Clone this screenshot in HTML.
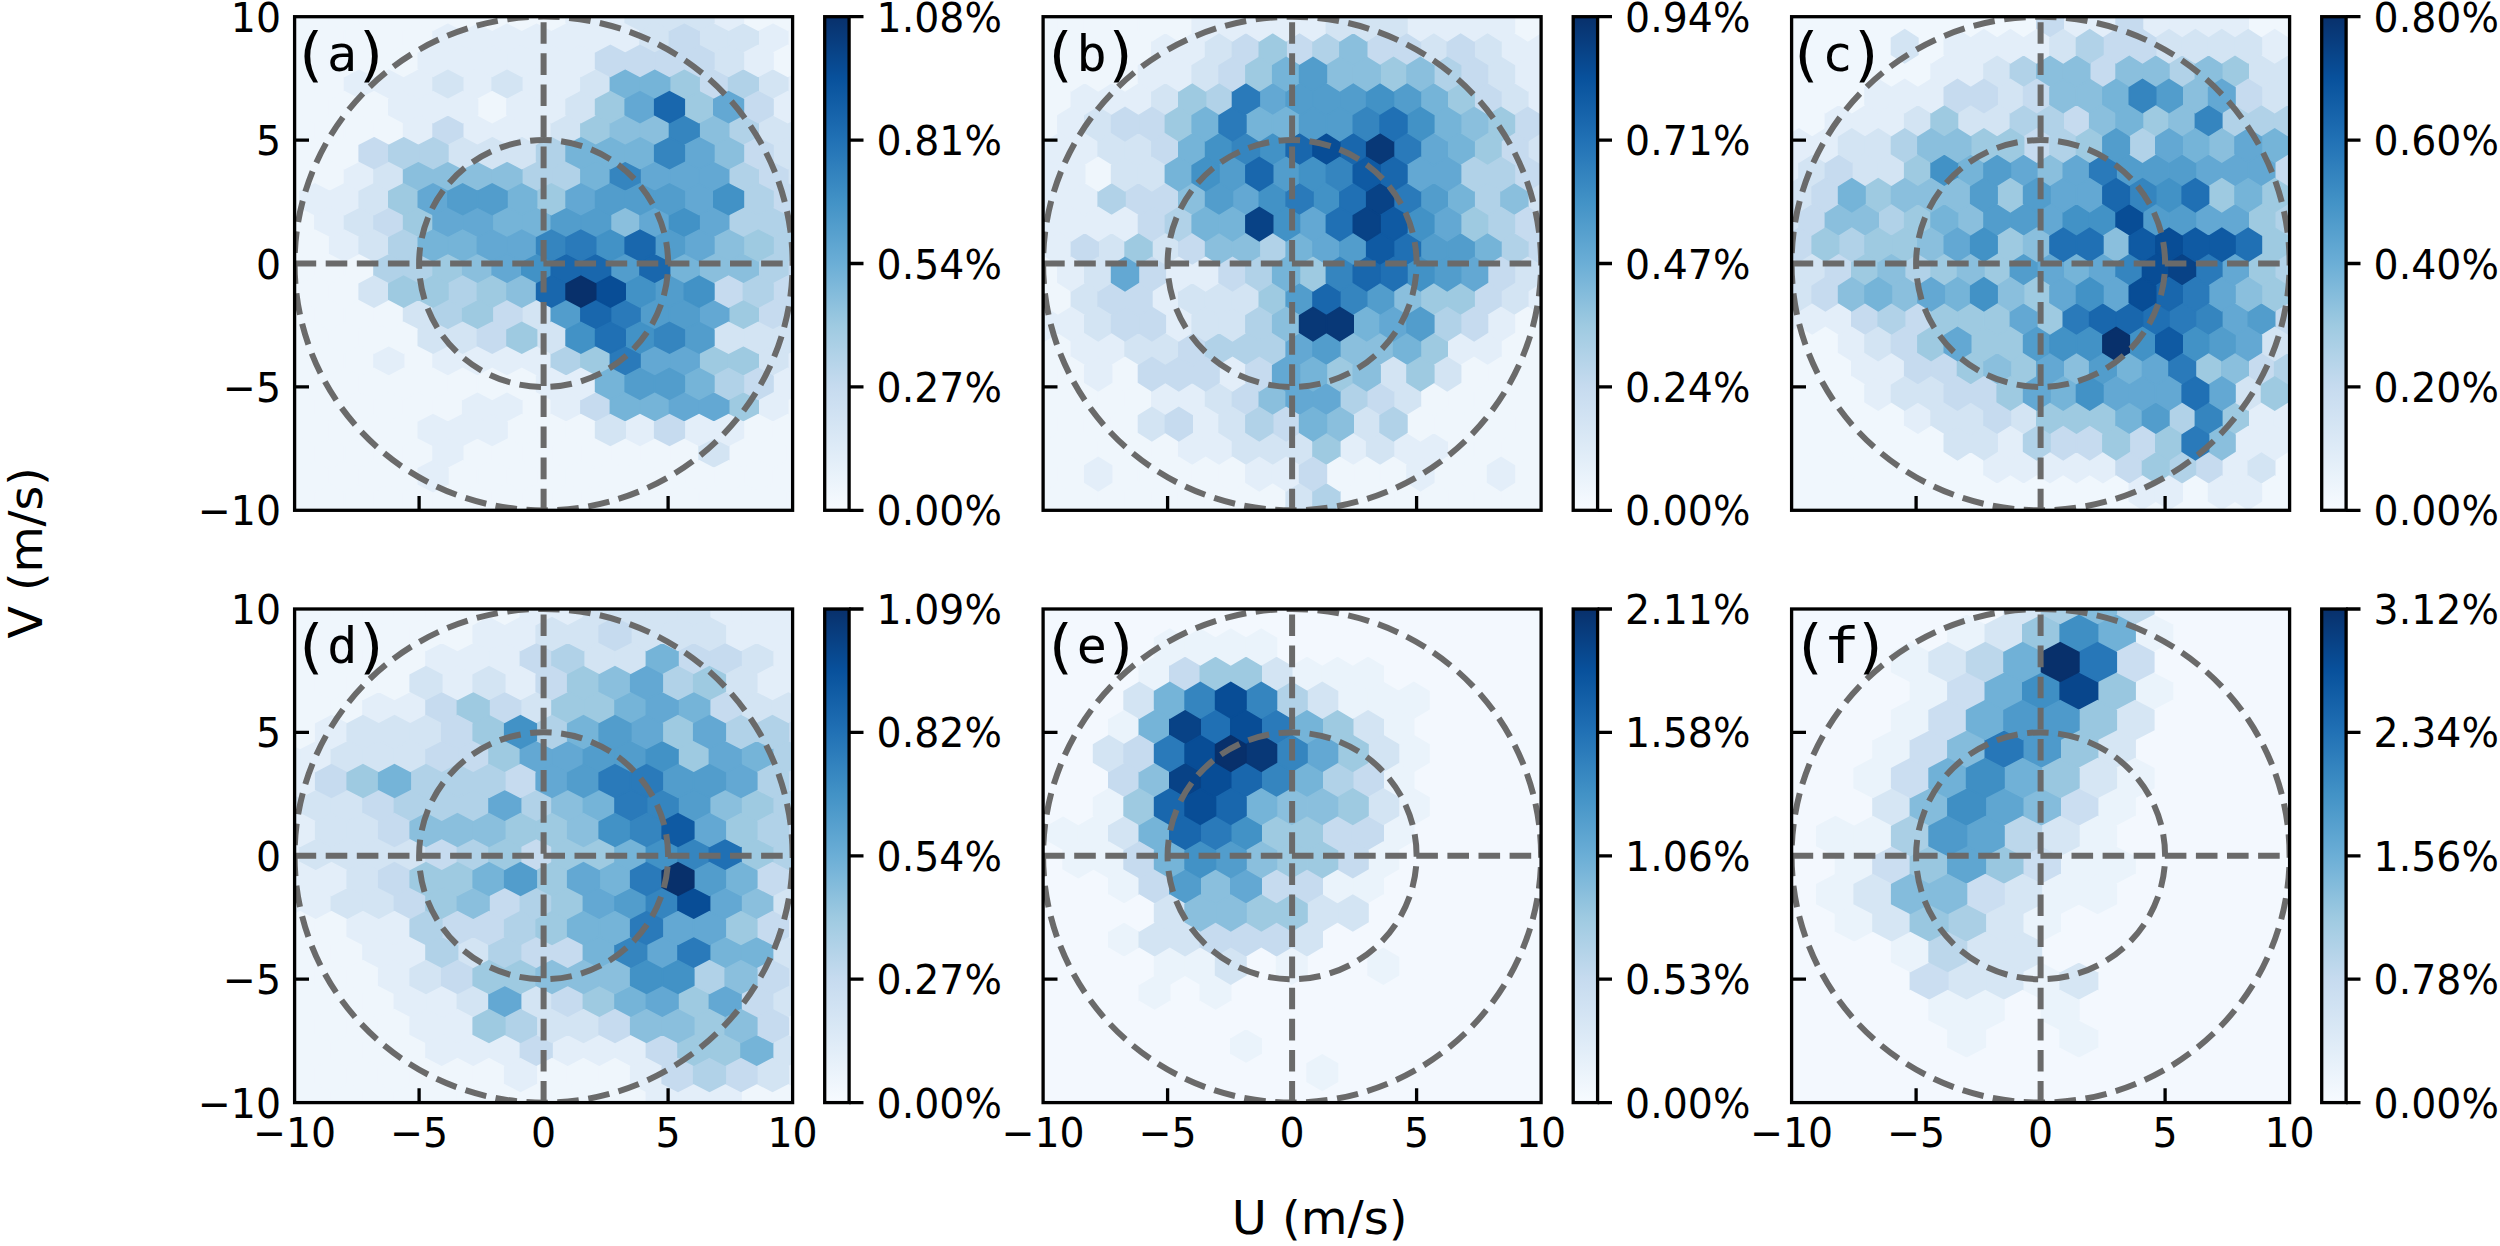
<!DOCTYPE html>
<html lang="en"><head><meta charset="utf-8"><title>Wind hodograph density (U, V)</title>
<style>html,body{margin:0;padding:0;background:#fff}body{width:2500px;height:1246px;overflow:hidden}svg{display:block}text{font-family:"DejaVu Sans","Liberation Sans",sans-serif;fill:#000}.m{font-family:"DejaVu Sans Mono","Liberation Mono",monospace;font-size:50px}.t{font-size:41px}.l{font-size:45.6px}.s{fill:none;stroke:#000;stroke-width:3.3}.d{fill:none;stroke:#6a6a6a;stroke-width:6;stroke-dasharray:21.6 9.5}</style></head><body>
<svg width="2500" height="1246" viewBox="0 0 2500 1246">
<defs><linearGradient id="cb" x1="0" y1="1" x2="0" y2="0">
<stop offset="0" stop-color="#f7fbff"/>
<stop offset="0.125" stop-color="#deebf7"/>
<stop offset="0.25" stop-color="#c6dbef"/>
<stop offset="0.375" stop-color="#9ecae1"/>
<stop offset="0.5" stop-color="#6baed6"/>
<stop offset="0.625" stop-color="#4292c6"/>
<stop offset="0.75" stop-color="#2171b5"/>
<stop offset="0.875" stop-color="#08519c"/>
<stop offset="1" stop-color="#08306b"/>
</linearGradient>
<clipPath id="c0"><rect x="294.6" y="16.7" width="498" height="493.6"/></clipPath>
<clipPath id="c1"><rect x="1043.1" y="16.7" width="498" height="493.6"/></clipPath>
<clipPath id="c2"><rect x="1791.6" y="16.7" width="498" height="493.6"/></clipPath>
<clipPath id="c3"><rect x="294.6" y="609" width="498" height="493.6"/></clipPath>
<clipPath id="c4"><rect x="1043.1" y="609" width="498" height="493.6"/></clipPath>
<clipPath id="c5"><rect x="1791.6" y="609" width="498" height="493.6"/></clipPath>
</defs>
<rect width="2500" height="1246" fill="#fff"/>
<g id="panel-a">
<rect x="294.6" y="16.7" width="498" height="493.6" fill="#f7fbff"/>
<g clip-path="url(#c0)" stroke-width="1.6" stroke-linejoin="miter">
<path fill="#eff6fc" stroke="#eff6fc" d="M300.2 22.5l14.8 7.7v15.4l-14.8 7.7l-14.8 -7.7v-15.4zM329.7 22.5l14.8 7.7v15.4l-14.8 7.7l-14.8 -7.7v-15.4zM359.3 22.5l14.8 7.7v15.4l-14.8 7.7l-14.8 -7.7v-15.4zM388.8 22.5l14.8 7.7v15.4l-14.8 7.7l-14.8 -7.7v-15.4zM418.4 22.5l14.8 7.7v15.4l-14.8 7.7l-14.8 -7.7v-15.4zM802.5 22.5l14.8 7.7v15.4l-14.8 7.7l-14.8 -7.7v-15.4zM300.2 68.6l14.8 7.7v15.4l-14.8 7.7l-14.8 -7.7v-15.4zM329.7 68.6l14.8 7.7v15.4l-14.8 7.7l-14.8 -7.7v-15.4zM300.2 114.7l14.8 7.7v15.4l-14.8 7.7l-14.8 -7.7v-15.4zM329.7 114.7l14.8 7.7v15.4l-14.8 7.7l-14.8 -7.7v-15.4zM359.3 114.7l14.8 7.7v15.4l-14.8 7.7l-14.8 -7.7v-15.4zM388.8 114.7l14.8 7.7v15.4l-14.8 7.7l-14.8 -7.7v-15.4zM300.2 160.9l14.8 7.7v15.4l-14.8 7.7l-14.8 -7.7v-15.4zM329.7 160.9l14.8 7.7v15.4l-14.8 7.7l-14.8 -7.7v-15.4zM300.2 207l14.8 7.7v15.4l-14.8 7.7l-14.8 -7.7v-15.4zM300.2 253.2l14.8 7.7v15.4l-14.8 7.7l-14.8 -7.7v-15.4zM329.7 253.2l14.8 7.7v15.4l-14.8 7.7l-14.8 -7.7v-15.4zM359.3 253.2l14.8 7.7v15.4l-14.8 7.7l-14.8 -7.7v-15.4zM300.2 299.3l14.8 7.7v15.4l-14.8 7.7l-14.8 -7.7v-15.4zM329.7 299.3l14.8 7.7v15.4l-14.8 7.7l-14.8 -7.7v-15.4zM359.3 299.3l14.8 7.7v15.4l-14.8 7.7l-14.8 -7.7v-15.4zM388.8 299.3l14.8 7.7v15.4l-14.8 7.7l-14.8 -7.7v-15.4zM300.2 345.4l14.8 7.7v15.4l-14.8 7.7l-14.8 -7.7v-15.4zM329.7 345.4l14.8 7.7v15.4l-14.8 7.7l-14.8 -7.7v-15.4zM359.3 345.4l14.8 7.7v15.4l-14.8 7.7l-14.8 -7.7v-15.4zM418.4 345.4l14.8 7.7v15.4l-14.8 7.7l-14.8 -7.7v-15.4zM300.2 391.6l14.8 7.7v15.4l-14.8 7.7l-14.8 -7.7v-15.4zM329.7 391.6l14.8 7.7v15.4l-14.8 7.7l-14.8 -7.7v-15.4zM359.3 391.6l14.8 7.7v15.4l-14.8 7.7l-14.8 -7.7v-15.4zM388.8 391.6l14.8 7.7v15.4l-14.8 7.7l-14.8 -7.7v-15.4zM418.4 391.6l14.8 7.7v15.4l-14.8 7.7l-14.8 -7.7v-15.4zM447.9 391.6l14.8 7.7v15.4l-14.8 7.7l-14.8 -7.7v-15.4zM536.6 391.6l14.8 7.7v15.4l-14.8 7.7l-14.8 -7.7v-15.4zM802.5 391.6l14.8 7.7v15.4l-14.8 7.7l-14.8 -7.7v-15.4zM300.2 437.7l14.8 7.7v15.4l-14.8 7.7l-14.8 -7.7v-15.4zM329.7 437.7l14.8 7.7v15.4l-14.8 7.7l-14.8 -7.7v-15.4zM359.3 437.7l14.8 7.7v15.4l-14.8 7.7l-14.8 -7.7v-15.4zM388.8 437.7l14.8 7.7v15.4l-14.8 7.7l-14.8 -7.7v-15.4zM418.4 437.7l14.8 7.7v15.4l-14.8 7.7l-14.8 -7.7v-15.4zM477.5 437.7l14.8 7.7v15.4l-14.8 7.7l-14.8 -7.7v-15.4zM507 437.7l14.8 7.7v15.4l-14.8 7.7l-14.8 -7.7v-15.4zM536.6 437.7l14.8 7.7v15.4l-14.8 7.7l-14.8 -7.7v-15.4zM566.1 437.7l14.8 7.7v15.4l-14.8 7.7l-14.8 -7.7v-15.4zM595.7 437.7l14.8 7.7v15.4l-14.8 7.7l-14.8 -7.7v-15.4zM625.2 437.7l14.8 7.7v15.4l-14.8 7.7l-14.8 -7.7v-15.4zM654.8 437.7l14.8 7.7v15.4l-14.8 7.7l-14.8 -7.7v-15.4zM684.3 437.7l14.8 7.7v15.4l-14.8 7.7l-14.8 -7.7v-15.4zM743.4 437.7l14.8 7.7v15.4l-14.8 7.7l-14.8 -7.7v-15.4zM773 437.7l14.8 7.7v15.4l-14.8 7.7l-14.8 -7.7v-15.4zM802.5 437.7l14.8 7.7v15.4l-14.8 7.7l-14.8 -7.7v-15.4zM300.2 483.9l14.8 7.7v15.4l-14.8 7.7l-14.8 -7.7v-15.4zM329.7 483.9l14.8 7.7v15.4l-14.8 7.7l-14.8 -7.7v-15.4zM359.3 483.9l14.8 7.7v15.4l-14.8 7.7l-14.8 -7.7v-15.4zM388.8 483.9l14.8 7.7v15.4l-14.8 7.7l-14.8 -7.7v-15.4zM418.4 483.9l14.8 7.7v15.4l-14.8 7.7l-14.8 -7.7v-15.4zM447.9 483.9l14.8 7.7v15.4l-14.8 7.7l-14.8 -7.7v-15.4zM477.5 483.9l14.8 7.7v15.4l-14.8 7.7l-14.8 -7.7v-15.4zM507 483.9l14.8 7.7v15.4l-14.8 7.7l-14.8 -7.7v-15.4zM536.6 483.9l14.8 7.7v15.4l-14.8 7.7l-14.8 -7.7v-15.4zM566.1 483.9l14.8 7.7v15.4l-14.8 7.7l-14.8 -7.7v-15.4zM595.7 483.9l14.8 7.7v15.4l-14.8 7.7l-14.8 -7.7v-15.4zM625.2 483.9l14.8 7.7v15.4l-14.8 7.7l-14.8 -7.7v-15.4zM654.8 483.9l14.8 7.7v15.4l-14.8 7.7l-14.8 -7.7v-15.4zM684.3 483.9l14.8 7.7v15.4l-14.8 7.7l-14.8 -7.7v-15.4zM713.9 483.9l14.8 7.7v15.4l-14.8 7.7l-14.8 -7.7v-15.4zM743.4 483.9l14.8 7.7v15.4l-14.8 7.7l-14.8 -7.7v-15.4zM773 483.9l14.8 7.7v15.4l-14.8 7.7l-14.8 -7.7v-15.4zM802.5 483.9l14.8 7.7v15.4l-14.8 7.7l-14.8 -7.7v-15.4z"/>
<path fill="#e3eef9" stroke="#e3eef9" d="M447.9 22.5l14.8 7.7v15.4l-14.8 7.7l-14.8 -7.7v-15.4zM477.5 22.5l14.8 7.7v15.4l-14.8 7.7l-14.8 -7.7v-15.4zM507 22.5l14.8 7.7v15.4l-14.8 7.7l-14.8 -7.7v-15.4zM536.6 22.5l14.8 7.7v15.4l-14.8 7.7l-14.8 -7.7v-15.4zM566.1 22.5l14.8 7.7v15.4l-14.8 7.7l-14.8 -7.7v-15.4zM595.7 22.5l14.8 7.7v15.4l-14.8 7.7l-14.8 -7.7v-15.4zM625.2 22.5l14.8 7.7v15.4l-14.8 7.7l-14.8 -7.7v-15.4zM773 22.5l14.8 7.7v15.4l-14.8 7.7l-14.8 -7.7v-15.4zM359.3 68.6l14.8 7.7v15.4l-14.8 7.7l-14.8 -7.7v-15.4zM388.8 68.6l14.8 7.7v15.4l-14.8 7.7l-14.8 -7.7v-15.4zM418.4 68.6l14.8 7.7v15.4l-14.8 7.7l-14.8 -7.7v-15.4zM477.5 68.6l14.8 7.7v15.4l-14.8 7.7l-14.8 -7.7v-15.4zM536.6 68.6l14.8 7.7v15.4l-14.8 7.7l-14.8 -7.7v-15.4zM566.1 68.6l14.8 7.7v15.4l-14.8 7.7l-14.8 -7.7v-15.4zM802.5 68.6l14.8 7.7v15.4l-14.8 7.7l-14.8 -7.7v-15.4zM418.4 114.7l14.8 7.7v15.4l-14.8 7.7l-14.8 -7.7v-15.4zM477.5 114.7l14.8 7.7v15.4l-14.8 7.7l-14.8 -7.7v-15.4zM507 114.7l14.8 7.7v15.4l-14.8 7.7l-14.8 -7.7v-15.4zM536.6 114.7l14.8 7.7v15.4l-14.8 7.7l-14.8 -7.7v-15.4zM359.3 160.9l14.8 7.7v15.4l-14.8 7.7l-14.8 -7.7v-15.4zM329.7 207l14.8 7.7v15.4l-14.8 7.7l-14.8 -7.7v-15.4zM388.8 345.4l14.8 7.7v15.4l-14.8 7.7l-14.8 -7.7v-15.4zM447.9 345.4l14.8 7.7v15.4l-14.8 7.7l-14.8 -7.7v-15.4zM477.5 345.4l14.8 7.7v15.4l-14.8 7.7l-14.8 -7.7v-15.4zM507 345.4l14.8 7.7v15.4l-14.8 7.7l-14.8 -7.7v-15.4zM536.6 345.4l14.8 7.7v15.4l-14.8 7.7l-14.8 -7.7v-15.4zM802.5 345.4l14.8 7.7v15.4l-14.8 7.7l-14.8 -7.7v-15.4zM477.5 391.6l14.8 7.7v15.4l-14.8 7.7l-14.8 -7.7v-15.4zM507 391.6l14.8 7.7v15.4l-14.8 7.7l-14.8 -7.7v-15.4zM566.1 391.6l14.8 7.7v15.4l-14.8 7.7l-14.8 -7.7v-15.4zM773 391.6l14.8 7.7v15.4l-14.8 7.7l-14.8 -7.7v-15.4zM447.9 437.7l14.8 7.7v15.4l-14.8 7.7l-14.8 -7.7v-15.4z"/>
<path fill="#d3e4f3" stroke="#d3e4f3" d="M654.8 22.5l14.8 7.7v15.4l-14.8 7.7l-14.8 -7.7v-15.4zM713.9 22.5l14.8 7.7v15.4l-14.8 7.7l-14.8 -7.7v-15.4zM743.4 22.5l14.8 7.7v15.4l-14.8 7.7l-14.8 -7.7v-15.4zM447.9 68.6l14.8 7.7v15.4l-14.8 7.7l-14.8 -7.7v-15.4zM507 68.6l14.8 7.7v15.4l-14.8 7.7l-14.8 -7.7v-15.4zM595.7 68.6l14.8 7.7v15.4l-14.8 7.7l-14.8 -7.7v-15.4zM773 68.6l14.8 7.7v15.4l-14.8 7.7l-14.8 -7.7v-15.4zM566.1 114.7l14.8 7.7v15.4l-14.8 7.7l-14.8 -7.7v-15.4zM773 114.7l14.8 7.7v15.4l-14.8 7.7l-14.8 -7.7v-15.4zM802.5 114.7l14.8 7.7v15.4l-14.8 7.7l-14.8 -7.7v-15.4zM388.8 160.9l14.8 7.7v15.4l-14.8 7.7l-14.8 -7.7v-15.4zM802.5 160.9l14.8 7.7v15.4l-14.8 7.7l-14.8 -7.7v-15.4zM359.3 207l14.8 7.7v15.4l-14.8 7.7l-14.8 -7.7v-15.4zM418.4 299.3l14.8 7.7v15.4l-14.8 7.7l-14.8 -7.7v-15.4zM536.6 299.3l14.8 7.7v15.4l-14.8 7.7l-14.8 -7.7v-15.4zM802.5 299.3l14.8 7.7v15.4l-14.8 7.7l-14.8 -7.7v-15.4zM773 345.4l14.8 7.7v15.4l-14.8 7.7l-14.8 -7.7v-15.4zM713.9 437.7l14.8 7.7v15.4l-14.8 7.7l-14.8 -7.7v-15.4z"/>
<path fill="#c6dbef" stroke="#c6dbef" d="M684.3 22.5l14.8 7.7v15.4l-14.8 7.7l-14.8 -7.7v-15.4zM713.9 68.6l14.8 7.7v15.4l-14.8 7.7l-14.8 -7.7v-15.4zM447.9 114.7l14.8 7.7v15.4l-14.8 7.7l-14.8 -7.7v-15.4zM773 160.9l14.8 7.7v15.4l-14.8 7.7l-14.8 -7.7v-15.4zM388.8 207l14.8 7.7v15.4l-14.8 7.7l-14.8 -7.7v-15.4zM802.5 207l14.8 7.7v15.4l-14.8 7.7l-14.8 -7.7v-15.4zM802.5 253.2l14.8 7.7v15.4l-14.8 7.7l-14.8 -7.7v-15.4zM507 299.3l14.8 7.7v15.4l-14.8 7.7l-14.8 -7.7v-15.4zM773 299.3l14.8 7.7v15.4l-14.8 7.7l-14.8 -7.7v-15.4zM595.7 391.6l14.8 7.7v15.4l-14.8 7.7l-14.8 -7.7v-15.4z"/>
<path fill="#b1d2e8" stroke="#b1d2e8" d="M743.4 68.6l14.8 7.7v15.4l-14.8 7.7l-14.8 -7.7v-15.4zM743.4 114.7l14.8 7.7v15.4l-14.8 7.7l-14.8 -7.7v-15.4zM536.6 160.9l14.8 7.7v15.4l-14.8 7.7l-14.8 -7.7v-15.4zM566.1 160.9l14.8 7.7v15.4l-14.8 7.7l-14.8 -7.7v-15.4zM743.4 160.9l14.8 7.7v15.4l-14.8 7.7l-14.8 -7.7v-15.4zM743.4 207l14.8 7.7v15.4l-14.8 7.7l-14.8 -7.7v-15.4zM773 207l14.8 7.7v15.4l-14.8 7.7l-14.8 -7.7v-15.4zM388.8 253.2l14.8 7.7v15.4l-14.8 7.7l-14.8 -7.7v-15.4zM418.4 253.2l14.8 7.7v15.4l-14.8 7.7l-14.8 -7.7v-15.4zM773 253.2l14.8 7.7v15.4l-14.8 7.7l-14.8 -7.7v-15.4zM447.9 299.3l14.8 7.7v15.4l-14.8 7.7l-14.8 -7.7v-15.4zM566.1 345.4l14.8 7.7v15.4l-14.8 7.7l-14.8 -7.7v-15.4z"/>
<path fill="#9ecae1" stroke="#9ecae1" d="M684.3 68.6l14.8 7.7v15.4l-14.8 7.7l-14.8 -7.7v-15.4zM595.7 114.7l14.8 7.7v15.4l-14.8 7.7l-14.8 -7.7v-15.4zM418.4 207l14.8 7.7v15.4l-14.8 7.7l-14.8 -7.7v-15.4zM447.9 253.2l14.8 7.7v15.4l-14.8 7.7l-14.8 -7.7v-15.4zM477.5 299.3l14.8 7.7v15.4l-14.8 7.7l-14.8 -7.7v-15.4zM743.4 299.3l14.8 7.7v15.4l-14.8 7.7l-14.8 -7.7v-15.4zM595.7 345.4l14.8 7.7v15.4l-14.8 7.7l-14.8 -7.7v-15.4zM713.9 345.4l14.8 7.7v15.4l-14.8 7.7l-14.8 -7.7v-15.4zM743.4 345.4l14.8 7.7v15.4l-14.8 7.7l-14.8 -7.7v-15.4zM743.4 391.6l14.8 7.7v15.4l-14.8 7.7l-14.8 -7.7v-15.4z"/>
<path fill="#8abfdd" stroke="#8abfdd" d="M625.2 114.7l14.8 7.7v15.4l-14.8 7.7l-14.8 -7.7v-15.4zM654.8 114.7l14.8 7.7v15.4l-14.8 7.7l-14.8 -7.7v-15.4zM713.9 114.7l14.8 7.7v15.4l-14.8 7.7l-14.8 -7.7v-15.4zM418.4 160.9l14.8 7.7v15.4l-14.8 7.7l-14.8 -7.7v-15.4zM447.9 160.9l14.8 7.7v15.4l-14.8 7.7l-14.8 -7.7v-15.4zM477.5 160.9l14.8 7.7v15.4l-14.8 7.7l-14.8 -7.7v-15.4zM507 160.9l14.8 7.7v15.4l-14.8 7.7l-14.8 -7.7v-15.4zM625.2 207l14.8 7.7v15.4l-14.8 7.7l-14.8 -7.7v-15.4zM477.5 253.2l14.8 7.7v15.4l-14.8 7.7l-14.8 -7.7v-15.4zM713.9 253.2l14.8 7.7v15.4l-14.8 7.7l-14.8 -7.7v-15.4zM743.4 253.2l14.8 7.7v15.4l-14.8 7.7l-14.8 -7.7v-15.4z"/>
<path fill="#75b4d8" stroke="#75b4d8" d="M625.2 68.6l14.8 7.7v15.4l-14.8 7.7l-14.8 -7.7v-15.4zM654.8 68.6l14.8 7.7v15.4l-14.8 7.7l-14.8 -7.7v-15.4zM595.7 160.9l14.8 7.7v15.4l-14.8 7.7l-14.8 -7.7v-15.4zM507 207l14.8 7.7v15.4l-14.8 7.7l-14.8 -7.7v-15.4zM536.6 207l14.8 7.7v15.4l-14.8 7.7l-14.8 -7.7v-15.4zM684.3 253.2l14.8 7.7v15.4l-14.8 7.7l-14.8 -7.7v-15.4zM625.2 391.6l14.8 7.7v15.4l-14.8 7.7l-14.8 -7.7v-15.4zM654.8 391.6l14.8 7.7v15.4l-14.8 7.7l-14.8 -7.7v-15.4z"/>
<path fill="#63a8d3" stroke="#63a8d3" d="M654.8 160.9l14.8 7.7v15.4l-14.8 7.7l-14.8 -7.7v-15.4zM684.3 160.9l14.8 7.7v15.4l-14.8 7.7l-14.8 -7.7v-15.4zM713.9 160.9l14.8 7.7v15.4l-14.8 7.7l-14.8 -7.7v-15.4zM447.9 207l14.8 7.7v15.4l-14.8 7.7l-14.8 -7.7v-15.4zM477.5 207l14.8 7.7v15.4l-14.8 7.7l-14.8 -7.7v-15.4zM654.8 207l14.8 7.7v15.4l-14.8 7.7l-14.8 -7.7v-15.4zM713.9 207l14.8 7.7v15.4l-14.8 7.7l-14.8 -7.7v-15.4zM507 253.2l14.8 7.7v15.4l-14.8 7.7l-14.8 -7.7v-15.4zM713.9 299.3l14.8 7.7v15.4l-14.8 7.7l-14.8 -7.7v-15.4zM654.8 345.4l14.8 7.7v15.4l-14.8 7.7l-14.8 -7.7v-15.4zM684.3 345.4l14.8 7.7v15.4l-14.8 7.7l-14.8 -7.7v-15.4zM684.3 391.6l14.8 7.7v15.4l-14.8 7.7l-14.8 -7.7v-15.4zM713.9 391.6l14.8 7.7v15.4l-14.8 7.7l-14.8 -7.7v-15.4z"/>
<path fill="#529dcc" stroke="#529dcc" d="M566.1 207l14.8 7.7v15.4l-14.8 7.7l-14.8 -7.7v-15.4zM595.7 207l14.8 7.7v15.4l-14.8 7.7l-14.8 -7.7v-15.4zM625.2 253.2l14.8 7.7v15.4l-14.8 7.7l-14.8 -7.7v-15.4zM566.1 299.3l14.8 7.7v15.4l-14.8 7.7l-14.8 -7.7v-15.4zM654.8 299.3l14.8 7.7v15.4l-14.8 7.7l-14.8 -7.7v-15.4zM684.3 299.3l14.8 7.7v15.4l-14.8 7.7l-14.8 -7.7v-15.4z"/>
<path fill="#4292c6" stroke="#4292c6" d="M684.3 207l14.8 7.7v15.4l-14.8 7.7l-14.8 -7.7v-15.4zM536.6 253.2l14.8 7.7v15.4l-14.8 7.7l-14.8 -7.7v-15.4z"/>
<path fill="#3585bf" stroke="#3585bf" d="M684.3 114.7l14.8 7.7v15.4l-14.8 7.7l-14.8 -7.7v-15.4zM625.2 160.9l14.8 7.7v15.4l-14.8 7.7l-14.8 -7.7v-15.4z"/>
<path fill="#2a7aba" stroke="#2a7aba" d="M625.2 299.3l14.8 7.7v15.4l-14.8 7.7l-14.8 -7.7v-15.4zM625.2 345.4l14.8 7.7v15.4l-14.8 7.7l-14.8 -7.7v-15.4z"/>
<path fill="#1967ad" stroke="#1967ad" d="M566.1 253.2l14.8 7.7v15.4l-14.8 7.7l-14.8 -7.7v-15.4zM595.7 253.2l14.8 7.7v15.4l-14.8 7.7l-14.8 -7.7v-15.4zM654.8 253.2l14.8 7.7v15.4l-14.8 7.7l-14.8 -7.7v-15.4zM595.7 299.3l14.8 7.7v15.4l-14.8 7.7l-14.8 -7.7v-15.4z"/>
<path fill="#eff6fc" stroke="#eff6fc" d="M285.4 -0.6l14.8 7.7v15.4l-14.8 7.7l-14.8 -7.7v-15.4zM314.9 -0.6l14.8 7.7v15.4l-14.8 7.7l-14.8 -7.7v-15.4zM344.5 -0.6l14.8 7.7v15.4l-14.8 7.7l-14.8 -7.7v-15.4zM374 -0.6l14.8 7.7v15.4l-14.8 7.7l-14.8 -7.7v-15.4zM403.6 -0.6l14.8 7.7v15.4l-14.8 7.7l-14.8 -7.7v-15.4zM433.1 -0.6l14.8 7.7v15.4l-14.8 7.7l-14.8 -7.7v-15.4zM462.7 -0.6l14.8 7.7v15.4l-14.8 7.7l-14.8 -7.7v-15.4zM492.2 -0.6l14.8 7.7v15.4l-14.8 7.7l-14.8 -7.7v-15.4zM521.8 -0.6l14.8 7.7v15.4l-14.8 7.7l-14.8 -7.7v-15.4zM551.4 -0.6l14.8 7.7v15.4l-14.8 7.7l-14.8 -7.7v-15.4zM758.2 -0.6l14.8 7.7v15.4l-14.8 7.7l-14.8 -7.7v-15.4zM787.8 -0.6l14.8 7.7v15.4l-14.8 7.7l-14.8 -7.7v-15.4zM285.4 45.5l14.8 7.7v15.4l-14.8 7.7l-14.8 -7.7v-15.4zM314.9 45.5l14.8 7.7v15.4l-14.8 7.7l-14.8 -7.7v-15.4zM344.5 45.5l14.8 7.7v15.4l-14.8 7.7l-14.8 -7.7v-15.4zM374 45.5l14.8 7.7v15.4l-14.8 7.7l-14.8 -7.7v-15.4zM403.6 45.5l14.8 7.7v15.4l-14.8 7.7l-14.8 -7.7v-15.4zM787.8 45.5l14.8 7.7v15.4l-14.8 7.7l-14.8 -7.7v-15.4zM285.4 91.7l14.8 7.7v15.4l-14.8 7.7l-14.8 -7.7v-15.4zM314.9 91.7l14.8 7.7v15.4l-14.8 7.7l-14.8 -7.7v-15.4zM344.5 91.7l14.8 7.7v15.4l-14.8 7.7l-14.8 -7.7v-15.4zM374 91.7l14.8 7.7v15.4l-14.8 7.7l-14.8 -7.7v-15.4zM492.2 91.7l14.8 7.7v15.4l-14.8 7.7l-14.8 -7.7v-15.4zM285.4 137.8l14.8 7.7v15.4l-14.8 7.7l-14.8 -7.7v-15.4zM314.9 137.8l14.8 7.7v15.4l-14.8 7.7l-14.8 -7.7v-15.4zM344.5 137.8l14.8 7.7v15.4l-14.8 7.7l-14.8 -7.7v-15.4zM285.4 183.9l14.8 7.7v15.4l-14.8 7.7l-14.8 -7.7v-15.4zM285.4 230.1l14.8 7.7v15.4l-14.8 7.7l-14.8 -7.7v-15.4zM314.9 230.1l14.8 7.7v15.4l-14.8 7.7l-14.8 -7.7v-15.4zM285.4 276.2l14.8 7.7v15.4l-14.8 7.7l-14.8 -7.7v-15.4zM314.9 276.2l14.8 7.7v15.4l-14.8 7.7l-14.8 -7.7v-15.4zM344.5 276.2l14.8 7.7v15.4l-14.8 7.7l-14.8 -7.7v-15.4zM285.4 322.4l14.8 7.7v15.4l-14.8 7.7l-14.8 -7.7v-15.4zM314.9 322.4l14.8 7.7v15.4l-14.8 7.7l-14.8 -7.7v-15.4zM344.5 322.4l14.8 7.7v15.4l-14.8 7.7l-14.8 -7.7v-15.4zM374 322.4l14.8 7.7v15.4l-14.8 7.7l-14.8 -7.7v-15.4zM403.6 322.4l14.8 7.7v15.4l-14.8 7.7l-14.8 -7.7v-15.4zM285.4 368.5l14.8 7.7v15.4l-14.8 7.7l-14.8 -7.7v-15.4zM314.9 368.5l14.8 7.7v15.4l-14.8 7.7l-14.8 -7.7v-15.4zM344.5 368.5l14.8 7.7v15.4l-14.8 7.7l-14.8 -7.7v-15.4zM374 368.5l14.8 7.7v15.4l-14.8 7.7l-14.8 -7.7v-15.4zM403.6 368.5l14.8 7.7v15.4l-14.8 7.7l-14.8 -7.7v-15.4zM433.1 368.5l14.8 7.7v15.4l-14.8 7.7l-14.8 -7.7v-15.4zM462.7 368.5l14.8 7.7v15.4l-14.8 7.7l-14.8 -7.7v-15.4zM492.2 368.5l14.8 7.7v15.4l-14.8 7.7l-14.8 -7.7v-15.4zM521.8 368.5l14.8 7.7v15.4l-14.8 7.7l-14.8 -7.7v-15.4zM285.4 414.6l14.8 7.7v15.4l-14.8 7.7l-14.8 -7.7v-15.4zM314.9 414.6l14.8 7.7v15.4l-14.8 7.7l-14.8 -7.7v-15.4zM344.5 414.6l14.8 7.7v15.4l-14.8 7.7l-14.8 -7.7v-15.4zM374 414.6l14.8 7.7v15.4l-14.8 7.7l-14.8 -7.7v-15.4zM403.6 414.6l14.8 7.7v15.4l-14.8 7.7l-14.8 -7.7v-15.4zM521.8 414.6l14.8 7.7v15.4l-14.8 7.7l-14.8 -7.7v-15.4zM551.4 414.6l14.8 7.7v15.4l-14.8 7.7l-14.8 -7.7v-15.4zM580.9 414.6l14.8 7.7v15.4l-14.8 7.7l-14.8 -7.7v-15.4zM758.2 414.6l14.8 7.7v15.4l-14.8 7.7l-14.8 -7.7v-15.4zM787.8 414.6l14.8 7.7v15.4l-14.8 7.7l-14.8 -7.7v-15.4zM285.4 460.8l14.8 7.7v15.4l-14.8 7.7l-14.8 -7.7v-15.4zM314.9 460.8l14.8 7.7v15.4l-14.8 7.7l-14.8 -7.7v-15.4zM344.5 460.8l14.8 7.7v15.4l-14.8 7.7l-14.8 -7.7v-15.4zM374 460.8l14.8 7.7v15.4l-14.8 7.7l-14.8 -7.7v-15.4zM403.6 460.8l14.8 7.7v15.4l-14.8 7.7l-14.8 -7.7v-15.4zM462.7 460.8l14.8 7.7v15.4l-14.8 7.7l-14.8 -7.7v-15.4zM492.2 460.8l14.8 7.7v15.4l-14.8 7.7l-14.8 -7.7v-15.4zM521.8 460.8l14.8 7.7v15.4l-14.8 7.7l-14.8 -7.7v-15.4zM551.4 460.8l14.8 7.7v15.4l-14.8 7.7l-14.8 -7.7v-15.4zM580.9 460.8l14.8 7.7v15.4l-14.8 7.7l-14.8 -7.7v-15.4zM610.4 460.8l14.8 7.7v15.4l-14.8 7.7l-14.8 -7.7v-15.4zM640 460.8l14.8 7.7v15.4l-14.8 7.7l-14.8 -7.7v-15.4zM669.5 460.8l14.8 7.7v15.4l-14.8 7.7l-14.8 -7.7v-15.4zM699.1 460.8l14.8 7.7v15.4l-14.8 7.7l-14.8 -7.7v-15.4zM728.6 460.8l14.8 7.7v15.4l-14.8 7.7l-14.8 -7.7v-15.4zM758.2 460.8l14.8 7.7v15.4l-14.8 7.7l-14.8 -7.7v-15.4zM787.8 460.8l14.8 7.7v15.4l-14.8 7.7l-14.8 -7.7v-15.4zM285.4 506.9l14.8 7.7v15.4l-14.8 7.7l-14.8 -7.7v-15.4zM314.9 506.9l14.8 7.7v15.4l-14.8 7.7l-14.8 -7.7v-15.4zM344.5 506.9l14.8 7.7v15.4l-14.8 7.7l-14.8 -7.7v-15.4zM374 506.9l14.8 7.7v15.4l-14.8 7.7l-14.8 -7.7v-15.4zM403.6 506.9l14.8 7.7v15.4l-14.8 7.7l-14.8 -7.7v-15.4zM433.1 506.9l14.8 7.7v15.4l-14.8 7.7l-14.8 -7.7v-15.4zM462.7 506.9l14.8 7.7v15.4l-14.8 7.7l-14.8 -7.7v-15.4zM492.2 506.9l14.8 7.7v15.4l-14.8 7.7l-14.8 -7.7v-15.4zM521.8 506.9l14.8 7.7v15.4l-14.8 7.7l-14.8 -7.7v-15.4zM551.4 506.9l14.8 7.7v15.4l-14.8 7.7l-14.8 -7.7v-15.4zM580.9 506.9l14.8 7.7v15.4l-14.8 7.7l-14.8 -7.7v-15.4zM610.4 506.9l14.8 7.7v15.4l-14.8 7.7l-14.8 -7.7v-15.4zM640 506.9l14.8 7.7v15.4l-14.8 7.7l-14.8 -7.7v-15.4zM669.5 506.9l14.8 7.7v15.4l-14.8 7.7l-14.8 -7.7v-15.4zM699.1 506.9l14.8 7.7v15.4l-14.8 7.7l-14.8 -7.7v-15.4zM728.6 506.9l14.8 7.7v15.4l-14.8 7.7l-14.8 -7.7v-15.4zM758.2 506.9l14.8 7.7v15.4l-14.8 7.7l-14.8 -7.7v-15.4zM787.8 506.9l14.8 7.7v15.4l-14.8 7.7l-14.8 -7.7v-15.4z"/>
<path fill="#e3eef9" stroke="#e3eef9" d="M580.9 -0.6l14.8 7.7v15.4l-14.8 7.7l-14.8 -7.7v-15.4zM610.4 -0.6l14.8 7.7v15.4l-14.8 7.7l-14.8 -7.7v-15.4zM728.6 -0.6l14.8 7.7v15.4l-14.8 7.7l-14.8 -7.7v-15.4zM433.1 45.5l14.8 7.7v15.4l-14.8 7.7l-14.8 -7.7v-15.4zM462.7 45.5l14.8 7.7v15.4l-14.8 7.7l-14.8 -7.7v-15.4zM492.2 45.5l14.8 7.7v15.4l-14.8 7.7l-14.8 -7.7v-15.4zM521.8 45.5l14.8 7.7v15.4l-14.8 7.7l-14.8 -7.7v-15.4zM551.4 45.5l14.8 7.7v15.4l-14.8 7.7l-14.8 -7.7v-15.4zM580.9 45.5l14.8 7.7v15.4l-14.8 7.7l-14.8 -7.7v-15.4zM758.2 45.5l14.8 7.7v15.4l-14.8 7.7l-14.8 -7.7v-15.4zM403.6 91.7l14.8 7.7v15.4l-14.8 7.7l-14.8 -7.7v-15.4zM433.1 91.7l14.8 7.7v15.4l-14.8 7.7l-14.8 -7.7v-15.4zM462.7 91.7l14.8 7.7v15.4l-14.8 7.7l-14.8 -7.7v-15.4zM521.8 91.7l14.8 7.7v15.4l-14.8 7.7l-14.8 -7.7v-15.4zM551.4 91.7l14.8 7.7v15.4l-14.8 7.7l-14.8 -7.7v-15.4zM787.8 91.7l14.8 7.7v15.4l-14.8 7.7l-14.8 -7.7v-15.4zM314.9 183.9l14.8 7.7v15.4l-14.8 7.7l-14.8 -7.7v-15.4zM344.5 183.9l14.8 7.7v15.4l-14.8 7.7l-14.8 -7.7v-15.4zM344.5 230.1l14.8 7.7v15.4l-14.8 7.7l-14.8 -7.7v-15.4zM551.4 368.5l14.8 7.7v15.4l-14.8 7.7l-14.8 -7.7v-15.4zM580.9 368.5l14.8 7.7v15.4l-14.8 7.7l-14.8 -7.7v-15.4zM787.8 368.5l14.8 7.7v15.4l-14.8 7.7l-14.8 -7.7v-15.4zM433.1 414.6l14.8 7.7v15.4l-14.8 7.7l-14.8 -7.7v-15.4zM462.7 414.6l14.8 7.7v15.4l-14.8 7.7l-14.8 -7.7v-15.4zM492.2 414.6l14.8 7.7v15.4l-14.8 7.7l-14.8 -7.7v-15.4zM640 414.6l14.8 7.7v15.4l-14.8 7.7l-14.8 -7.7v-15.4zM699.1 414.6l14.8 7.7v15.4l-14.8 7.7l-14.8 -7.7v-15.4zM728.6 414.6l14.8 7.7v15.4l-14.8 7.7l-14.8 -7.7v-15.4zM433.1 460.8l14.8 7.7v15.4l-14.8 7.7l-14.8 -7.7v-15.4z"/>
<path fill="#d3e4f3" stroke="#d3e4f3" d="M640 -0.6l14.8 7.7v15.4l-14.8 7.7l-14.8 -7.7v-15.4zM669.5 -0.6l14.8 7.7v15.4l-14.8 7.7l-14.8 -7.7v-15.4zM699.1 -0.6l14.8 7.7v15.4l-14.8 7.7l-14.8 -7.7v-15.4zM728.6 45.5l14.8 7.7v15.4l-14.8 7.7l-14.8 -7.7v-15.4zM580.9 91.7l14.8 7.7v15.4l-14.8 7.7l-14.8 -7.7v-15.4zM462.7 137.8l14.8 7.7v15.4l-14.8 7.7l-14.8 -7.7v-15.4zM492.2 137.8l14.8 7.7v15.4l-14.8 7.7l-14.8 -7.7v-15.4zM521.8 137.8l14.8 7.7v15.4l-14.8 7.7l-14.8 -7.7v-15.4zM787.8 137.8l14.8 7.7v15.4l-14.8 7.7l-14.8 -7.7v-15.4zM374 183.9l14.8 7.7v15.4l-14.8 7.7l-14.8 -7.7v-15.4zM374 230.1l14.8 7.7v15.4l-14.8 7.7l-14.8 -7.7v-15.4zM374 276.2l14.8 7.7v15.4l-14.8 7.7l-14.8 -7.7v-15.4zM433.1 322.4l14.8 7.7v15.4l-14.8 7.7l-14.8 -7.7v-15.4zM462.7 322.4l14.8 7.7v15.4l-14.8 7.7l-14.8 -7.7v-15.4zM551.4 322.4l14.8 7.7v15.4l-14.8 7.7l-14.8 -7.7v-15.4zM728.6 322.4l14.8 7.7v15.4l-14.8 7.7l-14.8 -7.7v-15.4zM758.2 322.4l14.8 7.7v15.4l-14.8 7.7l-14.8 -7.7v-15.4zM787.8 322.4l14.8 7.7v15.4l-14.8 7.7l-14.8 -7.7v-15.4zM610.4 414.6l14.8 7.7v15.4l-14.8 7.7l-14.8 -7.7v-15.4z"/>
<path fill="#c6dbef" stroke="#c6dbef" d="M610.4 45.5l14.8 7.7v15.4l-14.8 7.7l-14.8 -7.7v-15.4zM640 45.5l14.8 7.7v15.4l-14.8 7.7l-14.8 -7.7v-15.4zM669.5 45.5l14.8 7.7v15.4l-14.8 7.7l-14.8 -7.7v-15.4zM699.1 45.5l14.8 7.7v15.4l-14.8 7.7l-14.8 -7.7v-15.4zM758.2 91.7l14.8 7.7v15.4l-14.8 7.7l-14.8 -7.7v-15.4zM374 137.8l14.8 7.7v15.4l-14.8 7.7l-14.8 -7.7v-15.4zM758.2 137.8l14.8 7.7v15.4l-14.8 7.7l-14.8 -7.7v-15.4zM787.8 183.9l14.8 7.7v15.4l-14.8 7.7l-14.8 -7.7v-15.4zM728.6 276.2l14.8 7.7v15.4l-14.8 7.7l-14.8 -7.7v-15.4zM787.8 276.2l14.8 7.7v15.4l-14.8 7.7l-14.8 -7.7v-15.4zM492.2 322.4l14.8 7.7v15.4l-14.8 7.7l-14.8 -7.7v-15.4zM758.2 368.5l14.8 7.7v15.4l-14.8 7.7l-14.8 -7.7v-15.4zM669.5 414.6l14.8 7.7v15.4l-14.8 7.7l-14.8 -7.7v-15.4z"/>
<path fill="#b1d2e8" stroke="#b1d2e8" d="M403.6 137.8l14.8 7.7v15.4l-14.8 7.7l-14.8 -7.7v-15.4zM433.1 137.8l14.8 7.7v15.4l-14.8 7.7l-14.8 -7.7v-15.4zM551.4 137.8l14.8 7.7v15.4l-14.8 7.7l-14.8 -7.7v-15.4zM758.2 183.9l14.8 7.7v15.4l-14.8 7.7l-14.8 -7.7v-15.4zM403.6 230.1l14.8 7.7v15.4l-14.8 7.7l-14.8 -7.7v-15.4zM787.8 230.1l14.8 7.7v15.4l-14.8 7.7l-14.8 -7.7v-15.4zM462.7 276.2l14.8 7.7v15.4l-14.8 7.7l-14.8 -7.7v-15.4zM758.2 276.2l14.8 7.7v15.4l-14.8 7.7l-14.8 -7.7v-15.4zM728.6 368.5l14.8 7.7v15.4l-14.8 7.7l-14.8 -7.7v-15.4z"/>
<path fill="#9ecae1" stroke="#9ecae1" d="M610.4 91.7l14.8 7.7v15.4l-14.8 7.7l-14.8 -7.7v-15.4zM699.1 91.7l14.8 7.7v15.4l-14.8 7.7l-14.8 -7.7v-15.4zM403.6 183.9l14.8 7.7v15.4l-14.8 7.7l-14.8 -7.7v-15.4zM551.4 183.9l14.8 7.7v15.4l-14.8 7.7l-14.8 -7.7v-15.4zM758.2 230.1l14.8 7.7v15.4l-14.8 7.7l-14.8 -7.7v-15.4zM403.6 276.2l14.8 7.7v15.4l-14.8 7.7l-14.8 -7.7v-15.4zM433.1 276.2l14.8 7.7v15.4l-14.8 7.7l-14.8 -7.7v-15.4zM492.2 276.2l14.8 7.7v15.4l-14.8 7.7l-14.8 -7.7v-15.4zM521.8 322.4l14.8 7.7v15.4l-14.8 7.7l-14.8 -7.7v-15.4z"/>
<path fill="#8abfdd" stroke="#8abfdd" d="M728.6 137.8l14.8 7.7v15.4l-14.8 7.7l-14.8 -7.7v-15.4zM728.6 230.1l14.8 7.7v15.4l-14.8 7.7l-14.8 -7.7v-15.4zM521.8 276.2l14.8 7.7v15.4l-14.8 7.7l-14.8 -7.7v-15.4z"/>
<path fill="#75b4d8" stroke="#75b4d8" d="M580.9 137.8l14.8 7.7v15.4l-14.8 7.7l-14.8 -7.7v-15.4zM610.4 137.8l14.8 7.7v15.4l-14.8 7.7l-14.8 -7.7v-15.4zM640 137.8l14.8 7.7v15.4l-14.8 7.7l-14.8 -7.7v-15.4zM521.8 183.9l14.8 7.7v15.4l-14.8 7.7l-14.8 -7.7v-15.4zM433.1 230.1l14.8 7.7v15.4l-14.8 7.7l-14.8 -7.7v-15.4zM462.7 230.1l14.8 7.7v15.4l-14.8 7.7l-14.8 -7.7v-15.4zM610.4 368.5l14.8 7.7v15.4l-14.8 7.7l-14.8 -7.7v-15.4zM699.1 368.5l14.8 7.7v15.4l-14.8 7.7l-14.8 -7.7v-15.4z"/>
<path fill="#63a8d3" stroke="#63a8d3" d="M640 91.7l14.8 7.7v15.4l-14.8 7.7l-14.8 -7.7v-15.4zM728.6 91.7l14.8 7.7v15.4l-14.8 7.7l-14.8 -7.7v-15.4zM699.1 137.8l14.8 7.7v15.4l-14.8 7.7l-14.8 -7.7v-15.4zM433.1 183.9l14.8 7.7v15.4l-14.8 7.7l-14.8 -7.7v-15.4zM580.9 183.9l14.8 7.7v15.4l-14.8 7.7l-14.8 -7.7v-15.4zM699.1 183.9l14.8 7.7v15.4l-14.8 7.7l-14.8 -7.7v-15.4zM492.2 230.1l14.8 7.7v15.4l-14.8 7.7l-14.8 -7.7v-15.4zM521.8 230.1l14.8 7.7v15.4l-14.8 7.7l-14.8 -7.7v-15.4zM699.1 230.1l14.8 7.7v15.4l-14.8 7.7l-14.8 -7.7v-15.4z"/>
<path fill="#529dcc" stroke="#529dcc" d="M462.7 183.9l14.8 7.7v15.4l-14.8 7.7l-14.8 -7.7v-15.4zM492.2 183.9l14.8 7.7v15.4l-14.8 7.7l-14.8 -7.7v-15.4zM610.4 183.9l14.8 7.7v15.4l-14.8 7.7l-14.8 -7.7v-15.4zM640 183.9l14.8 7.7v15.4l-14.8 7.7l-14.8 -7.7v-15.4zM669.5 183.9l14.8 7.7v15.4l-14.8 7.7l-14.8 -7.7v-15.4zM669.5 230.1l14.8 7.7v15.4l-14.8 7.7l-14.8 -7.7v-15.4zM669.5 276.2l14.8 7.7v15.4l-14.8 7.7l-14.8 -7.7v-15.4zM699.1 322.4l14.8 7.7v15.4l-14.8 7.7l-14.8 -7.7v-15.4zM640 368.5l14.8 7.7v15.4l-14.8 7.7l-14.8 -7.7v-15.4zM669.5 368.5l14.8 7.7v15.4l-14.8 7.7l-14.8 -7.7v-15.4z"/>
<path fill="#4292c6" stroke="#4292c6" d="M728.6 183.9l14.8 7.7v15.4l-14.8 7.7l-14.8 -7.7v-15.4zM610.4 230.1l14.8 7.7v15.4l-14.8 7.7l-14.8 -7.7v-15.4zM640 276.2l14.8 7.7v15.4l-14.8 7.7l-14.8 -7.7v-15.4zM699.1 276.2l14.8 7.7v15.4l-14.8 7.7l-14.8 -7.7v-15.4zM580.9 322.4l14.8 7.7v15.4l-14.8 7.7l-14.8 -7.7v-15.4zM640 322.4l14.8 7.7v15.4l-14.8 7.7l-14.8 -7.7v-15.4z"/>
<path fill="#3585bf" stroke="#3585bf" d="M669.5 137.8l14.8 7.7v15.4l-14.8 7.7l-14.8 -7.7v-15.4zM551.4 230.1l14.8 7.7v15.4l-14.8 7.7l-14.8 -7.7v-15.4zM669.5 322.4l14.8 7.7v15.4l-14.8 7.7l-14.8 -7.7v-15.4z"/>
<path fill="#2a7aba" stroke="#2a7aba" d="M580.9 230.1l14.8 7.7v15.4l-14.8 7.7l-14.8 -7.7v-15.4z"/>
<path fill="#2070b4" stroke="#2070b4" d="M610.4 322.4l14.8 7.7v15.4l-14.8 7.7l-14.8 -7.7v-15.4z"/>
<path fill="#1967ad" stroke="#1967ad" d="M669.5 91.7l14.8 7.7v15.4l-14.8 7.7l-14.8 -7.7v-15.4zM640 230.1l14.8 7.7v15.4l-14.8 7.7l-14.8 -7.7v-15.4zM551.4 276.2l14.8 7.7v15.4l-14.8 7.7l-14.8 -7.7v-15.4z"/>
<path fill="#084d96" stroke="#084d96" d="M610.4 276.2l14.8 7.7v15.4l-14.8 7.7l-14.8 -7.7v-15.4z"/>
<path fill="#08306b" stroke="#08306b" d="M580.9 276.2l14.8 7.7v15.4l-14.8 7.7l-14.8 -7.7v-15.4z"/>
</g>
<path class="s" d="M294.6 386.9h14.4M419.1 510.3v-14.4M294.6 263.5h14.4M543.6 510.3v-14.4M294.6 140.1h14.4M668.1 510.3v-14.4"/>
<g clip-path="url(#c0)" class="d">
<path d="M294.6 263.5H792.6"/>
<path d="M543.6 510.3V16.7"/>
<path d="M668.1 263.5A124.5 123.4 0 1 0 419.1 263.5A124.5 123.4 0 1 0 668.1 263.5"/>
<path d="M792.6 263.5A249 246.8 0 1 0 294.6 263.5A249 246.8 0 1 0 792.6 263.5"/>
</g>
<rect class="s" x="294.6" y="16.7" width="498" height="493.6"/>
<text class="t" text-anchor="end" transform="translate(281 31.7) scale(0.962 1)">10</text>
<text class="t" text-anchor="end" transform="translate(281 155.1) scale(0.962 1)">5</text>
<text class="t" text-anchor="end" transform="translate(281 278.5) scale(0.962 1)">0</text>
<text class="t" text-anchor="end" transform="translate(281 401.9) scale(0.962 1)">−5</text>
<text class="t" text-anchor="end" transform="translate(281 525.3) scale(0.962 1)">−10</text>
<text class="m" transform="translate(291.7 75) scale(1.22 1.16)">(</text>
<text class="m" x="326.9" y="71">a</text>
<text class="m" transform="translate(353.7 75) scale(1.22 1.16)">)</text>
<rect x="824.7" y="16.7" width="24.4" height="493.6" fill="url(#cb)"/>
<text class="t" transform="translate(876.6 525.3) scale(0.962 1)">0.00%</text>
<text class="t" transform="translate(876.6 401.9) scale(0.962 1)">0.27%</text>
<text class="t" transform="translate(876.6 278.5) scale(0.962 1)">0.54%</text>
<text class="t" transform="translate(876.6 155.1) scale(0.962 1)">0.81%</text>
<text class="t" transform="translate(876.6 31.7) scale(0.962 1)">1.08%</text>
<path class="s" d="M849.1 510.3h14.4M849.1 386.9h14.4M849.1 263.5h14.4M849.1 140.1h14.4M849.1 16.7h14.4"/>
<rect class="s" x="824.7" y="16.7" width="24.4" height="493.6"/>
</g>
<g id="panel-b">
<rect x="1043.1" y="16.7" width="498" height="493.6" fill="#f7fbff"/>
<g clip-path="url(#c1)" stroke-width="1.6" stroke-linejoin="miter">
<path fill="#eff6fc" stroke="#eff6fc" d="M1031.1 -17.6l13.4 8.3v16.7l-13.4 8.3l-13.4 -8.3v-16.7zM1057.9 -17.6l13.4 8.3v16.7l-13.4 8.3l-13.4 -8.3v-16.7zM1084.8 -17.6l13.4 8.3v16.7l-13.4 8.3l-13.4 -8.3v-16.7zM1111.6 -17.6l13.4 8.3v16.7l-13.4 8.3l-13.4 -8.3v-16.7zM1138.5 -17.6l13.4 8.3v16.7l-13.4 8.3l-13.4 -8.3v-16.7zM1165.3 -17.6l13.4 8.3v16.7l-13.4 8.3l-13.4 -8.3v-16.7zM1192.2 -17.6l13.4 8.3v16.7l-13.4 8.3l-13.4 -8.3v-16.7zM1219 -17.6l13.4 8.3v16.7l-13.4 8.3l-13.4 -8.3v-16.7zM1514.4 -17.6l13.4 8.3v16.7l-13.4 8.3l-13.4 -8.3v-16.7zM1541.2 -17.6l13.4 8.3v16.7l-13.4 8.3l-13.4 -8.3v-16.7zM1031.1 32.4l13.4 8.3v16.7l-13.4 8.3l-13.4 -8.3v-16.7zM1057.9 32.4l13.4 8.3v16.7l-13.4 8.3l-13.4 -8.3v-16.7zM1084.8 32.4l13.4 8.3v16.7l-13.4 8.3l-13.4 -8.3v-16.7zM1111.6 32.4l13.4 8.3v16.7l-13.4 8.3l-13.4 -8.3v-16.7zM1138.5 32.4l13.4 8.3v16.7l-13.4 8.3l-13.4 -8.3v-16.7zM1031.1 82.4l13.4 8.3v16.7l-13.4 8.3l-13.4 -8.3v-16.7zM1057.9 82.4l13.4 8.3v16.7l-13.4 8.3l-13.4 -8.3v-16.7zM1031.1 282.4l13.4 8.3v16.7l-13.4 8.3l-13.4 -8.3v-16.7zM1057.9 282.4l13.4 8.3v16.7l-13.4 8.3l-13.4 -8.3v-16.7zM1031.1 332.4l13.4 8.3v16.7l-13.4 8.3l-13.4 -8.3v-16.7zM1057.9 332.4l13.4 8.3v16.7l-13.4 8.3l-13.4 -8.3v-16.7zM1514.4 332.4l13.4 8.3v16.7l-13.4 8.3l-13.4 -8.3v-16.7zM1541.2 332.4l13.4 8.3v16.7l-13.4 8.3l-13.4 -8.3v-16.7zM1031.1 382.4l13.4 8.3v16.7l-13.4 8.3l-13.4 -8.3v-16.7zM1057.9 382.4l13.4 8.3v16.7l-13.4 8.3l-13.4 -8.3v-16.7zM1084.8 382.4l13.4 8.3v16.7l-13.4 8.3l-13.4 -8.3v-16.7zM1111.6 382.4l13.4 8.3v16.7l-13.4 8.3l-13.4 -8.3v-16.7zM1138.5 382.4l13.4 8.3v16.7l-13.4 8.3l-13.4 -8.3v-16.7zM1433.8 382.4l13.4 8.3v16.7l-13.4 8.3l-13.4 -8.3v-16.7zM1460.7 382.4l13.4 8.3v16.7l-13.4 8.3l-13.4 -8.3v-16.7zM1487.5 382.4l13.4 8.3v16.7l-13.4 8.3l-13.4 -8.3v-16.7zM1514.4 382.4l13.4 8.3v16.7l-13.4 8.3l-13.4 -8.3v-16.7zM1541.2 382.4l13.4 8.3v16.7l-13.4 8.3l-13.4 -8.3v-16.7zM1031.1 432.4l13.4 8.3v16.7l-13.4 8.3l-13.4 -8.3v-16.7zM1057.9 432.4l13.4 8.3v16.7l-13.4 8.3l-13.4 -8.3v-16.7zM1084.8 432.4l13.4 8.3v16.7l-13.4 8.3l-13.4 -8.3v-16.7zM1111.6 432.4l13.4 8.3v16.7l-13.4 8.3l-13.4 -8.3v-16.7zM1138.5 432.4l13.4 8.3v16.7l-13.4 8.3l-13.4 -8.3v-16.7zM1165.3 432.4l13.4 8.3v16.7l-13.4 8.3l-13.4 -8.3v-16.7zM1460.7 432.4l13.4 8.3v16.7l-13.4 8.3l-13.4 -8.3v-16.7zM1487.5 432.4l13.4 8.3v16.7l-13.4 8.3l-13.4 -8.3v-16.7zM1514.4 432.4l13.4 8.3v16.7l-13.4 8.3l-13.4 -8.3v-16.7zM1541.2 432.4l13.4 8.3v16.7l-13.4 8.3l-13.4 -8.3v-16.7zM1031.1 482.4l13.4 8.3v16.7l-13.4 8.3l-13.4 -8.3v-16.7zM1057.9 482.4l13.4 8.3v16.7l-13.4 8.3l-13.4 -8.3v-16.7zM1084.8 482.4l13.4 8.3v16.7l-13.4 8.3l-13.4 -8.3v-16.7zM1111.6 482.4l13.4 8.3v16.7l-13.4 8.3l-13.4 -8.3v-16.7zM1138.5 482.4l13.4 8.3v16.7l-13.4 8.3l-13.4 -8.3v-16.7zM1165.3 482.4l13.4 8.3v16.7l-13.4 8.3l-13.4 -8.3v-16.7zM1192.2 482.4l13.4 8.3v16.7l-13.4 8.3l-13.4 -8.3v-16.7zM1219 482.4l13.4 8.3v16.7l-13.4 8.3l-13.4 -8.3v-16.7zM1245.9 482.4l13.4 8.3v16.7l-13.4 8.3l-13.4 -8.3v-16.7zM1272.7 482.4l13.4 8.3v16.7l-13.4 8.3l-13.4 -8.3v-16.7zM1353.3 482.4l13.4 8.3v16.7l-13.4 8.3l-13.4 -8.3v-16.7zM1380.1 482.4l13.4 8.3v16.7l-13.4 8.3l-13.4 -8.3v-16.7zM1407 482.4l13.4 8.3v16.7l-13.4 8.3l-13.4 -8.3v-16.7zM1433.8 482.4l13.4 8.3v16.7l-13.4 8.3l-13.4 -8.3v-16.7zM1460.7 482.4l13.4 8.3v16.7l-13.4 8.3l-13.4 -8.3v-16.7zM1487.5 482.4l13.4 8.3v16.7l-13.4 8.3l-13.4 -8.3v-16.7zM1514.4 482.4l13.4 8.3v16.7l-13.4 8.3l-13.4 -8.3v-16.7zM1541.2 482.4l13.4 8.3v16.7l-13.4 8.3l-13.4 -8.3v-16.7z"/>
<path fill="#e3eef9" stroke="#e3eef9" d="M1245.9 -17.6l13.4 8.3v16.7l-13.4 8.3l-13.4 -8.3v-16.7zM1272.7 -17.6l13.4 8.3v16.7l-13.4 8.3l-13.4 -8.3v-16.7zM1299.6 -17.6l13.4 8.3v16.7l-13.4 8.3l-13.4 -8.3v-16.7zM1326.4 -17.6l13.4 8.3v16.7l-13.4 8.3l-13.4 -8.3v-16.7zM1353.3 -17.6l13.4 8.3v16.7l-13.4 8.3l-13.4 -8.3v-16.7zM1380.1 -17.6l13.4 8.3v16.7l-13.4 8.3l-13.4 -8.3v-16.7zM1407 -17.6l13.4 8.3v16.7l-13.4 8.3l-13.4 -8.3v-16.7zM1433.8 -17.6l13.4 8.3v16.7l-13.4 8.3l-13.4 -8.3v-16.7zM1460.7 -17.6l13.4 8.3v16.7l-13.4 8.3l-13.4 -8.3v-16.7zM1487.5 -17.6l13.4 8.3v16.7l-13.4 8.3l-13.4 -8.3v-16.7zM1165.3 32.4l13.4 8.3v16.7l-13.4 8.3l-13.4 -8.3v-16.7zM1192.2 32.4l13.4 8.3v16.7l-13.4 8.3l-13.4 -8.3v-16.7zM1514.4 32.4l13.4 8.3v16.7l-13.4 8.3l-13.4 -8.3v-16.7zM1541.2 32.4l13.4 8.3v16.7l-13.4 8.3l-13.4 -8.3v-16.7zM1084.8 82.4l13.4 8.3v16.7l-13.4 8.3l-13.4 -8.3v-16.7zM1111.6 82.4l13.4 8.3v16.7l-13.4 8.3l-13.4 -8.3v-16.7zM1138.5 82.4l13.4 8.3v16.7l-13.4 8.3l-13.4 -8.3v-16.7zM1541.2 82.4l13.4 8.3v16.7l-13.4 8.3l-13.4 -8.3v-16.7zM1031.1 132.4l13.4 8.3v16.7l-13.4 8.3l-13.4 -8.3v-16.7zM1057.9 132.4l13.4 8.3v16.7l-13.4 8.3l-13.4 -8.3v-16.7zM1084.8 132.4l13.4 8.3v16.7l-13.4 8.3l-13.4 -8.3v-16.7zM1031.1 182.4l13.4 8.3v16.7l-13.4 8.3l-13.4 -8.3v-16.7zM1057.9 182.4l13.4 8.3v16.7l-13.4 8.3l-13.4 -8.3v-16.7zM1084.8 182.4l13.4 8.3v16.7l-13.4 8.3l-13.4 -8.3v-16.7zM1031.1 232.4l13.4 8.3v16.7l-13.4 8.3l-13.4 -8.3v-16.7zM1057.9 232.4l13.4 8.3v16.7l-13.4 8.3l-13.4 -8.3v-16.7zM1165.3 282.4l13.4 8.3v16.7l-13.4 8.3l-13.4 -8.3v-16.7zM1541.2 282.4l13.4 8.3v16.7l-13.4 8.3l-13.4 -8.3v-16.7zM1084.8 332.4l13.4 8.3v16.7l-13.4 8.3l-13.4 -8.3v-16.7zM1111.6 332.4l13.4 8.3v16.7l-13.4 8.3l-13.4 -8.3v-16.7zM1460.7 332.4l13.4 8.3v16.7l-13.4 8.3l-13.4 -8.3v-16.7zM1487.5 332.4l13.4 8.3v16.7l-13.4 8.3l-13.4 -8.3v-16.7zM1165.3 382.4l13.4 8.3v16.7l-13.4 8.3l-13.4 -8.3v-16.7zM1192.2 382.4l13.4 8.3v16.7l-13.4 8.3l-13.4 -8.3v-16.7zM1192.2 432.4l13.4 8.3v16.7l-13.4 8.3l-13.4 -8.3v-16.7zM1219 432.4l13.4 8.3v16.7l-13.4 8.3l-13.4 -8.3v-16.7zM1353.3 432.4l13.4 8.3v16.7l-13.4 8.3l-13.4 -8.3v-16.7zM1407 432.4l13.4 8.3v16.7l-13.4 8.3l-13.4 -8.3v-16.7zM1433.8 432.4l13.4 8.3v16.7l-13.4 8.3l-13.4 -8.3v-16.7z"/>
<path fill="#d3e4f3" stroke="#d3e4f3" d="M1219 32.4l13.4 8.3v16.7l-13.4 8.3l-13.4 -8.3v-16.7zM1433.8 32.4l13.4 8.3v16.7l-13.4 8.3l-13.4 -8.3v-16.7zM1487.5 32.4l13.4 8.3v16.7l-13.4 8.3l-13.4 -8.3v-16.7zM1165.3 82.4l13.4 8.3v16.7l-13.4 8.3l-13.4 -8.3v-16.7zM1514.4 82.4l13.4 8.3v16.7l-13.4 8.3l-13.4 -8.3v-16.7zM1111.6 132.4l13.4 8.3v16.7l-13.4 8.3l-13.4 -8.3v-16.7zM1138.5 132.4l13.4 8.3v16.7l-13.4 8.3l-13.4 -8.3v-16.7zM1541.2 132.4l13.4 8.3v16.7l-13.4 8.3l-13.4 -8.3v-16.7zM1541.2 182.4l13.4 8.3v16.7l-13.4 8.3l-13.4 -8.3v-16.7zM1111.6 232.4l13.4 8.3v16.7l-13.4 8.3l-13.4 -8.3v-16.7zM1165.3 232.4l13.4 8.3v16.7l-13.4 8.3l-13.4 -8.3v-16.7zM1084.8 282.4l13.4 8.3v16.7l-13.4 8.3l-13.4 -8.3v-16.7zM1192.2 282.4l13.4 8.3v16.7l-13.4 8.3l-13.4 -8.3v-16.7zM1219 282.4l13.4 8.3v16.7l-13.4 8.3l-13.4 -8.3v-16.7zM1245.9 282.4l13.4 8.3v16.7l-13.4 8.3l-13.4 -8.3v-16.7zM1514.4 282.4l13.4 8.3v16.7l-13.4 8.3l-13.4 -8.3v-16.7zM1138.5 332.4l13.4 8.3v16.7l-13.4 8.3l-13.4 -8.3v-16.7zM1165.3 332.4l13.4 8.3v16.7l-13.4 8.3l-13.4 -8.3v-16.7zM1219 382.4l13.4 8.3v16.7l-13.4 8.3l-13.4 -8.3v-16.7zM1407 382.4l13.4 8.3v16.7l-13.4 8.3l-13.4 -8.3v-16.7zM1245.9 432.4l13.4 8.3v16.7l-13.4 8.3l-13.4 -8.3v-16.7zM1272.7 432.4l13.4 8.3v16.7l-13.4 8.3l-13.4 -8.3v-16.7zM1299.6 432.4l13.4 8.3v16.7l-13.4 8.3l-13.4 -8.3v-16.7zM1380.1 432.4l13.4 8.3v16.7l-13.4 8.3l-13.4 -8.3v-16.7zM1299.6 482.4l13.4 8.3v16.7l-13.4 8.3l-13.4 -8.3v-16.7z"/>
<path fill="#c6dbef" stroke="#c6dbef" d="M1245.9 32.4l13.4 8.3v16.7l-13.4 8.3l-13.4 -8.3v-16.7zM1299.6 32.4l13.4 8.3v16.7l-13.4 8.3l-13.4 -8.3v-16.7zM1380.1 32.4l13.4 8.3v16.7l-13.4 8.3l-13.4 -8.3v-16.7zM1407 32.4l13.4 8.3v16.7l-13.4 8.3l-13.4 -8.3v-16.7zM1460.7 32.4l13.4 8.3v16.7l-13.4 8.3l-13.4 -8.3v-16.7zM1487.5 82.4l13.4 8.3v16.7l-13.4 8.3l-13.4 -8.3v-16.7zM1165.3 132.4l13.4 8.3v16.7l-13.4 8.3l-13.4 -8.3v-16.7zM1514.4 132.4l13.4 8.3v16.7l-13.4 8.3l-13.4 -8.3v-16.7zM1138.5 182.4l13.4 8.3v16.7l-13.4 8.3l-13.4 -8.3v-16.7zM1165.3 182.4l13.4 8.3v16.7l-13.4 8.3l-13.4 -8.3v-16.7zM1084.8 232.4l13.4 8.3v16.7l-13.4 8.3l-13.4 -8.3v-16.7zM1192.2 232.4l13.4 8.3v16.7l-13.4 8.3l-13.4 -8.3v-16.7zM1541.2 232.4l13.4 8.3v16.7l-13.4 8.3l-13.4 -8.3v-16.7zM1111.6 282.4l13.4 8.3v16.7l-13.4 8.3l-13.4 -8.3v-16.7zM1138.5 282.4l13.4 8.3v16.7l-13.4 8.3l-13.4 -8.3v-16.7zM1487.5 282.4l13.4 8.3v16.7l-13.4 8.3l-13.4 -8.3v-16.7zM1192.2 332.4l13.4 8.3v16.7l-13.4 8.3l-13.4 -8.3v-16.7zM1245.9 382.4l13.4 8.3v16.7l-13.4 8.3l-13.4 -8.3v-16.7zM1380.1 382.4l13.4 8.3v16.7l-13.4 8.3l-13.4 -8.3v-16.7z"/>
<path fill="#b1d2e8" stroke="#b1d2e8" d="M1326.4 32.4l13.4 8.3v16.7l-13.4 8.3l-13.4 -8.3v-16.7zM1219 82.4l13.4 8.3v16.7l-13.4 8.3l-13.4 -8.3v-16.7zM1111.6 182.4l13.4 8.3v16.7l-13.4 8.3l-13.4 -8.3v-16.7zM1487.5 182.4l13.4 8.3v16.7l-13.4 8.3l-13.4 -8.3v-16.7zM1272.7 232.4l13.4 8.3v16.7l-13.4 8.3l-13.4 -8.3v-16.7zM1514.4 232.4l13.4 8.3v16.7l-13.4 8.3l-13.4 -8.3v-16.7zM1219 332.4l13.4 8.3v16.7l-13.4 8.3l-13.4 -8.3v-16.7zM1245.9 332.4l13.4 8.3v16.7l-13.4 8.3l-13.4 -8.3v-16.7zM1272.7 332.4l13.4 8.3v16.7l-13.4 8.3l-13.4 -8.3v-16.7zM1353.3 382.4l13.4 8.3v16.7l-13.4 8.3l-13.4 -8.3v-16.7zM1326.4 482.4l13.4 8.3v16.7l-13.4 8.3l-13.4 -8.3v-16.7z"/>
<path fill="#9ecae1" stroke="#9ecae1" d="M1272.7 32.4l13.4 8.3v16.7l-13.4 8.3l-13.4 -8.3v-16.7zM1192.2 82.4l13.4 8.3v16.7l-13.4 8.3l-13.4 -8.3v-16.7zM1460.7 82.4l13.4 8.3v16.7l-13.4 8.3l-13.4 -8.3v-16.7zM1487.5 132.4l13.4 8.3v16.7l-13.4 8.3l-13.4 -8.3v-16.7zM1138.5 232.4l13.4 8.3v16.7l-13.4 8.3l-13.4 -8.3v-16.7zM1272.7 282.4l13.4 8.3v16.7l-13.4 8.3l-13.4 -8.3v-16.7zM1433.8 282.4l13.4 8.3v16.7l-13.4 8.3l-13.4 -8.3v-16.7zM1460.7 282.4l13.4 8.3v16.7l-13.4 8.3l-13.4 -8.3v-16.7zM1433.8 332.4l13.4 8.3v16.7l-13.4 8.3l-13.4 -8.3v-16.7zM1326.4 432.4l13.4 8.3v16.7l-13.4 8.3l-13.4 -8.3v-16.7z"/>
<path fill="#8abfdd" stroke="#8abfdd" d="M1353.3 32.4l13.4 8.3v16.7l-13.4 8.3l-13.4 -8.3v-16.7zM1192.2 182.4l13.4 8.3v16.7l-13.4 8.3l-13.4 -8.3v-16.7zM1514.4 182.4l13.4 8.3v16.7l-13.4 8.3l-13.4 -8.3v-16.7zM1219 232.4l13.4 8.3v16.7l-13.4 8.3l-13.4 -8.3v-16.7zM1245.9 232.4l13.4 8.3v16.7l-13.4 8.3l-13.4 -8.3v-16.7zM1407 282.4l13.4 8.3v16.7l-13.4 8.3l-13.4 -8.3v-16.7zM1353.3 332.4l13.4 8.3v16.7l-13.4 8.3l-13.4 -8.3v-16.7zM1380.1 332.4l13.4 8.3v16.7l-13.4 8.3l-13.4 -8.3v-16.7zM1272.7 382.4l13.4 8.3v16.7l-13.4 8.3l-13.4 -8.3v-16.7z"/>
<path fill="#75b4d8" stroke="#75b4d8" d="M1433.8 82.4l13.4 8.3v16.7l-13.4 8.3l-13.4 -8.3v-16.7zM1192.2 132.4l13.4 8.3v16.7l-13.4 8.3l-13.4 -8.3v-16.7zM1460.7 132.4l13.4 8.3v16.7l-13.4 8.3l-13.4 -8.3v-16.7zM1460.7 182.4l13.4 8.3v16.7l-13.4 8.3l-13.4 -8.3v-16.7zM1299.6 232.4l13.4 8.3v16.7l-13.4 8.3l-13.4 -8.3v-16.7zM1487.5 232.4l13.4 8.3v16.7l-13.4 8.3l-13.4 -8.3v-16.7zM1407 332.4l13.4 8.3v16.7l-13.4 8.3l-13.4 -8.3v-16.7z"/>
<path fill="#63a8d3" stroke="#63a8d3" d="M1272.7 82.4l13.4 8.3v16.7l-13.4 8.3l-13.4 -8.3v-16.7zM1433.8 132.4l13.4 8.3v16.7l-13.4 8.3l-13.4 -8.3v-16.7zM1245.9 182.4l13.4 8.3v16.7l-13.4 8.3l-13.4 -8.3v-16.7zM1326.4 232.4l13.4 8.3v16.7l-13.4 8.3l-13.4 -8.3v-16.7zM1299.6 332.4l13.4 8.3v16.7l-13.4 8.3l-13.4 -8.3v-16.7zM1299.6 382.4l13.4 8.3v16.7l-13.4 8.3l-13.4 -8.3v-16.7zM1326.4 382.4l13.4 8.3v16.7l-13.4 8.3l-13.4 -8.3v-16.7z"/>
<path fill="#529dcc" stroke="#529dcc" d="M1299.6 82.4l13.4 8.3v16.7l-13.4 8.3l-13.4 -8.3v-16.7zM1326.4 82.4l13.4 8.3v16.7l-13.4 8.3l-13.4 -8.3v-16.7zM1353.3 82.4l13.4 8.3v16.7l-13.4 8.3l-13.4 -8.3v-16.7zM1407 82.4l13.4 8.3v16.7l-13.4 8.3l-13.4 -8.3v-16.7zM1219 182.4l13.4 8.3v16.7l-13.4 8.3l-13.4 -8.3v-16.7zM1433.8 182.4l13.4 8.3v16.7l-13.4 8.3l-13.4 -8.3v-16.7zM1353.3 232.4l13.4 8.3v16.7l-13.4 8.3l-13.4 -8.3v-16.7zM1433.8 232.4l13.4 8.3v16.7l-13.4 8.3l-13.4 -8.3v-16.7zM1460.7 232.4l13.4 8.3v16.7l-13.4 8.3l-13.4 -8.3v-16.7zM1299.6 282.4l13.4 8.3v16.7l-13.4 8.3l-13.4 -8.3v-16.7zM1380.1 282.4l13.4 8.3v16.7l-13.4 8.3l-13.4 -8.3v-16.7zM1326.4 332.4l13.4 8.3v16.7l-13.4 8.3l-13.4 -8.3v-16.7z"/>
<path fill="#4292c6" stroke="#4292c6" d="M1380.1 82.4l13.4 8.3v16.7l-13.4 8.3l-13.4 -8.3v-16.7zM1219 132.4l13.4 8.3v16.7l-13.4 8.3l-13.4 -8.3v-16.7zM1272.7 132.4l13.4 8.3v16.7l-13.4 8.3l-13.4 -8.3v-16.7zM1272.7 182.4l13.4 8.3v16.7l-13.4 8.3l-13.4 -8.3v-16.7zM1326.4 182.4l13.4 8.3v16.7l-13.4 8.3l-13.4 -8.3v-16.7z"/>
<path fill="#3585bf" stroke="#3585bf" d="M1245.9 132.4l13.4 8.3v16.7l-13.4 8.3l-13.4 -8.3v-16.7zM1353.3 282.4l13.4 8.3v16.7l-13.4 8.3l-13.4 -8.3v-16.7z"/>
<path fill="#2a7aba" stroke="#2a7aba" d="M1245.9 82.4l13.4 8.3v16.7l-13.4 8.3l-13.4 -8.3v-16.7zM1407 132.4l13.4 8.3v16.7l-13.4 8.3l-13.4 -8.3v-16.7zM1299.6 182.4l13.4 8.3v16.7l-13.4 8.3l-13.4 -8.3v-16.7zM1407 182.4l13.4 8.3v16.7l-13.4 8.3l-13.4 -8.3v-16.7z"/>
<path fill="#2070b4" stroke="#2070b4" d="M1353.3 182.4l13.4 8.3v16.7l-13.4 8.3l-13.4 -8.3v-16.7zM1407 232.4l13.4 8.3v16.7l-13.4 8.3l-13.4 -8.3v-16.7z"/>
<path fill="#1967ad" stroke="#1967ad" d="M1299.6 132.4l13.4 8.3v16.7l-13.4 8.3l-13.4 -8.3v-16.7zM1353.3 132.4l13.4 8.3v16.7l-13.4 8.3l-13.4 -8.3v-16.7zM1326.4 282.4l13.4 8.3v16.7l-13.4 8.3l-13.4 -8.3v-16.7z"/>
<path fill="#0f5aa3" stroke="#0f5aa3" d="M1380.1 232.4l13.4 8.3v16.7l-13.4 8.3l-13.4 -8.3v-16.7z"/>
<path fill="#084d96" stroke="#084d96" d="M1326.4 132.4l13.4 8.3v16.7l-13.4 8.3l-13.4 -8.3v-16.7z"/>
<path fill="#084286" stroke="#084286" d="M1380.1 182.4l13.4 8.3v16.7l-13.4 8.3l-13.4 -8.3v-16.7z"/>
<path fill="#083877" stroke="#083877" d="M1380.1 132.4l13.4 8.3v16.7l-13.4 8.3l-13.4 -8.3v-16.7z"/>
<path fill="#eff6fc" stroke="#eff6fc" d="M1044.5 7.4l13.4 8.3v16.7l-13.4 8.3l-13.4 -8.3v-16.7zM1071.3 7.4l13.4 8.3v16.7l-13.4 8.3l-13.4 -8.3v-16.7zM1098.2 7.4l13.4 8.3v16.7l-13.4 8.3l-13.4 -8.3v-16.7zM1125 7.4l13.4 8.3v16.7l-13.4 8.3l-13.4 -8.3v-16.7zM1151.9 7.4l13.4 8.3v16.7l-13.4 8.3l-13.4 -8.3v-16.7zM1178.8 7.4l13.4 8.3v16.7l-13.4 8.3l-13.4 -8.3v-16.7zM1527.8 7.4l13.4 8.3v16.7l-13.4 8.3l-13.4 -8.3v-16.7zM1044.5 57.4l13.4 8.3v16.7l-13.4 8.3l-13.4 -8.3v-16.7zM1071.3 57.4l13.4 8.3v16.7l-13.4 8.3l-13.4 -8.3v-16.7zM1098.2 57.4l13.4 8.3v16.7l-13.4 8.3l-13.4 -8.3v-16.7zM1125 57.4l13.4 8.3v16.7l-13.4 8.3l-13.4 -8.3v-16.7zM1044.5 107.4l13.4 8.3v16.7l-13.4 8.3l-13.4 -8.3v-16.7zM1098.2 157.4l13.4 8.3v16.7l-13.4 8.3l-13.4 -8.3v-16.7zM1044.5 257.4l13.4 8.3v16.7l-13.4 8.3l-13.4 -8.3v-16.7zM1527.8 307.4l13.4 8.3v16.7l-13.4 8.3l-13.4 -8.3v-16.7zM1044.5 357.4l13.4 8.3v16.7l-13.4 8.3l-13.4 -8.3v-16.7zM1071.3 357.4l13.4 8.3v16.7l-13.4 8.3l-13.4 -8.3v-16.7zM1125 357.4l13.4 8.3v16.7l-13.4 8.3l-13.4 -8.3v-16.7zM1474.1 357.4l13.4 8.3v16.7l-13.4 8.3l-13.4 -8.3v-16.7zM1501 357.4l13.4 8.3v16.7l-13.4 8.3l-13.4 -8.3v-16.7zM1527.8 357.4l13.4 8.3v16.7l-13.4 8.3l-13.4 -8.3v-16.7zM1044.5 407.4l13.4 8.3v16.7l-13.4 8.3l-13.4 -8.3v-16.7zM1071.3 407.4l13.4 8.3v16.7l-13.4 8.3l-13.4 -8.3v-16.7zM1098.2 407.4l13.4 8.3v16.7l-13.4 8.3l-13.4 -8.3v-16.7zM1125 407.4l13.4 8.3v16.7l-13.4 8.3l-13.4 -8.3v-16.7zM1420.4 407.4l13.4 8.3v16.7l-13.4 8.3l-13.4 -8.3v-16.7zM1447.2 407.4l13.4 8.3v16.7l-13.4 8.3l-13.4 -8.3v-16.7zM1474.1 407.4l13.4 8.3v16.7l-13.4 8.3l-13.4 -8.3v-16.7zM1501 407.4l13.4 8.3v16.7l-13.4 8.3l-13.4 -8.3v-16.7zM1527.8 407.4l13.4 8.3v16.7l-13.4 8.3l-13.4 -8.3v-16.7zM1044.5 457.4l13.4 8.3v16.7l-13.4 8.3l-13.4 -8.3v-16.7zM1071.3 457.4l13.4 8.3v16.7l-13.4 8.3l-13.4 -8.3v-16.7zM1125 457.4l13.4 8.3v16.7l-13.4 8.3l-13.4 -8.3v-16.7zM1151.9 457.4l13.4 8.3v16.7l-13.4 8.3l-13.4 -8.3v-16.7zM1178.8 457.4l13.4 8.3v16.7l-13.4 8.3l-13.4 -8.3v-16.7zM1205.6 457.4l13.4 8.3v16.7l-13.4 8.3l-13.4 -8.3v-16.7zM1232.5 457.4l13.4 8.3v16.7l-13.4 8.3l-13.4 -8.3v-16.7zM1339.8 457.4l13.4 8.3v16.7l-13.4 8.3l-13.4 -8.3v-16.7zM1366.7 457.4l13.4 8.3v16.7l-13.4 8.3l-13.4 -8.3v-16.7zM1393.5 457.4l13.4 8.3v16.7l-13.4 8.3l-13.4 -8.3v-16.7zM1447.2 457.4l13.4 8.3v16.7l-13.4 8.3l-13.4 -8.3v-16.7zM1474.1 457.4l13.4 8.3v16.7l-13.4 8.3l-13.4 -8.3v-16.7zM1527.8 457.4l13.4 8.3v16.7l-13.4 8.3l-13.4 -8.3v-16.7zM1044.5 507.4l13.4 8.3v16.7l-13.4 8.3l-13.4 -8.3v-16.7zM1071.3 507.4l13.4 8.3v16.7l-13.4 8.3l-13.4 -8.3v-16.7zM1098.2 507.4l13.4 8.3v16.7l-13.4 8.3l-13.4 -8.3v-16.7zM1125 507.4l13.4 8.3v16.7l-13.4 8.3l-13.4 -8.3v-16.7zM1151.9 507.4l13.4 8.3v16.7l-13.4 8.3l-13.4 -8.3v-16.7zM1178.8 507.4l13.4 8.3v16.7l-13.4 8.3l-13.4 -8.3v-16.7zM1205.6 507.4l13.4 8.3v16.7l-13.4 8.3l-13.4 -8.3v-16.7zM1232.5 507.4l13.4 8.3v16.7l-13.4 8.3l-13.4 -8.3v-16.7zM1259.3 507.4l13.4 8.3v16.7l-13.4 8.3l-13.4 -8.3v-16.7zM1339.8 507.4l13.4 8.3v16.7l-13.4 8.3l-13.4 -8.3v-16.7zM1366.7 507.4l13.4 8.3v16.7l-13.4 8.3l-13.4 -8.3v-16.7zM1393.5 507.4l13.4 8.3v16.7l-13.4 8.3l-13.4 -8.3v-16.7zM1420.4 507.4l13.4 8.3v16.7l-13.4 8.3l-13.4 -8.3v-16.7zM1447.2 507.4l13.4 8.3v16.7l-13.4 8.3l-13.4 -8.3v-16.7zM1474.1 507.4l13.4 8.3v16.7l-13.4 8.3l-13.4 -8.3v-16.7zM1501 507.4l13.4 8.3v16.7l-13.4 8.3l-13.4 -8.3v-16.7zM1527.8 507.4l13.4 8.3v16.7l-13.4 8.3l-13.4 -8.3v-16.7z"/>
<path fill="#e3eef9" stroke="#e3eef9" d="M1205.6 7.4l13.4 8.3v16.7l-13.4 8.3l-13.4 -8.3v-16.7zM1232.5 7.4l13.4 8.3v16.7l-13.4 8.3l-13.4 -8.3v-16.7zM1259.3 7.4l13.4 8.3v16.7l-13.4 8.3l-13.4 -8.3v-16.7zM1286.1 7.4l13.4 8.3v16.7l-13.4 8.3l-13.4 -8.3v-16.7zM1313 7.4l13.4 8.3v16.7l-13.4 8.3l-13.4 -8.3v-16.7zM1420.4 7.4l13.4 8.3v16.7l-13.4 8.3l-13.4 -8.3v-16.7zM1447.2 7.4l13.4 8.3v16.7l-13.4 8.3l-13.4 -8.3v-16.7zM1474.1 7.4l13.4 8.3v16.7l-13.4 8.3l-13.4 -8.3v-16.7zM1501 7.4l13.4 8.3v16.7l-13.4 8.3l-13.4 -8.3v-16.7zM1151.9 57.4l13.4 8.3v16.7l-13.4 8.3l-13.4 -8.3v-16.7zM1178.8 57.4l13.4 8.3v16.7l-13.4 8.3l-13.4 -8.3v-16.7zM1527.8 57.4l13.4 8.3v16.7l-13.4 8.3l-13.4 -8.3v-16.7zM1071.3 107.4l13.4 8.3v16.7l-13.4 8.3l-13.4 -8.3v-16.7zM1044.5 157.4l13.4 8.3v16.7l-13.4 8.3l-13.4 -8.3v-16.7zM1071.3 157.4l13.4 8.3v16.7l-13.4 8.3l-13.4 -8.3v-16.7zM1044.5 207.4l13.4 8.3v16.7l-13.4 8.3l-13.4 -8.3v-16.7zM1071.3 207.4l13.4 8.3v16.7l-13.4 8.3l-13.4 -8.3v-16.7zM1098.2 207.4l13.4 8.3v16.7l-13.4 8.3l-13.4 -8.3v-16.7zM1125 207.4l13.4 8.3v16.7l-13.4 8.3l-13.4 -8.3v-16.7zM1071.3 257.4l13.4 8.3v16.7l-13.4 8.3l-13.4 -8.3v-16.7zM1178.8 257.4l13.4 8.3v16.7l-13.4 8.3l-13.4 -8.3v-16.7zM1205.6 257.4l13.4 8.3v16.7l-13.4 8.3l-13.4 -8.3v-16.7zM1044.5 307.4l13.4 8.3v16.7l-13.4 8.3l-13.4 -8.3v-16.7zM1071.3 307.4l13.4 8.3v16.7l-13.4 8.3l-13.4 -8.3v-16.7zM1178.8 307.4l13.4 8.3v16.7l-13.4 8.3l-13.4 -8.3v-16.7zM1501 307.4l13.4 8.3v16.7l-13.4 8.3l-13.4 -8.3v-16.7zM1098.2 357.4l13.4 8.3v16.7l-13.4 8.3l-13.4 -8.3v-16.7zM1232.5 357.4l13.4 8.3v16.7l-13.4 8.3l-13.4 -8.3v-16.7zM1205.6 407.4l13.4 8.3v16.7l-13.4 8.3l-13.4 -8.3v-16.7zM1098.2 457.4l13.4 8.3v16.7l-13.4 8.3l-13.4 -8.3v-16.7zM1259.3 457.4l13.4 8.3v16.7l-13.4 8.3l-13.4 -8.3v-16.7zM1286.1 457.4l13.4 8.3v16.7l-13.4 8.3l-13.4 -8.3v-16.7zM1420.4 457.4l13.4 8.3v16.7l-13.4 8.3l-13.4 -8.3v-16.7zM1501 457.4l13.4 8.3v16.7l-13.4 8.3l-13.4 -8.3v-16.7z"/>
<path fill="#d3e4f3" stroke="#d3e4f3" d="M1339.8 7.4l13.4 8.3v16.7l-13.4 8.3l-13.4 -8.3v-16.7zM1366.7 7.4l13.4 8.3v16.7l-13.4 8.3l-13.4 -8.3v-16.7zM1393.5 7.4l13.4 8.3v16.7l-13.4 8.3l-13.4 -8.3v-16.7zM1205.6 57.4l13.4 8.3v16.7l-13.4 8.3l-13.4 -8.3v-16.7zM1501 57.4l13.4 8.3v16.7l-13.4 8.3l-13.4 -8.3v-16.7zM1098.2 107.4l13.4 8.3v16.7l-13.4 8.3l-13.4 -8.3v-16.7zM1125 157.4l13.4 8.3v16.7l-13.4 8.3l-13.4 -8.3v-16.7zM1151.9 157.4l13.4 8.3v16.7l-13.4 8.3l-13.4 -8.3v-16.7zM1098.2 257.4l13.4 8.3v16.7l-13.4 8.3l-13.4 -8.3v-16.7zM1527.8 257.4l13.4 8.3v16.7l-13.4 8.3l-13.4 -8.3v-16.7zM1098.2 307.4l13.4 8.3v16.7l-13.4 8.3l-13.4 -8.3v-16.7zM1205.6 307.4l13.4 8.3v16.7l-13.4 8.3l-13.4 -8.3v-16.7zM1232.5 307.4l13.4 8.3v16.7l-13.4 8.3l-13.4 -8.3v-16.7zM1393.5 357.4l13.4 8.3v16.7l-13.4 8.3l-13.4 -8.3v-16.7zM1447.2 357.4l13.4 8.3v16.7l-13.4 8.3l-13.4 -8.3v-16.7zM1151.9 407.4l13.4 8.3v16.7l-13.4 8.3l-13.4 -8.3v-16.7zM1232.5 407.4l13.4 8.3v16.7l-13.4 8.3l-13.4 -8.3v-16.7zM1366.7 407.4l13.4 8.3v16.7l-13.4 8.3l-13.4 -8.3v-16.7zM1286.1 507.4l13.4 8.3v16.7l-13.4 8.3l-13.4 -8.3v-16.7zM1313 507.4l13.4 8.3v16.7l-13.4 8.3l-13.4 -8.3v-16.7z"/>
<path fill="#c6dbef" stroke="#c6dbef" d="M1232.5 57.4l13.4 8.3v16.7l-13.4 8.3l-13.4 -8.3v-16.7zM1474.1 57.4l13.4 8.3v16.7l-13.4 8.3l-13.4 -8.3v-16.7zM1125 107.4l13.4 8.3v16.7l-13.4 8.3l-13.4 -8.3v-16.7zM1151.9 107.4l13.4 8.3v16.7l-13.4 8.3l-13.4 -8.3v-16.7zM1527.8 107.4l13.4 8.3v16.7l-13.4 8.3l-13.4 -8.3v-16.7zM1527.8 157.4l13.4 8.3v16.7l-13.4 8.3l-13.4 -8.3v-16.7zM1151.9 207.4l13.4 8.3v16.7l-13.4 8.3l-13.4 -8.3v-16.7zM1527.8 207.4l13.4 8.3v16.7l-13.4 8.3l-13.4 -8.3v-16.7zM1151.9 257.4l13.4 8.3v16.7l-13.4 8.3l-13.4 -8.3v-16.7zM1232.5 257.4l13.4 8.3v16.7l-13.4 8.3l-13.4 -8.3v-16.7zM1501 257.4l13.4 8.3v16.7l-13.4 8.3l-13.4 -8.3v-16.7zM1125 307.4l13.4 8.3v16.7l-13.4 8.3l-13.4 -8.3v-16.7zM1151.9 307.4l13.4 8.3v16.7l-13.4 8.3l-13.4 -8.3v-16.7zM1474.1 307.4l13.4 8.3v16.7l-13.4 8.3l-13.4 -8.3v-16.7zM1151.9 357.4l13.4 8.3v16.7l-13.4 8.3l-13.4 -8.3v-16.7zM1178.8 357.4l13.4 8.3v16.7l-13.4 8.3l-13.4 -8.3v-16.7zM1205.6 357.4l13.4 8.3v16.7l-13.4 8.3l-13.4 -8.3v-16.7zM1259.3 357.4l13.4 8.3v16.7l-13.4 8.3l-13.4 -8.3v-16.7zM1178.8 407.4l13.4 8.3v16.7l-13.4 8.3l-13.4 -8.3v-16.7zM1286.1 407.4l13.4 8.3v16.7l-13.4 8.3l-13.4 -8.3v-16.7zM1313 457.4l13.4 8.3v16.7l-13.4 8.3l-13.4 -8.3v-16.7z"/>
<path fill="#b1d2e8" stroke="#b1d2e8" d="M1447.2 57.4l13.4 8.3v16.7l-13.4 8.3l-13.4 -8.3v-16.7zM1474.1 157.4l13.4 8.3v16.7l-13.4 8.3l-13.4 -8.3v-16.7zM1501 157.4l13.4 8.3v16.7l-13.4 8.3l-13.4 -8.3v-16.7zM1178.8 207.4l13.4 8.3v16.7l-13.4 8.3l-13.4 -8.3v-16.7zM1501 207.4l13.4 8.3v16.7l-13.4 8.3l-13.4 -8.3v-16.7zM1259.3 257.4l13.4 8.3v16.7l-13.4 8.3l-13.4 -8.3v-16.7zM1259.3 307.4l13.4 8.3v16.7l-13.4 8.3l-13.4 -8.3v-16.7zM1447.2 307.4l13.4 8.3v16.7l-13.4 8.3l-13.4 -8.3v-16.7zM1259.3 407.4l13.4 8.3v16.7l-13.4 8.3l-13.4 -8.3v-16.7zM1393.5 407.4l13.4 8.3v16.7l-13.4 8.3l-13.4 -8.3v-16.7z"/>
<path fill="#9ecae1" stroke="#9ecae1" d="M1259.3 57.4l13.4 8.3v16.7l-13.4 8.3l-13.4 -8.3v-16.7zM1393.5 57.4l13.4 8.3v16.7l-13.4 8.3l-13.4 -8.3v-16.7zM1178.8 107.4l13.4 8.3v16.7l-13.4 8.3l-13.4 -8.3v-16.7zM1501 107.4l13.4 8.3v16.7l-13.4 8.3l-13.4 -8.3v-16.7zM1474.1 207.4l13.4 8.3v16.7l-13.4 8.3l-13.4 -8.3v-16.7zM1313 257.4l13.4 8.3v16.7l-13.4 8.3l-13.4 -8.3v-16.7zM1339.8 357.4l13.4 8.3v16.7l-13.4 8.3l-13.4 -8.3v-16.7zM1420.4 357.4l13.4 8.3v16.7l-13.4 8.3l-13.4 -8.3v-16.7z"/>
<path fill="#8abfdd" stroke="#8abfdd" d="M1339.8 57.4l13.4 8.3v16.7l-13.4 8.3l-13.4 -8.3v-16.7zM1366.7 57.4l13.4 8.3v16.7l-13.4 8.3l-13.4 -8.3v-16.7zM1420.4 57.4l13.4 8.3v16.7l-13.4 8.3l-13.4 -8.3v-16.7zM1474.1 107.4l13.4 8.3v16.7l-13.4 8.3l-13.4 -8.3v-16.7zM1286.1 307.4l13.4 8.3v16.7l-13.4 8.3l-13.4 -8.3v-16.7zM1366.7 357.4l13.4 8.3v16.7l-13.4 8.3l-13.4 -8.3v-16.7zM1339.8 407.4l13.4 8.3v16.7l-13.4 8.3l-13.4 -8.3v-16.7z"/>
<path fill="#75b4d8" stroke="#75b4d8" d="M1286.1 57.4l13.4 8.3v16.7l-13.4 8.3l-13.4 -8.3v-16.7zM1205.6 107.4l13.4 8.3v16.7l-13.4 8.3l-13.4 -8.3v-16.7zM1259.3 107.4l13.4 8.3v16.7l-13.4 8.3l-13.4 -8.3v-16.7zM1286.1 107.4l13.4 8.3v16.7l-13.4 8.3l-13.4 -8.3v-16.7zM1447.2 107.4l13.4 8.3v16.7l-13.4 8.3l-13.4 -8.3v-16.7zM1178.8 157.4l13.4 8.3v16.7l-13.4 8.3l-13.4 -8.3v-16.7zM1205.6 207.4l13.4 8.3v16.7l-13.4 8.3l-13.4 -8.3v-16.7zM1232.5 207.4l13.4 8.3v16.7l-13.4 8.3l-13.4 -8.3v-16.7zM1286.1 257.4l13.4 8.3v16.7l-13.4 8.3l-13.4 -8.3v-16.7zM1366.7 307.4l13.4 8.3v16.7l-13.4 8.3l-13.4 -8.3v-16.7zM1313 357.4l13.4 8.3v16.7l-13.4 8.3l-13.4 -8.3v-16.7zM1313 407.4l13.4 8.3v16.7l-13.4 8.3l-13.4 -8.3v-16.7z"/>
<path fill="#63a8d3" stroke="#63a8d3" d="M1420.4 157.4l13.4 8.3v16.7l-13.4 8.3l-13.4 -8.3v-16.7zM1447.2 157.4l13.4 8.3v16.7l-13.4 8.3l-13.4 -8.3v-16.7zM1313 207.4l13.4 8.3v16.7l-13.4 8.3l-13.4 -8.3v-16.7zM1447.2 207.4l13.4 8.3v16.7l-13.4 8.3l-13.4 -8.3v-16.7zM1125 257.4l13.4 8.3v16.7l-13.4 8.3l-13.4 -8.3v-16.7zM1474.1 257.4l13.4 8.3v16.7l-13.4 8.3l-13.4 -8.3v-16.7zM1393.5 307.4l13.4 8.3v16.7l-13.4 8.3l-13.4 -8.3v-16.7zM1286.1 357.4l13.4 8.3v16.7l-13.4 8.3l-13.4 -8.3v-16.7z"/>
<path fill="#529dcc" stroke="#529dcc" d="M1313 57.4l13.4 8.3v16.7l-13.4 8.3l-13.4 -8.3v-16.7zM1313 107.4l13.4 8.3v16.7l-13.4 8.3l-13.4 -8.3v-16.7zM1339.8 107.4l13.4 8.3v16.7l-13.4 8.3l-13.4 -8.3v-16.7zM1232.5 157.4l13.4 8.3v16.7l-13.4 8.3l-13.4 -8.3v-16.7zM1286.1 157.4l13.4 8.3v16.7l-13.4 8.3l-13.4 -8.3v-16.7zM1447.2 257.4l13.4 8.3v16.7l-13.4 8.3l-13.4 -8.3v-16.7zM1420.4 307.4l13.4 8.3v16.7l-13.4 8.3l-13.4 -8.3v-16.7z"/>
<path fill="#4292c6" stroke="#4292c6" d="M1420.4 107.4l13.4 8.3v16.7l-13.4 8.3l-13.4 -8.3v-16.7zM1205.6 157.4l13.4 8.3v16.7l-13.4 8.3l-13.4 -8.3v-16.7zM1313 157.4l13.4 8.3v16.7l-13.4 8.3l-13.4 -8.3v-16.7zM1286.1 207.4l13.4 8.3v16.7l-13.4 8.3l-13.4 -8.3v-16.7zM1420.4 207.4l13.4 8.3v16.7l-13.4 8.3l-13.4 -8.3v-16.7zM1420.4 257.4l13.4 8.3v16.7l-13.4 8.3l-13.4 -8.3v-16.7z"/>
<path fill="#3585bf" stroke="#3585bf" d="M1366.7 107.4l13.4 8.3v16.7l-13.4 8.3l-13.4 -8.3v-16.7zM1339.8 157.4l13.4 8.3v16.7l-13.4 8.3l-13.4 -8.3v-16.7zM1339.8 257.4l13.4 8.3v16.7l-13.4 8.3l-13.4 -8.3v-16.7z"/>
<path fill="#2a7aba" stroke="#2a7aba" d="M1232.5 107.4l13.4 8.3v16.7l-13.4 8.3l-13.4 -8.3v-16.7z"/>
<path fill="#2070b4" stroke="#2070b4" d="M1393.5 107.4l13.4 8.3v16.7l-13.4 8.3l-13.4 -8.3v-16.7zM1339.8 207.4l13.4 8.3v16.7l-13.4 8.3l-13.4 -8.3v-16.7zM1393.5 257.4l13.4 8.3v16.7l-13.4 8.3l-13.4 -8.3v-16.7z"/>
<path fill="#1967ad" stroke="#1967ad" d="M1259.3 157.4l13.4 8.3v16.7l-13.4 8.3l-13.4 -8.3v-16.7zM1393.5 157.4l13.4 8.3v16.7l-13.4 8.3l-13.4 -8.3v-16.7zM1366.7 257.4l13.4 8.3v16.7l-13.4 8.3l-13.4 -8.3v-16.7z"/>
<path fill="#0f5aa3" stroke="#0f5aa3" d="M1366.7 157.4l13.4 8.3v16.7l-13.4 8.3l-13.4 -8.3v-16.7zM1393.5 207.4l13.4 8.3v16.7l-13.4 8.3l-13.4 -8.3v-16.7z"/>
<path fill="#084286" stroke="#084286" d="M1259.3 207.4l13.4 8.3v16.7l-13.4 8.3l-13.4 -8.3v-16.7zM1366.7 207.4l13.4 8.3v16.7l-13.4 8.3l-13.4 -8.3v-16.7z"/>
<path fill="#083877" stroke="#083877" d="M1313 307.4l13.4 8.3v16.7l-13.4 8.3l-13.4 -8.3v-16.7zM1339.8 307.4l13.4 8.3v16.7l-13.4 8.3l-13.4 -8.3v-16.7z"/>
</g>
<path class="s" d="M1043.1 386.9h14.4M1167.6 510.3v-14.4M1043.1 263.5h14.4M1292.1 510.3v-14.4M1043.1 140.1h14.4M1416.6 510.3v-14.4"/>
<g clip-path="url(#c1)" class="d">
<path d="M1043.1 263.5H1541.1"/>
<path d="M1292.1 510.3V16.7"/>
<path d="M1416.6 263.5A124.5 123.4 0 1 0 1167.6 263.5A124.5 123.4 0 1 0 1416.6 263.5"/>
<path d="M1541.1 263.5A249 246.8 0 1 0 1043.1 263.5A249 246.8 0 1 0 1541.1 263.5"/>
</g>
<rect class="s" x="1043.1" y="16.7" width="498" height="493.6"/>
<text class="m" transform="translate(1041.3 75) scale(1.22 1.16)">(</text>
<text class="m" x="1076.5" y="71">b</text>
<text class="m" transform="translate(1103.3 75) scale(1.22 1.16)">)</text>
<rect x="1573.2" y="16.7" width="24.4" height="493.6" fill="url(#cb)"/>
<text class="t" transform="translate(1625.1 525.3) scale(0.962 1)">0.00%</text>
<text class="t" transform="translate(1625.1 401.9) scale(0.962 1)">0.24%</text>
<text class="t" transform="translate(1625.1 278.5) scale(0.962 1)">0.47%</text>
<text class="t" transform="translate(1625.1 155.1) scale(0.962 1)">0.71%</text>
<text class="t" transform="translate(1625.1 31.7) scale(0.962 1)">0.94%</text>
<path class="s" d="M1597.6 510.3h14.4M1597.6 386.9h14.4M1597.6 263.5h14.4M1597.6 140.1h14.4M1597.6 16.7h14.4"/>
<rect class="s" x="1573.2" y="16.7" width="24.4" height="493.6"/>
</g>
<g id="panel-c">
<rect x="1791.6" y="16.7" width="498" height="493.6" fill="#f7fbff"/>
<g clip-path="url(#c2)" stroke-width="1.6" stroke-linejoin="miter">
<path fill="#f0f7fd" stroke="#f0f7fd" d="M1785.7 5l13.2 8.3v16.5l-13.2 8.3l-13.2 -8.3v-16.5zM1812.2 5l13.2 8.3v16.5l-13.2 8.3l-13.2 -8.3v-16.5zM1838.6 5l13.2 8.3v16.5l-13.2 8.3l-13.2 -8.3v-16.5zM1865 5l13.2 8.3v16.5l-13.2 8.3l-13.2 -8.3v-16.5zM1891.4 5l13.2 8.3v16.5l-13.2 8.3l-13.2 -8.3v-16.5zM1917.9 5l13.2 8.3v16.5l-13.2 8.3l-13.2 -8.3v-16.5zM1944.3 5l13.2 8.3v16.5l-13.2 8.3l-13.2 -8.3v-16.5zM1970.7 5l13.2 8.3v16.5l-13.2 8.3l-13.2 -8.3v-16.5zM1997.2 5l13.2 8.3v16.5l-13.2 8.3l-13.2 -8.3v-16.5zM2023.6 5l13.2 8.3v16.5l-13.2 8.3l-13.2 -8.3v-16.5zM2261.5 5l13.2 8.3v16.5l-13.2 8.3l-13.2 -8.3v-16.5zM2287.9 5l13.2 8.3v16.5l-13.2 8.3l-13.2 -8.3v-16.5zM1785.7 54.6l13.2 8.3v16.5l-13.2 8.3l-13.2 -8.3v-16.5zM1812.2 54.6l13.2 8.3v16.5l-13.2 8.3l-13.2 -8.3v-16.5zM1838.6 54.6l13.2 8.3v16.5l-13.2 8.3l-13.2 -8.3v-16.5zM1865 54.6l13.2 8.3v16.5l-13.2 8.3l-13.2 -8.3v-16.5zM1891.4 54.6l13.2 8.3v16.5l-13.2 8.3l-13.2 -8.3v-16.5zM1917.9 54.6l13.2 8.3v16.5l-13.2 8.3l-13.2 -8.3v-16.5zM1785.7 104.2l13.2 8.3v16.5l-13.2 8.3l-13.2 -8.3v-16.5zM1812.2 104.2l13.2 8.3v16.5l-13.2 8.3l-13.2 -8.3v-16.5zM1785.7 352.2l13.2 8.3v16.5l-13.2 8.3l-13.2 -8.3v-16.5zM1812.2 352.2l13.2 8.3v16.5l-13.2 8.3l-13.2 -8.3v-16.5zM1838.6 352.2l13.2 8.3v16.5l-13.2 8.3l-13.2 -8.3v-16.5zM1785.7 401.8l13.2 8.3v16.5l-13.2 8.3l-13.2 -8.3v-16.5zM1812.2 401.8l13.2 8.3v16.5l-13.2 8.3l-13.2 -8.3v-16.5zM1838.6 401.8l13.2 8.3v16.5l-13.2 8.3l-13.2 -8.3v-16.5zM1865 401.8l13.2 8.3v16.5l-13.2 8.3l-13.2 -8.3v-16.5zM1891.4 401.8l13.2 8.3v16.5l-13.2 8.3l-13.2 -8.3v-16.5zM1785.7 451.4l13.2 8.3v16.5l-13.2 8.3l-13.2 -8.3v-16.5zM1812.2 451.4l13.2 8.3v16.5l-13.2 8.3l-13.2 -8.3v-16.5zM1838.6 451.4l13.2 8.3v16.5l-13.2 8.3l-13.2 -8.3v-16.5zM1865 451.4l13.2 8.3v16.5l-13.2 8.3l-13.2 -8.3v-16.5zM1891.4 451.4l13.2 8.3v16.5l-13.2 8.3l-13.2 -8.3v-16.5zM1917.9 451.4l13.2 8.3v16.5l-13.2 8.3l-13.2 -8.3v-16.5zM1944.3 451.4l13.2 8.3v16.5l-13.2 8.3l-13.2 -8.3v-16.5zM1970.7 451.4l13.2 8.3v16.5l-13.2 8.3l-13.2 -8.3v-16.5zM2287.9 451.4l13.2 8.3v16.5l-13.2 8.3l-13.2 -8.3v-16.5zM1785.7 501l13.2 8.3v16.5l-13.2 8.3l-13.2 -8.3v-16.5zM1812.2 501l13.2 8.3v16.5l-13.2 8.3l-13.2 -8.3v-16.5zM1838.6 501l13.2 8.3v16.5l-13.2 8.3l-13.2 -8.3v-16.5zM1865 501l13.2 8.3v16.5l-13.2 8.3l-13.2 -8.3v-16.5zM1891.4 501l13.2 8.3v16.5l-13.2 8.3l-13.2 -8.3v-16.5zM1917.9 501l13.2 8.3v16.5l-13.2 8.3l-13.2 -8.3v-16.5zM1944.3 501l13.2 8.3v16.5l-13.2 8.3l-13.2 -8.3v-16.5zM1970.7 501l13.2 8.3v16.5l-13.2 8.3l-13.2 -8.3v-16.5zM1997.2 501l13.2 8.3v16.5l-13.2 8.3l-13.2 -8.3v-16.5zM2023.6 501l13.2 8.3v16.5l-13.2 8.3l-13.2 -8.3v-16.5zM2050 501l13.2 8.3v16.5l-13.2 8.3l-13.2 -8.3v-16.5zM2076.5 501l13.2 8.3v16.5l-13.2 8.3l-13.2 -8.3v-16.5zM2102.9 501l13.2 8.3v16.5l-13.2 8.3l-13.2 -8.3v-16.5zM2129.3 501l13.2 8.3v16.5l-13.2 8.3l-13.2 -8.3v-16.5zM2155.7 501l13.2 8.3v16.5l-13.2 8.3l-13.2 -8.3v-16.5zM2182.2 501l13.2 8.3v16.5l-13.2 8.3l-13.2 -8.3v-16.5zM2208.6 501l13.2 8.3v16.5l-13.2 8.3l-13.2 -8.3v-16.5zM2235 501l13.2 8.3v16.5l-13.2 8.3l-13.2 -8.3v-16.5zM2261.5 501l13.2 8.3v16.5l-13.2 8.3l-13.2 -8.3v-16.5zM2287.9 501l13.2 8.3v16.5l-13.2 8.3l-13.2 -8.3v-16.5z"/>
<path fill="#e3eef9" stroke="#e3eef9" d="M2076.5 5l13.2 8.3v16.5l-13.2 8.3l-13.2 -8.3v-16.5zM2102.9 5l13.2 8.3v16.5l-13.2 8.3l-13.2 -8.3v-16.5zM2155.7 5l13.2 8.3v16.5l-13.2 8.3l-13.2 -8.3v-16.5zM2182.2 5l13.2 8.3v16.5l-13.2 8.3l-13.2 -8.3v-16.5zM2208.6 5l13.2 8.3v16.5l-13.2 8.3l-13.2 -8.3v-16.5zM2235 5l13.2 8.3v16.5l-13.2 8.3l-13.2 -8.3v-16.5zM1944.3 54.6l13.2 8.3v16.5l-13.2 8.3l-13.2 -8.3v-16.5zM1970.7 54.6l13.2 8.3v16.5l-13.2 8.3l-13.2 -8.3v-16.5zM1838.6 104.2l13.2 8.3v16.5l-13.2 8.3l-13.2 -8.3v-16.5zM1865 104.2l13.2 8.3v16.5l-13.2 8.3l-13.2 -8.3v-16.5zM1891.4 104.2l13.2 8.3v16.5l-13.2 8.3l-13.2 -8.3v-16.5zM1785.7 153.8l13.2 8.3v16.5l-13.2 8.3l-13.2 -8.3v-16.5zM1785.7 302.6l13.2 8.3v16.5l-13.2 8.3l-13.2 -8.3v-16.5zM1812.2 302.6l13.2 8.3v16.5l-13.2 8.3l-13.2 -8.3v-16.5zM1838.6 302.6l13.2 8.3v16.5l-13.2 8.3l-13.2 -8.3v-16.5zM1865 352.2l13.2 8.3v16.5l-13.2 8.3l-13.2 -8.3v-16.5zM1891.4 352.2l13.2 8.3v16.5l-13.2 8.3l-13.2 -8.3v-16.5zM1917.9 401.8l13.2 8.3v16.5l-13.2 8.3l-13.2 -8.3v-16.5zM2261.5 401.8l13.2 8.3v16.5l-13.2 8.3l-13.2 -8.3v-16.5zM2287.9 401.8l13.2 8.3v16.5l-13.2 8.3l-13.2 -8.3v-16.5zM1997.2 451.4l13.2 8.3v16.5l-13.2 8.3l-13.2 -8.3v-16.5zM2023.6 451.4l13.2 8.3v16.5l-13.2 8.3l-13.2 -8.3v-16.5zM2050 451.4l13.2 8.3v16.5l-13.2 8.3l-13.2 -8.3v-16.5zM2076.5 451.4l13.2 8.3v16.5l-13.2 8.3l-13.2 -8.3v-16.5zM2102.9 451.4l13.2 8.3v16.5l-13.2 8.3l-13.2 -8.3v-16.5zM2235 451.4l13.2 8.3v16.5l-13.2 8.3l-13.2 -8.3v-16.5z"/>
<path fill="#d3e4f3" stroke="#d3e4f3" d="M1997.2 54.6l13.2 8.3v16.5l-13.2 8.3l-13.2 -8.3v-16.5zM2261.5 54.6l13.2 8.3v16.5l-13.2 8.3l-13.2 -8.3v-16.5zM2287.9 54.6l13.2 8.3v16.5l-13.2 8.3l-13.2 -8.3v-16.5zM1917.9 104.2l13.2 8.3v16.5l-13.2 8.3l-13.2 -8.3v-16.5zM1970.7 104.2l13.2 8.3v16.5l-13.2 8.3l-13.2 -8.3v-16.5zM1997.2 104.2l13.2 8.3v16.5l-13.2 8.3l-13.2 -8.3v-16.5zM1812.2 153.8l13.2 8.3v16.5l-13.2 8.3l-13.2 -8.3v-16.5zM1865 153.8l13.2 8.3v16.5l-13.2 8.3l-13.2 -8.3v-16.5zM1891.4 153.8l13.2 8.3v16.5l-13.2 8.3l-13.2 -8.3v-16.5zM1785.7 203.4l13.2 8.3v16.5l-13.2 8.3l-13.2 -8.3v-16.5zM1785.7 253l13.2 8.3v16.5l-13.2 8.3l-13.2 -8.3v-16.5zM1812.2 253l13.2 8.3v16.5l-13.2 8.3l-13.2 -8.3v-16.5zM1944.3 401.8l13.2 8.3v16.5l-13.2 8.3l-13.2 -8.3v-16.5zM1970.7 401.8l13.2 8.3v16.5l-13.2 8.3l-13.2 -8.3v-16.5zM2023.6 401.8l13.2 8.3v16.5l-13.2 8.3l-13.2 -8.3v-16.5zM2261.5 451.4l13.2 8.3v16.5l-13.2 8.3l-13.2 -8.3v-16.5z"/>
<path fill="#c6dbef" stroke="#c6dbef" d="M2050 5l13.2 8.3v16.5l-13.2 8.3l-13.2 -8.3v-16.5zM2129.3 5l13.2 8.3v16.5l-13.2 8.3l-13.2 -8.3v-16.5zM2102.9 54.6l13.2 8.3v16.5l-13.2 8.3l-13.2 -8.3v-16.5zM2076.5 104.2l13.2 8.3v16.5l-13.2 8.3l-13.2 -8.3v-16.5zM1838.6 153.8l13.2 8.3v16.5l-13.2 8.3l-13.2 -8.3v-16.5zM2287.9 153.8l13.2 8.3v16.5l-13.2 8.3l-13.2 -8.3v-16.5zM1812.2 203.4l13.2 8.3v16.5l-13.2 8.3l-13.2 -8.3v-16.5zM1838.6 253l13.2 8.3v16.5l-13.2 8.3l-13.2 -8.3v-16.5zM1865 302.6l13.2 8.3v16.5l-13.2 8.3l-13.2 -8.3v-16.5zM1917.9 302.6l13.2 8.3v16.5l-13.2 8.3l-13.2 -8.3v-16.5zM2287.9 302.6l13.2 8.3v16.5l-13.2 8.3l-13.2 -8.3v-16.5zM1917.9 352.2l13.2 8.3v16.5l-13.2 8.3l-13.2 -8.3v-16.5zM1944.3 352.2l13.2 8.3v16.5l-13.2 8.3l-13.2 -8.3v-16.5zM2261.5 352.2l13.2 8.3v16.5l-13.2 8.3l-13.2 -8.3v-16.5zM1997.2 401.8l13.2 8.3v16.5l-13.2 8.3l-13.2 -8.3v-16.5zM2129.3 451.4l13.2 8.3v16.5l-13.2 8.3l-13.2 -8.3v-16.5zM2208.6 451.4l13.2 8.3v16.5l-13.2 8.3l-13.2 -8.3v-16.5z"/>
<path fill="#b1d2e8" stroke="#b1d2e8" d="M2023.6 54.6l13.2 8.3v16.5l-13.2 8.3l-13.2 -8.3v-16.5zM2182.2 54.6l13.2 8.3v16.5l-13.2 8.3l-13.2 -8.3v-16.5zM2023.6 104.2l13.2 8.3v16.5l-13.2 8.3l-13.2 -8.3v-16.5zM2050 104.2l13.2 8.3v16.5l-13.2 8.3l-13.2 -8.3v-16.5zM2235 104.2l13.2 8.3v16.5l-13.2 8.3l-13.2 -8.3v-16.5zM2261.5 104.2l13.2 8.3v16.5l-13.2 8.3l-13.2 -8.3v-16.5zM2287.9 104.2l13.2 8.3v16.5l-13.2 8.3l-13.2 -8.3v-16.5zM1891.4 203.4l13.2 8.3v16.5l-13.2 8.3l-13.2 -8.3v-16.5zM2287.9 203.4l13.2 8.3v16.5l-13.2 8.3l-13.2 -8.3v-16.5zM1917.9 253l13.2 8.3v16.5l-13.2 8.3l-13.2 -8.3v-16.5zM2287.9 253l13.2 8.3v16.5l-13.2 8.3l-13.2 -8.3v-16.5zM1891.4 302.6l13.2 8.3v16.5l-13.2 8.3l-13.2 -8.3v-16.5zM2287.9 352.2l13.2 8.3v16.5l-13.2 8.3l-13.2 -8.3v-16.5zM2182.2 401.8l13.2 8.3v16.5l-13.2 8.3l-13.2 -8.3v-16.5zM2182.2 451.4l13.2 8.3v16.5l-13.2 8.3l-13.2 -8.3v-16.5z"/>
<path fill="#9ecae1" stroke="#9ecae1" d="M2235 54.6l13.2 8.3v16.5l-13.2 8.3l-13.2 -8.3v-16.5zM1944.3 104.2l13.2 8.3v16.5l-13.2 8.3l-13.2 -8.3v-16.5zM2155.7 104.2l13.2 8.3v16.5l-13.2 8.3l-13.2 -8.3v-16.5zM1917.9 153.8l13.2 8.3v16.5l-13.2 8.3l-13.2 -8.3v-16.5zM1917.9 203.4l13.2 8.3v16.5l-13.2 8.3l-13.2 -8.3v-16.5zM2261.5 203.4l13.2 8.3v16.5l-13.2 8.3l-13.2 -8.3v-16.5zM1865 253l13.2 8.3v16.5l-13.2 8.3l-13.2 -8.3v-16.5zM1944.3 253l13.2 8.3v16.5l-13.2 8.3l-13.2 -8.3v-16.5zM1997.2 253l13.2 8.3v16.5l-13.2 8.3l-13.2 -8.3v-16.5zM2261.5 253l13.2 8.3v16.5l-13.2 8.3l-13.2 -8.3v-16.5zM1944.3 302.6l13.2 8.3v16.5l-13.2 8.3l-13.2 -8.3v-16.5zM1970.7 302.6l13.2 8.3v16.5l-13.2 8.3l-13.2 -8.3v-16.5zM1997.2 302.6l13.2 8.3v16.5l-13.2 8.3l-13.2 -8.3v-16.5zM2050 302.6l13.2 8.3v16.5l-13.2 8.3l-13.2 -8.3v-16.5zM1970.7 352.2l13.2 8.3v16.5l-13.2 8.3l-13.2 -8.3v-16.5zM2023.6 352.2l13.2 8.3v16.5l-13.2 8.3l-13.2 -8.3v-16.5zM2208.6 352.2l13.2 8.3v16.5l-13.2 8.3l-13.2 -8.3v-16.5zM2050 401.8l13.2 8.3v16.5l-13.2 8.3l-13.2 -8.3v-16.5zM2076.5 401.8l13.2 8.3v16.5l-13.2 8.3l-13.2 -8.3v-16.5zM2102.9 401.8l13.2 8.3v16.5l-13.2 8.3l-13.2 -8.3v-16.5zM2235 401.8l13.2 8.3v16.5l-13.2 8.3l-13.2 -8.3v-16.5zM2155.7 451.4l13.2 8.3v16.5l-13.2 8.3l-13.2 -8.3v-16.5z"/>
<path fill="#8abfdd" stroke="#8abfdd" d="M2050 54.6l13.2 8.3v16.5l-13.2 8.3l-13.2 -8.3v-16.5zM2076.5 54.6l13.2 8.3v16.5l-13.2 8.3l-13.2 -8.3v-16.5zM2129.3 54.6l13.2 8.3v16.5l-13.2 8.3l-13.2 -8.3v-16.5zM2155.7 54.6l13.2 8.3v16.5l-13.2 8.3l-13.2 -8.3v-16.5zM2208.6 54.6l13.2 8.3v16.5l-13.2 8.3l-13.2 -8.3v-16.5zM2102.9 104.2l13.2 8.3v16.5l-13.2 8.3l-13.2 -8.3v-16.5zM2182.2 104.2l13.2 8.3v16.5l-13.2 8.3l-13.2 -8.3v-16.5zM2050 153.8l13.2 8.3v16.5l-13.2 8.3l-13.2 -8.3v-16.5zM1838.6 203.4l13.2 8.3v16.5l-13.2 8.3l-13.2 -8.3v-16.5zM1865 203.4l13.2 8.3v16.5l-13.2 8.3l-13.2 -8.3v-16.5zM1970.7 203.4l13.2 8.3v16.5l-13.2 8.3l-13.2 -8.3v-16.5zM1891.4 253l13.2 8.3v16.5l-13.2 8.3l-13.2 -8.3v-16.5zM1970.7 253l13.2 8.3v16.5l-13.2 8.3l-13.2 -8.3v-16.5zM1997.2 352.2l13.2 8.3v16.5l-13.2 8.3l-13.2 -8.3v-16.5zM2076.5 352.2l13.2 8.3v16.5l-13.2 8.3l-13.2 -8.3v-16.5zM2235 352.2l13.2 8.3v16.5l-13.2 8.3l-13.2 -8.3v-16.5z"/>
<path fill="#75b4d8" stroke="#75b4d8" d="M2129.3 104.2l13.2 8.3v16.5l-13.2 8.3l-13.2 -8.3v-16.5zM1970.7 153.8l13.2 8.3v16.5l-13.2 8.3l-13.2 -8.3v-16.5zM1944.3 203.4l13.2 8.3v16.5l-13.2 8.3l-13.2 -8.3v-16.5zM2076.5 253l13.2 8.3v16.5l-13.2 8.3l-13.2 -8.3v-16.5zM2129.3 352.2l13.2 8.3v16.5l-13.2 8.3l-13.2 -8.3v-16.5zM2129.3 401.8l13.2 8.3v16.5l-13.2 8.3l-13.2 -8.3v-16.5z"/>
<path fill="#63a8d3" stroke="#63a8d3" d="M2023.6 153.8l13.2 8.3v16.5l-13.2 8.3l-13.2 -8.3v-16.5zM2076.5 153.8l13.2 8.3v16.5l-13.2 8.3l-13.2 -8.3v-16.5zM2208.6 153.8l13.2 8.3v16.5l-13.2 8.3l-13.2 -8.3v-16.5zM2235 153.8l13.2 8.3v16.5l-13.2 8.3l-13.2 -8.3v-16.5zM2261.5 153.8l13.2 8.3v16.5l-13.2 8.3l-13.2 -8.3v-16.5zM2050 203.4l13.2 8.3v16.5l-13.2 8.3l-13.2 -8.3v-16.5zM2208.6 203.4l13.2 8.3v16.5l-13.2 8.3l-13.2 -8.3v-16.5zM2235 203.4l13.2 8.3v16.5l-13.2 8.3l-13.2 -8.3v-16.5zM2050 253l13.2 8.3v16.5l-13.2 8.3l-13.2 -8.3v-16.5zM2102.9 253l13.2 8.3v16.5l-13.2 8.3l-13.2 -8.3v-16.5zM2235 253l13.2 8.3v16.5l-13.2 8.3l-13.2 -8.3v-16.5zM2023.6 302.6l13.2 8.3v16.5l-13.2 8.3l-13.2 -8.3v-16.5zM2235 302.6l13.2 8.3v16.5l-13.2 8.3l-13.2 -8.3v-16.5zM2050 352.2l13.2 8.3v16.5l-13.2 8.3l-13.2 -8.3v-16.5zM2155.7 352.2l13.2 8.3v16.5l-13.2 8.3l-13.2 -8.3v-16.5z"/>
<path fill="#529dcc" stroke="#529dcc" d="M1997.2 153.8l13.2 8.3v16.5l-13.2 8.3l-13.2 -8.3v-16.5zM2129.3 153.8l13.2 8.3v16.5l-13.2 8.3l-13.2 -8.3v-16.5zM2155.7 153.8l13.2 8.3v16.5l-13.2 8.3l-13.2 -8.3v-16.5zM2182.2 153.8l13.2 8.3v16.5l-13.2 8.3l-13.2 -8.3v-16.5zM1997.2 203.4l13.2 8.3v16.5l-13.2 8.3l-13.2 -8.3v-16.5zM2023.6 203.4l13.2 8.3v16.5l-13.2 8.3l-13.2 -8.3v-16.5zM2155.7 203.4l13.2 8.3v16.5l-13.2 8.3l-13.2 -8.3v-16.5zM2182.2 203.4l13.2 8.3v16.5l-13.2 8.3l-13.2 -8.3v-16.5zM2023.6 253l13.2 8.3v16.5l-13.2 8.3l-13.2 -8.3v-16.5zM2261.5 302.6l13.2 8.3v16.5l-13.2 8.3l-13.2 -8.3v-16.5zM2102.9 352.2l13.2 8.3v16.5l-13.2 8.3l-13.2 -8.3v-16.5zM2155.7 401.8l13.2 8.3v16.5l-13.2 8.3l-13.2 -8.3v-16.5z"/>
<path fill="#4292c6" stroke="#4292c6" d="M1944.3 153.8l13.2 8.3v16.5l-13.2 8.3l-13.2 -8.3v-16.5zM2076.5 203.4l13.2 8.3v16.5l-13.2 8.3l-13.2 -8.3v-16.5zM2102.9 203.4l13.2 8.3v16.5l-13.2 8.3l-13.2 -8.3v-16.5z"/>
<path fill="#3585bf" stroke="#3585bf" d="M2208.6 104.2l13.2 8.3v16.5l-13.2 8.3l-13.2 -8.3v-16.5zM2129.3 253l13.2 8.3v16.5l-13.2 8.3l-13.2 -8.3v-16.5zM2208.6 302.6l13.2 8.3v16.5l-13.2 8.3l-13.2 -8.3v-16.5zM2208.6 401.8l13.2 8.3v16.5l-13.2 8.3l-13.2 -8.3v-16.5z"/>
<path fill="#2a7aba" stroke="#2a7aba" d="M2102.9 153.8l13.2 8.3v16.5l-13.2 8.3l-13.2 -8.3v-16.5zM2208.6 253l13.2 8.3v16.5l-13.2 8.3l-13.2 -8.3v-16.5zM2076.5 302.6l13.2 8.3v16.5l-13.2 8.3l-13.2 -8.3v-16.5zM2182.2 302.6l13.2 8.3v16.5l-13.2 8.3l-13.2 -8.3v-16.5zM2182.2 352.2l13.2 8.3v16.5l-13.2 8.3l-13.2 -8.3v-16.5z"/>
<path fill="#2070b4" stroke="#2070b4" d="M2155.7 302.6l13.2 8.3v16.5l-13.2 8.3l-13.2 -8.3v-16.5z"/>
<path fill="#1967ad" stroke="#1967ad" d="M2102.9 302.6l13.2 8.3v16.5l-13.2 8.3l-13.2 -8.3v-16.5zM2129.3 302.6l13.2 8.3v16.5l-13.2 8.3l-13.2 -8.3v-16.5z"/>
<path fill="#084d96" stroke="#084d96" d="M2129.3 203.4l13.2 8.3v16.5l-13.2 8.3l-13.2 -8.3v-16.5zM2155.7 253l13.2 8.3v16.5l-13.2 8.3l-13.2 -8.3v-16.5z"/>
<path fill="#084286" stroke="#084286" d="M2182.2 253l13.2 8.3v16.5l-13.2 8.3l-13.2 -8.3v-16.5z"/>
<path fill="#f0f7fd" stroke="#f0f7fd" d="M1798.9 29.8l13.2 8.3v16.5l-13.2 8.3l-13.2 -8.3v-16.5zM1825.4 29.8l13.2 8.3v16.5l-13.2 8.3l-13.2 -8.3v-16.5zM1851.8 29.8l13.2 8.3v16.5l-13.2 8.3l-13.2 -8.3v-16.5zM1878.2 29.8l13.2 8.3v16.5l-13.2 8.3l-13.2 -8.3v-16.5zM1931.1 29.8l13.2 8.3v16.5l-13.2 8.3l-13.2 -8.3v-16.5zM1798.9 79.4l13.2 8.3v16.5l-13.2 8.3l-13.2 -8.3v-16.5zM1825.4 79.4l13.2 8.3v16.5l-13.2 8.3l-13.2 -8.3v-16.5zM1851.8 79.4l13.2 8.3v16.5l-13.2 8.3l-13.2 -8.3v-16.5zM1798.9 327.4l13.2 8.3v16.5l-13.2 8.3l-13.2 -8.3v-16.5zM1825.4 327.4l13.2 8.3v16.5l-13.2 8.3l-13.2 -8.3v-16.5zM1798.9 377l13.2 8.3v16.5l-13.2 8.3l-13.2 -8.3v-16.5zM1825.4 377l13.2 8.3v16.5l-13.2 8.3l-13.2 -8.3v-16.5zM1851.8 377l13.2 8.3v16.5l-13.2 8.3l-13.2 -8.3v-16.5zM1798.9 426.6l13.2 8.3v16.5l-13.2 8.3l-13.2 -8.3v-16.5zM1825.4 426.6l13.2 8.3v16.5l-13.2 8.3l-13.2 -8.3v-16.5zM1851.8 426.6l13.2 8.3v16.5l-13.2 8.3l-13.2 -8.3v-16.5zM1878.2 426.6l13.2 8.3v16.5l-13.2 8.3l-13.2 -8.3v-16.5zM1904.7 426.6l13.2 8.3v16.5l-13.2 8.3l-13.2 -8.3v-16.5zM1931.1 426.6l13.2 8.3v16.5l-13.2 8.3l-13.2 -8.3v-16.5zM2301.1 426.6l13.2 8.3v16.5l-13.2 8.3l-13.2 -8.3v-16.5zM1798.9 476.2l13.2 8.3v16.5l-13.2 8.3l-13.2 -8.3v-16.5zM1825.4 476.2l13.2 8.3v16.5l-13.2 8.3l-13.2 -8.3v-16.5zM1851.8 476.2l13.2 8.3v16.5l-13.2 8.3l-13.2 -8.3v-16.5zM1878.2 476.2l13.2 8.3v16.5l-13.2 8.3l-13.2 -8.3v-16.5zM1904.7 476.2l13.2 8.3v16.5l-13.2 8.3l-13.2 -8.3v-16.5zM1931.1 476.2l13.2 8.3v16.5l-13.2 8.3l-13.2 -8.3v-16.5zM1957.5 476.2l13.2 8.3v16.5l-13.2 8.3l-13.2 -8.3v-16.5zM1983.9 476.2l13.2 8.3v16.5l-13.2 8.3l-13.2 -8.3v-16.5zM2010.4 476.2l13.2 8.3v16.5l-13.2 8.3l-13.2 -8.3v-16.5zM2036.8 476.2l13.2 8.3v16.5l-13.2 8.3l-13.2 -8.3v-16.5zM2063.2 476.2l13.2 8.3v16.5l-13.2 8.3l-13.2 -8.3v-16.5zM2089.7 476.2l13.2 8.3v16.5l-13.2 8.3l-13.2 -8.3v-16.5zM2116.1 476.2l13.2 8.3v16.5l-13.2 8.3l-13.2 -8.3v-16.5zM2195.4 476.2l13.2 8.3v16.5l-13.2 8.3l-13.2 -8.3v-16.5zM2274.7 476.2l13.2 8.3v16.5l-13.2 8.3l-13.2 -8.3v-16.5zM2301.1 476.2l13.2 8.3v16.5l-13.2 8.3l-13.2 -8.3v-16.5z"/>
<path fill="#e3eef9" stroke="#e3eef9" d="M1957.5 29.8l13.2 8.3v16.5l-13.2 8.3l-13.2 -8.3v-16.5zM1983.9 29.8l13.2 8.3v16.5l-13.2 8.3l-13.2 -8.3v-16.5zM2010.4 29.8l13.2 8.3v16.5l-13.2 8.3l-13.2 -8.3v-16.5zM2036.8 29.8l13.2 8.3v16.5l-13.2 8.3l-13.2 -8.3v-16.5zM2274.7 29.8l13.2 8.3v16.5l-13.2 8.3l-13.2 -8.3v-16.5zM2301.1 29.8l13.2 8.3v16.5l-13.2 8.3l-13.2 -8.3v-16.5zM1878.2 79.4l13.2 8.3v16.5l-13.2 8.3l-13.2 -8.3v-16.5zM1904.7 79.4l13.2 8.3v16.5l-13.2 8.3l-13.2 -8.3v-16.5zM1931.1 79.4l13.2 8.3v16.5l-13.2 8.3l-13.2 -8.3v-16.5zM1798.9 129l13.2 8.3v16.5l-13.2 8.3l-13.2 -8.3v-16.5zM1825.4 129l13.2 8.3v16.5l-13.2 8.3l-13.2 -8.3v-16.5zM1851.8 327.4l13.2 8.3v16.5l-13.2 8.3l-13.2 -8.3v-16.5zM1878.2 377l13.2 8.3v16.5l-13.2 8.3l-13.2 -8.3v-16.5zM2010.4 426.6l13.2 8.3v16.5l-13.2 8.3l-13.2 -8.3v-16.5zM2248.2 426.6l13.2 8.3v16.5l-13.2 8.3l-13.2 -8.3v-16.5zM2274.7 426.6l13.2 8.3v16.5l-13.2 8.3l-13.2 -8.3v-16.5zM2142.5 476.2l13.2 8.3v16.5l-13.2 8.3l-13.2 -8.3v-16.5zM2169 476.2l13.2 8.3v16.5l-13.2 8.3l-13.2 -8.3v-16.5zM2221.8 476.2l13.2 8.3v16.5l-13.2 8.3l-13.2 -8.3v-16.5zM2248.2 476.2l13.2 8.3v16.5l-13.2 8.3l-13.2 -8.3v-16.5z"/>
<path fill="#d3e4f3" stroke="#d3e4f3" d="M1904.7 29.8l13.2 8.3v16.5l-13.2 8.3l-13.2 -8.3v-16.5zM2063.2 29.8l13.2 8.3v16.5l-13.2 8.3l-13.2 -8.3v-16.5zM2169 29.8l13.2 8.3v16.5l-13.2 8.3l-13.2 -8.3v-16.5zM2195.4 29.8l13.2 8.3v16.5l-13.2 8.3l-13.2 -8.3v-16.5zM2221.8 29.8l13.2 8.3v16.5l-13.2 8.3l-13.2 -8.3v-16.5zM2248.2 29.8l13.2 8.3v16.5l-13.2 8.3l-13.2 -8.3v-16.5zM2010.4 79.4l13.2 8.3v16.5l-13.2 8.3l-13.2 -8.3v-16.5zM2274.7 79.4l13.2 8.3v16.5l-13.2 8.3l-13.2 -8.3v-16.5zM2301.1 79.4l13.2 8.3v16.5l-13.2 8.3l-13.2 -8.3v-16.5zM1851.8 129l13.2 8.3v16.5l-13.2 8.3l-13.2 -8.3v-16.5zM1878.2 129l13.2 8.3v16.5l-13.2 8.3l-13.2 -8.3v-16.5zM1798.9 178.6l13.2 8.3v16.5l-13.2 8.3l-13.2 -8.3v-16.5zM1798.9 277.8l13.2 8.3v16.5l-13.2 8.3l-13.2 -8.3v-16.5zM1878.2 327.4l13.2 8.3v16.5l-13.2 8.3l-13.2 -8.3v-16.5zM2274.7 327.4l13.2 8.3v16.5l-13.2 8.3l-13.2 -8.3v-16.5zM2301.1 327.4l13.2 8.3v16.5l-13.2 8.3l-13.2 -8.3v-16.5zM1904.7 377l13.2 8.3v16.5l-13.2 8.3l-13.2 -8.3v-16.5zM1931.1 377l13.2 8.3v16.5l-13.2 8.3l-13.2 -8.3v-16.5zM2248.2 377l13.2 8.3v16.5l-13.2 8.3l-13.2 -8.3v-16.5zM1957.5 426.6l13.2 8.3v16.5l-13.2 8.3l-13.2 -8.3v-16.5zM1983.9 426.6l13.2 8.3v16.5l-13.2 8.3l-13.2 -8.3v-16.5z"/>
<path fill="#c6dbef" stroke="#c6dbef" d="M2116.1 29.8l13.2 8.3v16.5l-13.2 8.3l-13.2 -8.3v-16.5zM2142.5 29.8l13.2 8.3v16.5l-13.2 8.3l-13.2 -8.3v-16.5zM1957.5 79.4l13.2 8.3v16.5l-13.2 8.3l-13.2 -8.3v-16.5zM1983.9 79.4l13.2 8.3v16.5l-13.2 8.3l-13.2 -8.3v-16.5zM2036.8 79.4l13.2 8.3v16.5l-13.2 8.3l-13.2 -8.3v-16.5zM2248.2 79.4l13.2 8.3v16.5l-13.2 8.3l-13.2 -8.3v-16.5zM2036.8 129l13.2 8.3v16.5l-13.2 8.3l-13.2 -8.3v-16.5zM1825.4 178.6l13.2 8.3v16.5l-13.2 8.3l-13.2 -8.3v-16.5zM1798.9 228.2l13.2 8.3v16.5l-13.2 8.3l-13.2 -8.3v-16.5zM1825.4 277.8l13.2 8.3v16.5l-13.2 8.3l-13.2 -8.3v-16.5zM1904.7 327.4l13.2 8.3v16.5l-13.2 8.3l-13.2 -8.3v-16.5zM1957.5 377l13.2 8.3v16.5l-13.2 8.3l-13.2 -8.3v-16.5zM1983.9 377l13.2 8.3v16.5l-13.2 8.3l-13.2 -8.3v-16.5zM2063.2 426.6l13.2 8.3v16.5l-13.2 8.3l-13.2 -8.3v-16.5zM2089.7 426.6l13.2 8.3v16.5l-13.2 8.3l-13.2 -8.3v-16.5zM2142.5 426.6l13.2 8.3v16.5l-13.2 8.3l-13.2 -8.3v-16.5z"/>
<path fill="#b1d2e8" stroke="#b1d2e8" d="M2089.7 29.8l13.2 8.3v16.5l-13.2 8.3l-13.2 -8.3v-16.5zM1904.7 129l13.2 8.3v16.5l-13.2 8.3l-13.2 -8.3v-16.5zM2063.2 129l13.2 8.3v16.5l-13.2 8.3l-13.2 -8.3v-16.5zM2142.5 129l13.2 8.3v16.5l-13.2 8.3l-13.2 -8.3v-16.5zM2301.1 178.6l13.2 8.3v16.5l-13.2 8.3l-13.2 -8.3v-16.5zM1851.8 228.2l13.2 8.3v16.5l-13.2 8.3l-13.2 -8.3v-16.5zM2301.1 228.2l13.2 8.3v16.5l-13.2 8.3l-13.2 -8.3v-16.5zM2301.1 377l13.2 8.3v16.5l-13.2 8.3l-13.2 -8.3v-16.5zM2036.8 426.6l13.2 8.3v16.5l-13.2 8.3l-13.2 -8.3v-16.5z"/>
<path fill="#9ecae1" stroke="#9ecae1" d="M1983.9 129l13.2 8.3v16.5l-13.2 8.3l-13.2 -8.3v-16.5zM2010.4 129l13.2 8.3v16.5l-13.2 8.3l-13.2 -8.3v-16.5zM2089.7 129l13.2 8.3v16.5l-13.2 8.3l-13.2 -8.3v-16.5zM2301.1 129l13.2 8.3v16.5l-13.2 8.3l-13.2 -8.3v-16.5zM1878.2 178.6l13.2 8.3v16.5l-13.2 8.3l-13.2 -8.3v-16.5zM2010.4 178.6l13.2 8.3v16.5l-13.2 8.3l-13.2 -8.3v-16.5zM2221.8 178.6l13.2 8.3v16.5l-13.2 8.3l-13.2 -8.3v-16.5zM2274.7 178.6l13.2 8.3v16.5l-13.2 8.3l-13.2 -8.3v-16.5zM1825.4 228.2l13.2 8.3v16.5l-13.2 8.3l-13.2 -8.3v-16.5zM1878.2 228.2l13.2 8.3v16.5l-13.2 8.3l-13.2 -8.3v-16.5zM1904.7 228.2l13.2 8.3v16.5l-13.2 8.3l-13.2 -8.3v-16.5zM2010.4 228.2l13.2 8.3v16.5l-13.2 8.3l-13.2 -8.3v-16.5zM2274.7 228.2l13.2 8.3v16.5l-13.2 8.3l-13.2 -8.3v-16.5zM2036.8 277.8l13.2 8.3v16.5l-13.2 8.3l-13.2 -8.3v-16.5zM2274.7 277.8l13.2 8.3v16.5l-13.2 8.3l-13.2 -8.3v-16.5zM2301.1 277.8l13.2 8.3v16.5l-13.2 8.3l-13.2 -8.3v-16.5zM1931.1 327.4l13.2 8.3v16.5l-13.2 8.3l-13.2 -8.3v-16.5zM1983.9 327.4l13.2 8.3v16.5l-13.2 8.3l-13.2 -8.3v-16.5zM2010.4 327.4l13.2 8.3v16.5l-13.2 8.3l-13.2 -8.3v-16.5zM2010.4 377l13.2 8.3v16.5l-13.2 8.3l-13.2 -8.3v-16.5zM2274.7 377l13.2 8.3v16.5l-13.2 8.3l-13.2 -8.3v-16.5zM2116.1 426.6l13.2 8.3v16.5l-13.2 8.3l-13.2 -8.3v-16.5zM2169 426.6l13.2 8.3v16.5l-13.2 8.3l-13.2 -8.3v-16.5z"/>
<path fill="#8abfdd" stroke="#8abfdd" d="M2063.2 79.4l13.2 8.3v16.5l-13.2 8.3l-13.2 -8.3v-16.5zM2089.7 79.4l13.2 8.3v16.5l-13.2 8.3l-13.2 -8.3v-16.5zM2195.4 79.4l13.2 8.3v16.5l-13.2 8.3l-13.2 -8.3v-16.5zM1931.1 129l13.2 8.3v16.5l-13.2 8.3l-13.2 -8.3v-16.5zM1957.5 129l13.2 8.3v16.5l-13.2 8.3l-13.2 -8.3v-16.5zM2221.8 129l13.2 8.3v16.5l-13.2 8.3l-13.2 -8.3v-16.5zM1904.7 178.6l13.2 8.3v16.5l-13.2 8.3l-13.2 -8.3v-16.5zM1931.1 178.6l13.2 8.3v16.5l-13.2 8.3l-13.2 -8.3v-16.5zM1957.5 178.6l13.2 8.3v16.5l-13.2 8.3l-13.2 -8.3v-16.5zM1931.1 228.2l13.2 8.3v16.5l-13.2 8.3l-13.2 -8.3v-16.5zM2036.8 228.2l13.2 8.3v16.5l-13.2 8.3l-13.2 -8.3v-16.5zM2116.1 228.2l13.2 8.3v16.5l-13.2 8.3l-13.2 -8.3v-16.5zM1851.8 277.8l13.2 8.3v16.5l-13.2 8.3l-13.2 -8.3v-16.5zM1904.7 277.8l13.2 8.3v16.5l-13.2 8.3l-13.2 -8.3v-16.5zM2010.4 277.8l13.2 8.3v16.5l-13.2 8.3l-13.2 -8.3v-16.5zM2248.2 277.8l13.2 8.3v16.5l-13.2 8.3l-13.2 -8.3v-16.5zM2221.8 426.6l13.2 8.3v16.5l-13.2 8.3l-13.2 -8.3v-16.5z"/>
<path fill="#75b4d8" stroke="#75b4d8" d="M2116.1 79.4l13.2 8.3v16.5l-13.2 8.3l-13.2 -8.3v-16.5zM2195.4 129l13.2 8.3v16.5l-13.2 8.3l-13.2 -8.3v-16.5zM2274.7 129l13.2 8.3v16.5l-13.2 8.3l-13.2 -8.3v-16.5zM1851.8 178.6l13.2 8.3v16.5l-13.2 8.3l-13.2 -8.3v-16.5zM2248.2 178.6l13.2 8.3v16.5l-13.2 8.3l-13.2 -8.3v-16.5zM1878.2 277.8l13.2 8.3v16.5l-13.2 8.3l-13.2 -8.3v-16.5zM1957.5 277.8l13.2 8.3v16.5l-13.2 8.3l-13.2 -8.3v-16.5zM2063.2 377l13.2 8.3v16.5l-13.2 8.3l-13.2 -8.3v-16.5z"/>
<path fill="#63a8d3" stroke="#63a8d3" d="M2221.8 79.4l13.2 8.3v16.5l-13.2 8.3l-13.2 -8.3v-16.5zM2169 129l13.2 8.3v16.5l-13.2 8.3l-13.2 -8.3v-16.5zM2248.2 129l13.2 8.3v16.5l-13.2 8.3l-13.2 -8.3v-16.5zM2063.2 178.6l13.2 8.3v16.5l-13.2 8.3l-13.2 -8.3v-16.5zM2089.7 178.6l13.2 8.3v16.5l-13.2 8.3l-13.2 -8.3v-16.5zM1957.5 228.2l13.2 8.3v16.5l-13.2 8.3l-13.2 -8.3v-16.5zM1931.1 277.8l13.2 8.3v16.5l-13.2 8.3l-13.2 -8.3v-16.5zM2063.2 277.8l13.2 8.3v16.5l-13.2 8.3l-13.2 -8.3v-16.5zM2116.1 277.8l13.2 8.3v16.5l-13.2 8.3l-13.2 -8.3v-16.5zM2221.8 277.8l13.2 8.3v16.5l-13.2 8.3l-13.2 -8.3v-16.5zM1957.5 327.4l13.2 8.3v16.5l-13.2 8.3l-13.2 -8.3v-16.5zM2248.2 327.4l13.2 8.3v16.5l-13.2 8.3l-13.2 -8.3v-16.5zM2036.8 377l13.2 8.3v16.5l-13.2 8.3l-13.2 -8.3v-16.5zM2116.1 377l13.2 8.3v16.5l-13.2 8.3l-13.2 -8.3v-16.5zM2142.5 377l13.2 8.3v16.5l-13.2 8.3l-13.2 -8.3v-16.5zM2169 377l13.2 8.3v16.5l-13.2 8.3l-13.2 -8.3v-16.5zM2221.8 377l13.2 8.3v16.5l-13.2 8.3l-13.2 -8.3v-16.5z"/>
<path fill="#529dcc" stroke="#529dcc" d="M2169 79.4l13.2 8.3v16.5l-13.2 8.3l-13.2 -8.3v-16.5zM2116.1 129l13.2 8.3v16.5l-13.2 8.3l-13.2 -8.3v-16.5zM1983.9 178.6l13.2 8.3v16.5l-13.2 8.3l-13.2 -8.3v-16.5zM2036.8 178.6l13.2 8.3v16.5l-13.2 8.3l-13.2 -8.3v-16.5zM2036.8 327.4l13.2 8.3v16.5l-13.2 8.3l-13.2 -8.3v-16.5zM2221.8 327.4l13.2 8.3v16.5l-13.2 8.3l-13.2 -8.3v-16.5z"/>
<path fill="#4292c6" stroke="#4292c6" d="M2169 178.6l13.2 8.3v16.5l-13.2 8.3l-13.2 -8.3v-16.5zM1983.9 228.2l13.2 8.3v16.5l-13.2 8.3l-13.2 -8.3v-16.5zM1983.9 277.8l13.2 8.3v16.5l-13.2 8.3l-13.2 -8.3v-16.5zM2089.7 277.8l13.2 8.3v16.5l-13.2 8.3l-13.2 -8.3v-16.5zM2063.2 327.4l13.2 8.3v16.5l-13.2 8.3l-13.2 -8.3v-16.5zM2089.7 327.4l13.2 8.3v16.5l-13.2 8.3l-13.2 -8.3v-16.5zM2142.5 327.4l13.2 8.3v16.5l-13.2 8.3l-13.2 -8.3v-16.5zM2195.4 327.4l13.2 8.3v16.5l-13.2 8.3l-13.2 -8.3v-16.5zM2089.7 377l13.2 8.3v16.5l-13.2 8.3l-13.2 -8.3v-16.5z"/>
<path fill="#3585bf" stroke="#3585bf" d="M2142.5 79.4l13.2 8.3v16.5l-13.2 8.3l-13.2 -8.3v-16.5zM2142.5 178.6l13.2 8.3v16.5l-13.2 8.3l-13.2 -8.3v-16.5z"/>
<path fill="#2a7aba" stroke="#2a7aba" d="M2195.4 277.8l13.2 8.3v16.5l-13.2 8.3l-13.2 -8.3v-16.5zM2195.4 426.6l13.2 8.3v16.5l-13.2 8.3l-13.2 -8.3v-16.5z"/>
<path fill="#2070b4" stroke="#2070b4" d="M2195.4 178.6l13.2 8.3v16.5l-13.2 8.3l-13.2 -8.3v-16.5zM2063.2 228.2l13.2 8.3v16.5l-13.2 8.3l-13.2 -8.3v-16.5zM2089.7 228.2l13.2 8.3v16.5l-13.2 8.3l-13.2 -8.3v-16.5zM2248.2 228.2l13.2 8.3v16.5l-13.2 8.3l-13.2 -8.3v-16.5zM2195.4 377l13.2 8.3v16.5l-13.2 8.3l-13.2 -8.3v-16.5z"/>
<path fill="#1967ad" stroke="#1967ad" d="M2116.1 178.6l13.2 8.3v16.5l-13.2 8.3l-13.2 -8.3v-16.5zM2169 277.8l13.2 8.3v16.5l-13.2 8.3l-13.2 -8.3v-16.5z"/>
<path fill="#0f5aa3" stroke="#0f5aa3" d="M2142.5 228.2l13.2 8.3v16.5l-13.2 8.3l-13.2 -8.3v-16.5zM2195.4 228.2l13.2 8.3v16.5l-13.2 8.3l-13.2 -8.3v-16.5zM2221.8 228.2l13.2 8.3v16.5l-13.2 8.3l-13.2 -8.3v-16.5zM2169 327.4l13.2 8.3v16.5l-13.2 8.3l-13.2 -8.3v-16.5z"/>
<path fill="#084d96" stroke="#084d96" d="M2169 228.2l13.2 8.3v16.5l-13.2 8.3l-13.2 -8.3v-16.5zM2142.5 277.8l13.2 8.3v16.5l-13.2 8.3l-13.2 -8.3v-16.5z"/>
<path fill="#08306b" stroke="#08306b" d="M2116.1 327.4l13.2 8.3v16.5l-13.2 8.3l-13.2 -8.3v-16.5z"/>
</g>
<path class="s" d="M1791.6 386.9h14.4M1916.1 510.3v-14.4M1791.6 263.5h14.4M2040.6 510.3v-14.4M1791.6 140.1h14.4M2165.1 510.3v-14.4"/>
<g clip-path="url(#c2)" class="d">
<path d="M1791.6 263.5H2289.6"/>
<path d="M2040.6 510.3V16.7"/>
<path d="M2165.1 263.5A124.5 123.4 0 1 0 1916.1 263.5A124.5 123.4 0 1 0 2165.1 263.5"/>
<path d="M2289.6 263.5A249 246.8 0 1 0 1791.6 263.5A249 246.8 0 1 0 2289.6 263.5"/>
</g>
<rect class="s" x="1791.6" y="16.7" width="498" height="493.6"/>
<text class="m" transform="translate(1787 75) scale(1.22 1.16)">(</text>
<text class="m" x="1822.2" y="71">c</text>
<text class="m" transform="translate(1849.1 75) scale(1.22 1.16)">)</text>
<rect x="2321.7" y="16.7" width="24.4" height="493.6" fill="url(#cb)"/>
<text class="t" transform="translate(2373.6 525.3) scale(0.962 1)">0.00%</text>
<text class="t" transform="translate(2373.6 401.9) scale(0.962 1)">0.20%</text>
<text class="t" transform="translate(2373.6 278.5) scale(0.962 1)">0.40%</text>
<text class="t" transform="translate(2373.6 155.1) scale(0.962 1)">0.60%</text>
<text class="t" transform="translate(2373.6 31.7) scale(0.962 1)">0.80%</text>
<path class="s" d="M2346.1 510.3h14.4M2346.1 386.9h14.4M2346.1 263.5h14.4M2346.1 140.1h14.4M2346.1 16.7h14.4"/>
<rect class="s" x="2321.7" y="16.7" width="24.4" height="493.6"/>
</g>
<g id="panel-d">
<rect x="294.6" y="609" width="498" height="493.6" fill="#f7fbff"/>
<g clip-path="url(#c3)" stroke-width="1.6" stroke-linejoin="miter">
<path fill="#eff6fc" stroke="#eff6fc" d="M284.2 593.2l15.8 8.2v16.3l-15.8 8.2l-15.8 -8.2v-16.3zM315.8 593.2l15.8 8.2v16.3l-15.8 8.2l-15.8 -8.2v-16.3zM347.2 593.2l15.8 8.2v16.3l-15.8 8.2l-15.8 -8.2v-16.3zM378.8 593.2l15.8 8.2v16.3l-15.8 8.2l-15.8 -8.2v-16.3zM410.2 593.2l15.8 8.2v16.3l-15.8 8.2l-15.8 -8.2v-16.3zM441.8 593.2l15.8 8.2v16.3l-15.8 8.2l-15.8 -8.2v-16.3zM473.2 593.2l15.8 8.2v16.3l-15.8 8.2l-15.8 -8.2v-16.3zM504.8 593.2l15.8 8.2v16.3l-15.8 8.2l-15.8 -8.2v-16.3zM284.2 642.2l15.8 8.2v16.3l-15.8 8.2l-15.8 -8.2v-16.3zM315.8 642.2l15.8 8.2v16.3l-15.8 8.2l-15.8 -8.2v-16.3zM347.2 642.2l15.8 8.2v16.3l-15.8 8.2l-15.8 -8.2v-16.3zM378.8 642.2l15.8 8.2v16.3l-15.8 8.2l-15.8 -8.2v-16.3zM410.2 642.2l15.8 8.2v16.3l-15.8 8.2l-15.8 -8.2v-16.3zM284.2 691.2l15.8 8.2v16.3l-15.8 8.2l-15.8 -8.2v-16.3zM315.8 691.2l15.8 8.2v16.3l-15.8 8.2l-15.8 -8.2v-16.3zM347.2 691.2l15.8 8.2v16.3l-15.8 8.2l-15.8 -8.2v-16.3zM284.2 936.2l15.8 8.2v16.3l-15.8 8.2l-15.8 -8.2v-16.3zM315.8 936.2l15.8 8.2v16.3l-15.8 8.2l-15.8 -8.2v-16.3zM347.2 936.2l15.8 8.2v16.3l-15.8 8.2l-15.8 -8.2v-16.3zM284.2 985.2l15.8 8.2v16.3l-15.8 8.2l-15.8 -8.2v-16.3zM315.8 985.2l15.8 8.2v16.3l-15.8 8.2l-15.8 -8.2v-16.3zM347.2 985.2l15.8 8.2v16.3l-15.8 8.2l-15.8 -8.2v-16.3zM378.8 985.2l15.8 8.2v16.3l-15.8 8.2l-15.8 -8.2v-16.3zM284.2 1034.2l15.8 8.2v16.3l-15.8 8.2l-15.8 -8.2v-16.3zM315.8 1034.2l15.8 8.2v16.3l-15.8 8.2l-15.8 -8.2v-16.3zM347.2 1034.2l15.8 8.2v16.3l-15.8 8.2l-15.8 -8.2v-16.3zM378.8 1034.2l15.8 8.2v16.3l-15.8 8.2l-15.8 -8.2v-16.3zM410.2 1034.2l15.8 8.2v16.3l-15.8 8.2l-15.8 -8.2v-16.3zM284.2 1083.2l15.8 8.2v16.3l-15.8 8.2l-15.8 -8.2v-16.3zM315.8 1083.2l15.8 8.2v16.3l-15.8 8.2l-15.8 -8.2v-16.3zM347.2 1083.2l15.8 8.2v16.3l-15.8 8.2l-15.8 -8.2v-16.3zM378.8 1083.2l15.8 8.2v16.3l-15.8 8.2l-15.8 -8.2v-16.3zM410.2 1083.2l15.8 8.2v16.3l-15.8 8.2l-15.8 -8.2v-16.3zM441.8 1083.2l15.8 8.2v16.3l-15.8 8.2l-15.8 -8.2v-16.3zM473.2 1083.2l15.8 8.2v16.3l-15.8 8.2l-15.8 -8.2v-16.3zM504.8 1083.2l15.8 8.2v16.3l-15.8 8.2l-15.8 -8.2v-16.3zM536.2 1083.2l15.8 8.2v16.3l-15.8 8.2l-15.8 -8.2v-16.3zM567.8 1083.2l15.8 8.2v16.3l-15.8 8.2l-15.8 -8.2v-16.3zM599.2 1083.2l15.8 8.2v16.3l-15.8 8.2l-15.8 -8.2v-16.3zM630.8 1083.2l15.8 8.2v16.3l-15.8 8.2l-15.8 -8.2v-16.3zM756.8 1083.2l15.8 8.2v16.3l-15.8 8.2l-15.8 -8.2v-16.3zM788.2 1083.2l15.8 8.2v16.3l-15.8 8.2l-15.8 -8.2v-16.3z"/>
<path fill="#e3eef9" stroke="#e3eef9" d="M536.2 593.2l15.8 8.2v16.3l-15.8 8.2l-15.8 -8.2v-16.3zM567.8 593.2l15.8 8.2v16.3l-15.8 8.2l-15.8 -8.2v-16.3zM725.2 593.2l15.8 8.2v16.3l-15.8 8.2l-15.8 -8.2v-16.3zM756.8 593.2l15.8 8.2v16.3l-15.8 8.2l-15.8 -8.2v-16.3zM788.2 593.2l15.8 8.2v16.3l-15.8 8.2l-15.8 -8.2v-16.3zM441.8 642.2l15.8 8.2v16.3l-15.8 8.2l-15.8 -8.2v-16.3zM473.2 642.2l15.8 8.2v16.3l-15.8 8.2l-15.8 -8.2v-16.3zM504.8 642.2l15.8 8.2v16.3l-15.8 8.2l-15.8 -8.2v-16.3zM788.2 642.2l15.8 8.2v16.3l-15.8 8.2l-15.8 -8.2v-16.3zM378.8 691.2l15.8 8.2v16.3l-15.8 8.2l-15.8 -8.2v-16.3zM410.2 691.2l15.8 8.2v16.3l-15.8 8.2l-15.8 -8.2v-16.3zM284.2 740.2l15.8 8.2v16.3l-15.8 8.2l-15.8 -8.2v-16.3zM315.8 740.2l15.8 8.2v16.3l-15.8 8.2l-15.8 -8.2v-16.3zM284.2 838.2l15.8 8.2v16.3l-15.8 8.2l-15.8 -8.2v-16.3zM284.2 887.2l15.8 8.2v16.3l-15.8 8.2l-15.8 -8.2v-16.3zM315.8 887.2l15.8 8.2v16.3l-15.8 8.2l-15.8 -8.2v-16.3zM378.8 936.2l15.8 8.2v16.3l-15.8 8.2l-15.8 -8.2v-16.3zM410.2 936.2l15.8 8.2v16.3l-15.8 8.2l-15.8 -8.2v-16.3zM410.2 985.2l15.8 8.2v16.3l-15.8 8.2l-15.8 -8.2v-16.3zM441.8 985.2l15.8 8.2v16.3l-15.8 8.2l-15.8 -8.2v-16.3zM441.8 1034.2l15.8 8.2v16.3l-15.8 8.2l-15.8 -8.2v-16.3zM473.2 1034.2l15.8 8.2v16.3l-15.8 8.2l-15.8 -8.2v-16.3zM504.8 1034.2l15.8 8.2v16.3l-15.8 8.2l-15.8 -8.2v-16.3zM567.8 1034.2l15.8 8.2v16.3l-15.8 8.2l-15.8 -8.2v-16.3zM599.2 1034.2l15.8 8.2v16.3l-15.8 8.2l-15.8 -8.2v-16.3zM630.8 1034.2l15.8 8.2v16.3l-15.8 8.2l-15.8 -8.2v-16.3zM662.2 1083.2l15.8 8.2v16.3l-15.8 8.2l-15.8 -8.2v-16.3zM693.8 1083.2l15.8 8.2v16.3l-15.8 8.2l-15.8 -8.2v-16.3zM725.2 1083.2l15.8 8.2v16.3l-15.8 8.2l-15.8 -8.2v-16.3z"/>
<path fill="#d3e4f3" stroke="#d3e4f3" d="M599.2 593.2l15.8 8.2v16.3l-15.8 8.2l-15.8 -8.2v-16.3zM630.8 593.2l15.8 8.2v16.3l-15.8 8.2l-15.8 -8.2v-16.3zM662.2 593.2l15.8 8.2v16.3l-15.8 8.2l-15.8 -8.2v-16.3zM693.8 593.2l15.8 8.2v16.3l-15.8 8.2l-15.8 -8.2v-16.3zM599.2 642.2l15.8 8.2v16.3l-15.8 8.2l-15.8 -8.2v-16.3zM630.8 642.2l15.8 8.2v16.3l-15.8 8.2l-15.8 -8.2v-16.3zM756.8 642.2l15.8 8.2v16.3l-15.8 8.2l-15.8 -8.2v-16.3zM536.2 691.2l15.8 8.2v16.3l-15.8 8.2l-15.8 -8.2v-16.3zM756.8 691.2l15.8 8.2v16.3l-15.8 8.2l-15.8 -8.2v-16.3zM788.2 691.2l15.8 8.2v16.3l-15.8 8.2l-15.8 -8.2v-16.3zM347.2 740.2l15.8 8.2v16.3l-15.8 8.2l-15.8 -8.2v-16.3zM378.8 740.2l15.8 8.2v16.3l-15.8 8.2l-15.8 -8.2v-16.3zM410.2 740.2l15.8 8.2v16.3l-15.8 8.2l-15.8 -8.2v-16.3zM284.2 789.2l15.8 8.2v16.3l-15.8 8.2l-15.8 -8.2v-16.3zM315.8 789.2l15.8 8.2v16.3l-15.8 8.2l-15.8 -8.2v-16.3zM347.2 789.2l15.8 8.2v16.3l-15.8 8.2l-15.8 -8.2v-16.3zM315.8 838.2l15.8 8.2v16.3l-15.8 8.2l-15.8 -8.2v-16.3zM347.2 838.2l15.8 8.2v16.3l-15.8 8.2l-15.8 -8.2v-16.3zM378.8 838.2l15.8 8.2v16.3l-15.8 8.2l-15.8 -8.2v-16.3zM410.2 838.2l15.8 8.2v16.3l-15.8 8.2l-15.8 -8.2v-16.3zM347.2 887.2l15.8 8.2v16.3l-15.8 8.2l-15.8 -8.2v-16.3zM378.8 887.2l15.8 8.2v16.3l-15.8 8.2l-15.8 -8.2v-16.3zM788.2 887.2l15.8 8.2v16.3l-15.8 8.2l-15.8 -8.2v-16.3zM473.2 936.2l15.8 8.2v16.3l-15.8 8.2l-15.8 -8.2v-16.3zM788.2 936.2l15.8 8.2v16.3l-15.8 8.2l-15.8 -8.2v-16.3zM473.2 985.2l15.8 8.2v16.3l-15.8 8.2l-15.8 -8.2v-16.3zM536.2 985.2l15.8 8.2v16.3l-15.8 8.2l-15.8 -8.2v-16.3zM788.2 985.2l15.8 8.2v16.3l-15.8 8.2l-15.8 -8.2v-16.3zM788.2 1034.2l15.8 8.2v16.3l-15.8 8.2l-15.8 -8.2v-16.3z"/>
<path fill="#c6dbef" stroke="#c6dbef" d="M536.2 642.2l15.8 8.2v16.3l-15.8 8.2l-15.8 -8.2v-16.3zM693.8 642.2l15.8 8.2v16.3l-15.8 8.2l-15.8 -8.2v-16.3zM725.2 642.2l15.8 8.2v16.3l-15.8 8.2l-15.8 -8.2v-16.3zM441.8 691.2l15.8 8.2v16.3l-15.8 8.2l-15.8 -8.2v-16.3zM504.8 691.2l15.8 8.2v16.3l-15.8 8.2l-15.8 -8.2v-16.3zM725.2 691.2l15.8 8.2v16.3l-15.8 8.2l-15.8 -8.2v-16.3zM441.8 740.2l15.8 8.2v16.3l-15.8 8.2l-15.8 -8.2v-16.3zM473.2 740.2l15.8 8.2v16.3l-15.8 8.2l-15.8 -8.2v-16.3zM378.8 789.2l15.8 8.2v16.3l-15.8 8.2l-15.8 -8.2v-16.3zM441.8 838.2l15.8 8.2v16.3l-15.8 8.2l-15.8 -8.2v-16.3zM536.2 838.2l15.8 8.2v16.3l-15.8 8.2l-15.8 -8.2v-16.3zM410.2 887.2l15.8 8.2v16.3l-15.8 8.2l-15.8 -8.2v-16.3zM504.8 887.2l15.8 8.2v16.3l-15.8 8.2l-15.8 -8.2v-16.3zM536.2 936.2l15.8 8.2v16.3l-15.8 8.2l-15.8 -8.2v-16.3zM567.8 936.2l15.8 8.2v16.3l-15.8 8.2l-15.8 -8.2v-16.3zM567.8 985.2l15.8 8.2v16.3l-15.8 8.2l-15.8 -8.2v-16.3zM756.8 985.2l15.8 8.2v16.3l-15.8 8.2l-15.8 -8.2v-16.3zM536.2 1034.2l15.8 8.2v16.3l-15.8 8.2l-15.8 -8.2v-16.3zM662.2 1034.2l15.8 8.2v16.3l-15.8 8.2l-15.8 -8.2v-16.3z"/>
<path fill="#b1d2e8" stroke="#b1d2e8" d="M567.8 642.2l15.8 8.2v16.3l-15.8 8.2l-15.8 -8.2v-16.3zM788.2 740.2l15.8 8.2v16.3l-15.8 8.2l-15.8 -8.2v-16.3zM410.2 789.2l15.8 8.2v16.3l-15.8 8.2l-15.8 -8.2v-16.3zM441.8 789.2l15.8 8.2v16.3l-15.8 8.2l-15.8 -8.2v-16.3zM473.2 789.2l15.8 8.2v16.3l-15.8 8.2l-15.8 -8.2v-16.3zM536.2 789.2l15.8 8.2v16.3l-15.8 8.2l-15.8 -8.2v-16.3zM788.2 789.2l15.8 8.2v16.3l-15.8 8.2l-15.8 -8.2v-16.3zM473.2 838.2l15.8 8.2v16.3l-15.8 8.2l-15.8 -8.2v-16.3zM788.2 838.2l15.8 8.2v16.3l-15.8 8.2l-15.8 -8.2v-16.3zM536.2 887.2l15.8 8.2v16.3l-15.8 8.2l-15.8 -8.2v-16.3zM441.8 936.2l15.8 8.2v16.3l-15.8 8.2l-15.8 -8.2v-16.3zM504.8 936.2l15.8 8.2v16.3l-15.8 8.2l-15.8 -8.2v-16.3z"/>
<path fill="#9ecae1" stroke="#9ecae1" d="M473.2 691.2l15.8 8.2v16.3l-15.8 8.2l-15.8 -8.2v-16.3zM567.8 691.2l15.8 8.2v16.3l-15.8 8.2l-15.8 -8.2v-16.3zM599.2 691.2l15.8 8.2v16.3l-15.8 8.2l-15.8 -8.2v-16.3zM504.8 740.2l15.8 8.2v16.3l-15.8 8.2l-15.8 -8.2v-16.3zM693.8 740.2l15.8 8.2v16.3l-15.8 8.2l-15.8 -8.2v-16.3zM756.8 789.2l15.8 8.2v16.3l-15.8 8.2l-15.8 -8.2v-16.3zM504.8 838.2l15.8 8.2v16.3l-15.8 8.2l-15.8 -8.2v-16.3zM567.8 838.2l15.8 8.2v16.3l-15.8 8.2l-15.8 -8.2v-16.3zM599.2 838.2l15.8 8.2v16.3l-15.8 8.2l-15.8 -8.2v-16.3zM756.8 838.2l15.8 8.2v16.3l-15.8 8.2l-15.8 -8.2v-16.3zM441.8 887.2l15.8 8.2v16.3l-15.8 8.2l-15.8 -8.2v-16.3zM567.8 887.2l15.8 8.2v16.3l-15.8 8.2l-15.8 -8.2v-16.3zM599.2 985.2l15.8 8.2v16.3l-15.8 8.2l-15.8 -8.2v-16.3zM693.8 985.2l15.8 8.2v16.3l-15.8 8.2l-15.8 -8.2v-16.3zM693.8 1034.2l15.8 8.2v16.3l-15.8 8.2l-15.8 -8.2v-16.3zM725.2 1034.2l15.8 8.2v16.3l-15.8 8.2l-15.8 -8.2v-16.3z"/>
<path fill="#8abfdd" stroke="#8abfdd" d="M567.8 789.2l15.8 8.2v16.3l-15.8 8.2l-15.8 -8.2v-16.3zM725.2 789.2l15.8 8.2v16.3l-15.8 8.2l-15.8 -8.2v-16.3zM473.2 887.2l15.8 8.2v16.3l-15.8 8.2l-15.8 -8.2v-16.3zM756.8 887.2l15.8 8.2v16.3l-15.8 8.2l-15.8 -8.2v-16.3z"/>
<path fill="#75b4d8" stroke="#75b4d8" d="M662.2 642.2l15.8 8.2v16.3l-15.8 8.2l-15.8 -8.2v-16.3zM630.8 691.2l15.8 8.2v16.3l-15.8 8.2l-15.8 -8.2v-16.3zM693.8 691.2l15.8 8.2v16.3l-15.8 8.2l-15.8 -8.2v-16.3zM756.8 740.2l15.8 8.2v16.3l-15.8 8.2l-15.8 -8.2v-16.3zM599.2 789.2l15.8 8.2v16.3l-15.8 8.2l-15.8 -8.2v-16.3zM630.8 838.2l15.8 8.2v16.3l-15.8 8.2l-15.8 -8.2v-16.3zM599.2 936.2l15.8 8.2v16.3l-15.8 8.2l-15.8 -8.2v-16.3zM725.2 936.2l15.8 8.2v16.3l-15.8 8.2l-15.8 -8.2v-16.3zM756.8 936.2l15.8 8.2v16.3l-15.8 8.2l-15.8 -8.2v-16.3zM630.8 985.2l15.8 8.2v16.3l-15.8 8.2l-15.8 -8.2v-16.3zM756.8 1034.2l15.8 8.2v16.3l-15.8 8.2l-15.8 -8.2v-16.3z"/>
<path fill="#63a8d3" stroke="#63a8d3" d="M662.2 691.2l15.8 8.2v16.3l-15.8 8.2l-15.8 -8.2v-16.3zM536.2 740.2l15.8 8.2v16.3l-15.8 8.2l-15.8 -8.2v-16.3zM567.8 740.2l15.8 8.2v16.3l-15.8 8.2l-15.8 -8.2v-16.3zM725.2 740.2l15.8 8.2v16.3l-15.8 8.2l-15.8 -8.2v-16.3zM504.8 789.2l15.8 8.2v16.3l-15.8 8.2l-15.8 -8.2v-16.3zM599.2 887.2l15.8 8.2v16.3l-15.8 8.2l-15.8 -8.2v-16.3zM725.2 887.2l15.8 8.2v16.3l-15.8 8.2l-15.8 -8.2v-16.3zM662.2 936.2l15.8 8.2v16.3l-15.8 8.2l-15.8 -8.2v-16.3zM504.8 985.2l15.8 8.2v16.3l-15.8 8.2l-15.8 -8.2v-16.3zM662.2 985.2l15.8 8.2v16.3l-15.8 8.2l-15.8 -8.2v-16.3zM725.2 985.2l15.8 8.2v16.3l-15.8 8.2l-15.8 -8.2v-16.3z"/>
<path fill="#529dcc" stroke="#529dcc" d="M599.2 740.2l15.8 8.2v16.3l-15.8 8.2l-15.8 -8.2v-16.3zM630.8 740.2l15.8 8.2v16.3l-15.8 8.2l-15.8 -8.2v-16.3zM693.8 789.2l15.8 8.2v16.3l-15.8 8.2l-15.8 -8.2v-16.3zM630.8 887.2l15.8 8.2v16.3l-15.8 8.2l-15.8 -8.2v-16.3z"/>
<path fill="#4292c6" stroke="#4292c6" d="M662.2 740.2l15.8 8.2v16.3l-15.8 8.2l-15.8 -8.2v-16.3zM662.2 838.2l15.8 8.2v16.3l-15.8 8.2l-15.8 -8.2v-16.3z"/>
<path fill="#3585bf" stroke="#3585bf" d="M662.2 789.2l15.8 8.2v16.3l-15.8 8.2l-15.8 -8.2v-16.3zM693.8 838.2l15.8 8.2v16.3l-15.8 8.2l-15.8 -8.2v-16.3zM662.2 887.2l15.8 8.2v16.3l-15.8 8.2l-15.8 -8.2v-16.3zM630.8 936.2l15.8 8.2v16.3l-15.8 8.2l-15.8 -8.2v-16.3z"/>
<path fill="#2a7aba" stroke="#2a7aba" d="M630.8 789.2l15.8 8.2v16.3l-15.8 8.2l-15.8 -8.2v-16.3zM693.8 936.2l15.8 8.2v16.3l-15.8 8.2l-15.8 -8.2v-16.3z"/>
<path fill="#2070b4" stroke="#2070b4" d="M725.2 838.2l15.8 8.2v16.3l-15.8 8.2l-15.8 -8.2v-16.3z"/>
<path fill="#084d96" stroke="#084d96" d="M693.8 887.2l15.8 8.2v16.3l-15.8 8.2l-15.8 -8.2v-16.3z"/>
<path fill="#eff6fc" stroke="#eff6fc" d="M300 617.7l15.8 8.2v16.3l-15.8 8.2l-15.8 -8.2v-16.3zM331.5 617.7l15.8 8.2v16.3l-15.8 8.2l-15.8 -8.2v-16.3zM363 617.7l15.8 8.2v16.3l-15.8 8.2l-15.8 -8.2v-16.3zM394.5 617.7l15.8 8.2v16.3l-15.8 8.2l-15.8 -8.2v-16.3zM426 617.7l15.8 8.2v16.3l-15.8 8.2l-15.8 -8.2v-16.3zM457.5 617.7l15.8 8.2v16.3l-15.8 8.2l-15.8 -8.2v-16.3zM300 666.7l15.8 8.2v16.3l-15.8 8.2l-15.8 -8.2v-16.3zM331.5 666.7l15.8 8.2v16.3l-15.8 8.2l-15.8 -8.2v-16.3zM363 666.7l15.8 8.2v16.3l-15.8 8.2l-15.8 -8.2v-16.3zM394.5 666.7l15.8 8.2v16.3l-15.8 8.2l-15.8 -8.2v-16.3zM300 715.7l15.8 8.2v16.3l-15.8 8.2l-15.8 -8.2v-16.3zM300 911.7l15.8 8.2v16.3l-15.8 8.2l-15.8 -8.2v-16.3zM331.5 911.7l15.8 8.2v16.3l-15.8 8.2l-15.8 -8.2v-16.3zM300 960.7l15.8 8.2v16.3l-15.8 8.2l-15.8 -8.2v-16.3zM331.5 960.7l15.8 8.2v16.3l-15.8 8.2l-15.8 -8.2v-16.3zM363 960.7l15.8 8.2v16.3l-15.8 8.2l-15.8 -8.2v-16.3zM300 1009.7l15.8 8.2v16.3l-15.8 8.2l-15.8 -8.2v-16.3zM331.5 1009.7l15.8 8.2v16.3l-15.8 8.2l-15.8 -8.2v-16.3zM363 1009.7l15.8 8.2v16.3l-15.8 8.2l-15.8 -8.2v-16.3zM394.5 1009.7l15.8 8.2v16.3l-15.8 8.2l-15.8 -8.2v-16.3zM300 1058.7l15.8 8.2v16.3l-15.8 8.2l-15.8 -8.2v-16.3zM331.5 1058.7l15.8 8.2v16.3l-15.8 8.2l-15.8 -8.2v-16.3zM363 1058.7l15.8 8.2v16.3l-15.8 8.2l-15.8 -8.2v-16.3zM394.5 1058.7l15.8 8.2v16.3l-15.8 8.2l-15.8 -8.2v-16.3zM426 1058.7l15.8 8.2v16.3l-15.8 8.2l-15.8 -8.2v-16.3zM457.5 1058.7l15.8 8.2v16.3l-15.8 8.2l-15.8 -8.2v-16.3zM489 1058.7l15.8 8.2v16.3l-15.8 8.2l-15.8 -8.2v-16.3zM552 1058.7l15.8 8.2v16.3l-15.8 8.2l-15.8 -8.2v-16.3zM583.5 1058.7l15.8 8.2v16.3l-15.8 8.2l-15.8 -8.2v-16.3zM615 1058.7l15.8 8.2v16.3l-15.8 8.2l-15.8 -8.2v-16.3z"/>
<path fill="#e3eef9" stroke="#e3eef9" d="M489 617.7l15.8 8.2v16.3l-15.8 8.2l-15.8 -8.2v-16.3zM520.5 617.7l15.8 8.2v16.3l-15.8 8.2l-15.8 -8.2v-16.3zM741 617.7l15.8 8.2v16.3l-15.8 8.2l-15.8 -8.2v-16.3zM772.5 617.7l15.8 8.2v16.3l-15.8 8.2l-15.8 -8.2v-16.3zM804 617.7l15.8 8.2v16.3l-15.8 8.2l-15.8 -8.2v-16.3zM457.5 666.7l15.8 8.2v16.3l-15.8 8.2l-15.8 -8.2v-16.3zM520.5 666.7l15.8 8.2v16.3l-15.8 8.2l-15.8 -8.2v-16.3zM772.5 666.7l15.8 8.2v16.3l-15.8 8.2l-15.8 -8.2v-16.3zM804 666.7l15.8 8.2v16.3l-15.8 8.2l-15.8 -8.2v-16.3zM331.5 715.7l15.8 8.2v16.3l-15.8 8.2l-15.8 -8.2v-16.3zM300 764.7l15.8 8.2v16.3l-15.8 8.2l-15.8 -8.2v-16.3zM300 813.7l15.8 8.2v16.3l-15.8 8.2l-15.8 -8.2v-16.3zM300 862.7l15.8 8.2v16.3l-15.8 8.2l-15.8 -8.2v-16.3zM331.5 862.7l15.8 8.2v16.3l-15.8 8.2l-15.8 -8.2v-16.3zM363 911.7l15.8 8.2v16.3l-15.8 8.2l-15.8 -8.2v-16.3zM394.5 911.7l15.8 8.2v16.3l-15.8 8.2l-15.8 -8.2v-16.3zM804 911.7l15.8 8.2v16.3l-15.8 8.2l-15.8 -8.2v-16.3zM394.5 960.7l15.8 8.2v16.3l-15.8 8.2l-15.8 -8.2v-16.3zM426 1009.7l15.8 8.2v16.3l-15.8 8.2l-15.8 -8.2v-16.3zM457.5 1009.7l15.8 8.2v16.3l-15.8 8.2l-15.8 -8.2v-16.3zM804 1009.7l15.8 8.2v16.3l-15.8 8.2l-15.8 -8.2v-16.3zM520.5 1058.7l15.8 8.2v16.3l-15.8 8.2l-15.8 -8.2v-16.3zM646.5 1058.7l15.8 8.2v16.3l-15.8 8.2l-15.8 -8.2v-16.3zM804 1058.7l15.8 8.2v16.3l-15.8 8.2l-15.8 -8.2v-16.3z"/>
<path fill="#d3e4f3" stroke="#d3e4f3" d="M552 617.7l15.8 8.2v16.3l-15.8 8.2l-15.8 -8.2v-16.3zM583.5 617.7l15.8 8.2v16.3l-15.8 8.2l-15.8 -8.2v-16.3zM646.5 617.7l15.8 8.2v16.3l-15.8 8.2l-15.8 -8.2v-16.3zM678 617.7l15.8 8.2v16.3l-15.8 8.2l-15.8 -8.2v-16.3zM709.5 617.7l15.8 8.2v16.3l-15.8 8.2l-15.8 -8.2v-16.3zM426 666.7l15.8 8.2v16.3l-15.8 8.2l-15.8 -8.2v-16.3zM489 666.7l15.8 8.2v16.3l-15.8 8.2l-15.8 -8.2v-16.3zM741 666.7l15.8 8.2v16.3l-15.8 8.2l-15.8 -8.2v-16.3zM363 715.7l15.8 8.2v16.3l-15.8 8.2l-15.8 -8.2v-16.3zM394.5 715.7l15.8 8.2v16.3l-15.8 8.2l-15.8 -8.2v-16.3zM426 715.7l15.8 8.2v16.3l-15.8 8.2l-15.8 -8.2v-16.3zM331.5 813.7l15.8 8.2v16.3l-15.8 8.2l-15.8 -8.2v-16.3zM363 813.7l15.8 8.2v16.3l-15.8 8.2l-15.8 -8.2v-16.3zM363 862.7l15.8 8.2v16.3l-15.8 8.2l-15.8 -8.2v-16.3zM804 862.7l15.8 8.2v16.3l-15.8 8.2l-15.8 -8.2v-16.3zM426 960.7l15.8 8.2v16.3l-15.8 8.2l-15.8 -8.2v-16.3zM804 960.7l15.8 8.2v16.3l-15.8 8.2l-15.8 -8.2v-16.3zM552 1009.7l15.8 8.2v16.3l-15.8 8.2l-15.8 -8.2v-16.3zM583.5 1009.7l15.8 8.2v16.3l-15.8 8.2l-15.8 -8.2v-16.3zM772.5 1058.7l15.8 8.2v16.3l-15.8 8.2l-15.8 -8.2v-16.3z"/>
<path fill="#c6dbef" stroke="#c6dbef" d="M615 617.7l15.8 8.2v16.3l-15.8 8.2l-15.8 -8.2v-16.3zM552 666.7l15.8 8.2v16.3l-15.8 8.2l-15.8 -8.2v-16.3zM457.5 715.7l15.8 8.2v16.3l-15.8 8.2l-15.8 -8.2v-16.3zM804 715.7l15.8 8.2v16.3l-15.8 8.2l-15.8 -8.2v-16.3zM331.5 764.7l15.8 8.2v16.3l-15.8 8.2l-15.8 -8.2v-16.3zM520.5 764.7l15.8 8.2v16.3l-15.8 8.2l-15.8 -8.2v-16.3zM804 764.7l15.8 8.2v16.3l-15.8 8.2l-15.8 -8.2v-16.3zM394.5 813.7l15.8 8.2v16.3l-15.8 8.2l-15.8 -8.2v-16.3zM804 813.7l15.8 8.2v16.3l-15.8 8.2l-15.8 -8.2v-16.3zM394.5 862.7l15.8 8.2v16.3l-15.8 8.2l-15.8 -8.2v-16.3zM772.5 862.7l15.8 8.2v16.3l-15.8 8.2l-15.8 -8.2v-16.3zM457.5 911.7l15.8 8.2v16.3l-15.8 8.2l-15.8 -8.2v-16.3zM489 911.7l15.8 8.2v16.3l-15.8 8.2l-15.8 -8.2v-16.3zM772.5 911.7l15.8 8.2v16.3l-15.8 8.2l-15.8 -8.2v-16.3zM457.5 960.7l15.8 8.2v16.3l-15.8 8.2l-15.8 -8.2v-16.3zM772.5 960.7l15.8 8.2v16.3l-15.8 8.2l-15.8 -8.2v-16.3zM615 1009.7l15.8 8.2v16.3l-15.8 8.2l-15.8 -8.2v-16.3zM772.5 1009.7l15.8 8.2v16.3l-15.8 8.2l-15.8 -8.2v-16.3zM678 1058.7l15.8 8.2v16.3l-15.8 8.2l-15.8 -8.2v-16.3zM741 1058.7l15.8 8.2v16.3l-15.8 8.2l-15.8 -8.2v-16.3z"/>
<path fill="#b1d2e8" stroke="#b1d2e8" d="M678 666.7l15.8 8.2v16.3l-15.8 8.2l-15.8 -8.2v-16.3zM552 715.7l15.8 8.2v16.3l-15.8 8.2l-15.8 -8.2v-16.3zM741 715.7l15.8 8.2v16.3l-15.8 8.2l-15.8 -8.2v-16.3zM772.5 715.7l15.8 8.2v16.3l-15.8 8.2l-15.8 -8.2v-16.3zM426 764.7l15.8 8.2v16.3l-15.8 8.2l-15.8 -8.2v-16.3zM457.5 764.7l15.8 8.2v16.3l-15.8 8.2l-15.8 -8.2v-16.3zM489 764.7l15.8 8.2v16.3l-15.8 8.2l-15.8 -8.2v-16.3zM772.5 764.7l15.8 8.2v16.3l-15.8 8.2l-15.8 -8.2v-16.3zM772.5 813.7l15.8 8.2v16.3l-15.8 8.2l-15.8 -8.2v-16.3zM426 911.7l15.8 8.2v16.3l-15.8 8.2l-15.8 -8.2v-16.3zM520.5 911.7l15.8 8.2v16.3l-15.8 8.2l-15.8 -8.2v-16.3zM709.5 960.7l15.8 8.2v16.3l-15.8 8.2l-15.8 -8.2v-16.3zM520.5 1009.7l15.8 8.2v16.3l-15.8 8.2l-15.8 -8.2v-16.3zM709.5 1058.7l15.8 8.2v16.3l-15.8 8.2l-15.8 -8.2v-16.3z"/>
<path fill="#9ecae1" stroke="#9ecae1" d="M583.5 666.7l15.8 8.2v16.3l-15.8 8.2l-15.8 -8.2v-16.3zM709.5 666.7l15.8 8.2v16.3l-15.8 8.2l-15.8 -8.2v-16.3zM489 715.7l15.8 8.2v16.3l-15.8 8.2l-15.8 -8.2v-16.3zM678 715.7l15.8 8.2v16.3l-15.8 8.2l-15.8 -8.2v-16.3zM363 764.7l15.8 8.2v16.3l-15.8 8.2l-15.8 -8.2v-16.3zM520.5 813.7l15.8 8.2v16.3l-15.8 8.2l-15.8 -8.2v-16.3zM552 813.7l15.8 8.2v16.3l-15.8 8.2l-15.8 -8.2v-16.3zM741 813.7l15.8 8.2v16.3l-15.8 8.2l-15.8 -8.2v-16.3zM426 862.7l15.8 8.2v16.3l-15.8 8.2l-15.8 -8.2v-16.3zM457.5 862.7l15.8 8.2v16.3l-15.8 8.2l-15.8 -8.2v-16.3zM552 862.7l15.8 8.2v16.3l-15.8 8.2l-15.8 -8.2v-16.3zM552 911.7l15.8 8.2v16.3l-15.8 8.2l-15.8 -8.2v-16.3zM741 911.7l15.8 8.2v16.3l-15.8 8.2l-15.8 -8.2v-16.3zM489 960.7l15.8 8.2v16.3l-15.8 8.2l-15.8 -8.2v-16.3zM520.5 960.7l15.8 8.2v16.3l-15.8 8.2l-15.8 -8.2v-16.3zM489 1009.7l15.8 8.2v16.3l-15.8 8.2l-15.8 -8.2v-16.3zM709.5 1009.7l15.8 8.2v16.3l-15.8 8.2l-15.8 -8.2v-16.3z"/>
<path fill="#8abfdd" stroke="#8abfdd" d="M615 666.7l15.8 8.2v16.3l-15.8 8.2l-15.8 -8.2v-16.3zM426 813.7l15.8 8.2v16.3l-15.8 8.2l-15.8 -8.2v-16.3zM457.5 813.7l15.8 8.2v16.3l-15.8 8.2l-15.8 -8.2v-16.3zM489 813.7l15.8 8.2v16.3l-15.8 8.2l-15.8 -8.2v-16.3zM583.5 813.7l15.8 8.2v16.3l-15.8 8.2l-15.8 -8.2v-16.3zM552 960.7l15.8 8.2v16.3l-15.8 8.2l-15.8 -8.2v-16.3zM583.5 960.7l15.8 8.2v16.3l-15.8 8.2l-15.8 -8.2v-16.3zM615 960.7l15.8 8.2v16.3l-15.8 8.2l-15.8 -8.2v-16.3zM741 960.7l15.8 8.2v16.3l-15.8 8.2l-15.8 -8.2v-16.3zM646.5 1009.7l15.8 8.2v16.3l-15.8 8.2l-15.8 -8.2v-16.3zM678 1009.7l15.8 8.2v16.3l-15.8 8.2l-15.8 -8.2v-16.3zM741 1009.7l15.8 8.2v16.3l-15.8 8.2l-15.8 -8.2v-16.3z"/>
<path fill="#75b4d8" stroke="#75b4d8" d="M583.5 715.7l15.8 8.2v16.3l-15.8 8.2l-15.8 -8.2v-16.3zM394.5 764.7l15.8 8.2v16.3l-15.8 8.2l-15.8 -8.2v-16.3zM489 862.7l15.8 8.2v16.3l-15.8 8.2l-15.8 -8.2v-16.3zM615 862.7l15.8 8.2v16.3l-15.8 8.2l-15.8 -8.2v-16.3zM741 862.7l15.8 8.2v16.3l-15.8 8.2l-15.8 -8.2v-16.3zM583.5 911.7l15.8 8.2v16.3l-15.8 8.2l-15.8 -8.2v-16.3zM615 911.7l15.8 8.2v16.3l-15.8 8.2l-15.8 -8.2v-16.3z"/>
<path fill="#63a8d3" stroke="#63a8d3" d="M646.5 666.7l15.8 8.2v16.3l-15.8 8.2l-15.8 -8.2v-16.3zM646.5 715.7l15.8 8.2v16.3l-15.8 8.2l-15.8 -8.2v-16.3zM709.5 715.7l15.8 8.2v16.3l-15.8 8.2l-15.8 -8.2v-16.3zM552 764.7l15.8 8.2v16.3l-15.8 8.2l-15.8 -8.2v-16.3zM741 764.7l15.8 8.2v16.3l-15.8 8.2l-15.8 -8.2v-16.3zM709.5 813.7l15.8 8.2v16.3l-15.8 8.2l-15.8 -8.2v-16.3zM583.5 862.7l15.8 8.2v16.3l-15.8 8.2l-15.8 -8.2v-16.3zM678 911.7l15.8 8.2v16.3l-15.8 8.2l-15.8 -8.2v-16.3zM709.5 911.7l15.8 8.2v16.3l-15.8 8.2l-15.8 -8.2v-16.3z"/>
<path fill="#529dcc" stroke="#529dcc" d="M615 715.7l15.8 8.2v16.3l-15.8 8.2l-15.8 -8.2v-16.3zM583.5 764.7l15.8 8.2v16.3l-15.8 8.2l-15.8 -8.2v-16.3zM678 764.7l15.8 8.2v16.3l-15.8 8.2l-15.8 -8.2v-16.3zM709.5 764.7l15.8 8.2v16.3l-15.8 8.2l-15.8 -8.2v-16.3zM520.5 862.7l15.8 8.2v16.3l-15.8 8.2l-15.8 -8.2v-16.3zM709.5 862.7l15.8 8.2v16.3l-15.8 8.2l-15.8 -8.2v-16.3z"/>
<path fill="#4292c6" stroke="#4292c6" d="M520.5 715.7l15.8 8.2v16.3l-15.8 8.2l-15.8 -8.2v-16.3zM615 813.7l15.8 8.2v16.3l-15.8 8.2l-15.8 -8.2v-16.3zM646.5 960.7l15.8 8.2v16.3l-15.8 8.2l-15.8 -8.2v-16.3zM678 960.7l15.8 8.2v16.3l-15.8 8.2l-15.8 -8.2v-16.3z"/>
<path fill="#3585bf" stroke="#3585bf" d="M646.5 813.7l15.8 8.2v16.3l-15.8 8.2l-15.8 -8.2v-16.3z"/>
<path fill="#2a7aba" stroke="#2a7aba" d="M615 764.7l15.8 8.2v16.3l-15.8 8.2l-15.8 -8.2v-16.3zM646.5 764.7l15.8 8.2v16.3l-15.8 8.2l-15.8 -8.2v-16.3zM646.5 862.7l15.8 8.2v16.3l-15.8 8.2l-15.8 -8.2v-16.3zM646.5 911.7l15.8 8.2v16.3l-15.8 8.2l-15.8 -8.2v-16.3z"/>
<path fill="#0f5aa3" stroke="#0f5aa3" d="M678 813.7l15.8 8.2v16.3l-15.8 8.2l-15.8 -8.2v-16.3z"/>
<path fill="#08306b" stroke="#08306b" d="M678 862.7l15.8 8.2v16.3l-15.8 8.2l-15.8 -8.2v-16.3z"/>
</g>
<path class="s" d="M294.6 979.2h14.4M419.1 1102.6v-14.4M294.6 855.8h14.4M543.6 1102.6v-14.4M294.6 732.4h14.4M668.1 1102.6v-14.4"/>
<g clip-path="url(#c3)" class="d">
<path d="M294.6 855.8H792.6"/>
<path d="M543.6 1102.6V609"/>
<path d="M668.1 855.8A124.5 123.4 0 1 0 419.1 855.8A124.5 123.4 0 1 0 668.1 855.8"/>
<path d="M792.6 855.8A249 246.8 0 1 0 294.6 855.8A249 246.8 0 1 0 792.6 855.8"/>
</g>
<rect class="s" x="294.6" y="609" width="498" height="493.6"/>
<text class="t" text-anchor="end" transform="translate(281 624) scale(0.962 1)">10</text>
<text class="t" text-anchor="end" transform="translate(281 747.4) scale(0.962 1)">5</text>
<text class="t" text-anchor="end" transform="translate(281 870.8) scale(0.962 1)">0</text>
<text class="t" text-anchor="end" transform="translate(281 994.2) scale(0.962 1)">−5</text>
<text class="t" text-anchor="end" transform="translate(281 1117.6) scale(0.962 1)">−10</text>
<text class="t" text-anchor="middle" transform="translate(294.6 1147.1) scale(0.962 1)">−10</text>
<text class="t" text-anchor="middle" transform="translate(419.1 1147.1) scale(0.962 1)">−5</text>
<text class="t" text-anchor="middle" transform="translate(543.6 1147.1) scale(0.962 1)">0</text>
<text class="t" text-anchor="middle" transform="translate(668.1 1147.1) scale(0.962 1)">5</text>
<text class="t" text-anchor="middle" transform="translate(792.6 1147.1) scale(0.962 1)">10</text>
<text class="m" transform="translate(292 667.3) scale(1.22 1.16)">(</text>
<text class="m" x="327.2" y="663.3">d</text>
<text class="m" transform="translate(354.1 667.3) scale(1.22 1.16)">)</text>
<rect x="824.7" y="609" width="24.4" height="493.6" fill="url(#cb)"/>
<text class="t" transform="translate(876.6 1117.6) scale(0.962 1)">0.00%</text>
<text class="t" transform="translate(876.6 994.2) scale(0.962 1)">0.27%</text>
<text class="t" transform="translate(876.6 870.8) scale(0.962 1)">0.54%</text>
<text class="t" transform="translate(876.6 747.4) scale(0.962 1)">0.82%</text>
<text class="t" transform="translate(876.6 624) scale(0.962 1)">1.09%</text>
<path class="s" d="M849.1 1102.6h14.4M849.1 979.2h14.4M849.1 855.8h14.4M849.1 732.4h14.4M849.1 609h14.4"/>
<rect class="s" x="824.7" y="609" width="24.4" height="493.6"/>
</g>
<g id="panel-e">
<rect x="1043.1" y="609" width="498" height="493.6" fill="#f7fbff"/>
<g clip-path="url(#c4)" stroke-width="1.6" stroke-linejoin="miter">
<path fill="#f3f8fe" stroke="#f3f8fe" d="M1032.5 602.7l15.2 8.9v17.7l-15.2 8.9l-15.2 -8.9v-17.7zM1063 602.7l15.2 8.9v17.7l-15.2 8.9l-15.2 -8.9v-17.7zM1093.5 602.7l15.2 8.9v17.7l-15.2 8.9l-15.2 -8.9v-17.7zM1124 602.7l15.2 8.9v17.7l-15.2 8.9l-15.2 -8.9v-17.7zM1154.5 602.7l15.2 8.9v17.7l-15.2 8.9l-15.2 -8.9v-17.7zM1185 602.7l15.2 8.9v17.7l-15.2 8.9l-15.2 -8.9v-17.7zM1215.5 602.7l15.2 8.9v17.7l-15.2 8.9l-15.2 -8.9v-17.7zM1246 602.7l15.2 8.9v17.7l-15.2 8.9l-15.2 -8.9v-17.7zM1276.5 602.7l15.2 8.9v17.7l-15.2 8.9l-15.2 -8.9v-17.7zM1307 602.7l15.2 8.9v17.7l-15.2 8.9l-15.2 -8.9v-17.7zM1337.5 602.7l15.2 8.9v17.7l-15.2 8.9l-15.2 -8.9v-17.7zM1368 602.7l15.2 8.9v17.7l-15.2 8.9l-15.2 -8.9v-17.7zM1398.5 602.7l15.2 8.9v17.7l-15.2 8.9l-15.2 -8.9v-17.7zM1429 602.7l15.2 8.9v17.7l-15.2 8.9l-15.2 -8.9v-17.7zM1459.5 602.7l15.2 8.9v17.7l-15.2 8.9l-15.2 -8.9v-17.7zM1490 602.7l15.2 8.9v17.7l-15.2 8.9l-15.2 -8.9v-17.7zM1520.5 602.7l15.2 8.9v17.7l-15.2 8.9l-15.2 -8.9v-17.7zM1551 602.7l15.2 8.9v17.7l-15.2 8.9l-15.2 -8.9v-17.7zM1032.5 655.9l15.2 8.9v17.7l-15.2 8.9l-15.2 -8.9v-17.7zM1063 655.9l15.2 8.9v17.7l-15.2 8.9l-15.2 -8.9v-17.7zM1093.5 655.9l15.2 8.9v17.7l-15.2 8.9l-15.2 -8.9v-17.7zM1124 655.9l15.2 8.9v17.7l-15.2 8.9l-15.2 -8.9v-17.7zM1398.5 655.9l15.2 8.9v17.7l-15.2 8.9l-15.2 -8.9v-17.7zM1429 655.9l15.2 8.9v17.7l-15.2 8.9l-15.2 -8.9v-17.7zM1459.5 655.9l15.2 8.9v17.7l-15.2 8.9l-15.2 -8.9v-17.7zM1490 655.9l15.2 8.9v17.7l-15.2 8.9l-15.2 -8.9v-17.7zM1520.5 655.9l15.2 8.9v17.7l-15.2 8.9l-15.2 -8.9v-17.7zM1551 655.9l15.2 8.9v17.7l-15.2 8.9l-15.2 -8.9v-17.7zM1032.5 709.1l15.2 8.9v17.7l-15.2 8.9l-15.2 -8.9v-17.7zM1063 709.1l15.2 8.9v17.7l-15.2 8.9l-15.2 -8.9v-17.7zM1093.5 709.1l15.2 8.9v17.7l-15.2 8.9l-15.2 -8.9v-17.7zM1429 709.1l15.2 8.9v17.7l-15.2 8.9l-15.2 -8.9v-17.7zM1459.5 709.1l15.2 8.9v17.7l-15.2 8.9l-15.2 -8.9v-17.7zM1490 709.1l15.2 8.9v17.7l-15.2 8.9l-15.2 -8.9v-17.7zM1520.5 709.1l15.2 8.9v17.7l-15.2 8.9l-15.2 -8.9v-17.7zM1551 709.1l15.2 8.9v17.7l-15.2 8.9l-15.2 -8.9v-17.7zM1032.5 762.3l15.2 8.9v17.7l-15.2 8.9l-15.2 -8.9v-17.7zM1063 762.3l15.2 8.9v17.7l-15.2 8.9l-15.2 -8.9v-17.7zM1093.5 762.3l15.2 8.9v17.7l-15.2 8.9l-15.2 -8.9v-17.7zM1429 762.3l15.2 8.9v17.7l-15.2 8.9l-15.2 -8.9v-17.7zM1459.5 762.3l15.2 8.9v17.7l-15.2 8.9l-15.2 -8.9v-17.7zM1490 762.3l15.2 8.9v17.7l-15.2 8.9l-15.2 -8.9v-17.7zM1520.5 762.3l15.2 8.9v17.7l-15.2 8.9l-15.2 -8.9v-17.7zM1551 762.3l15.2 8.9v17.7l-15.2 8.9l-15.2 -8.9v-17.7zM1429 815.5l15.2 8.9v17.7l-15.2 8.9l-15.2 -8.9v-17.7zM1459.5 815.5l15.2 8.9v17.7l-15.2 8.9l-15.2 -8.9v-17.7zM1490 815.5l15.2 8.9v17.7l-15.2 8.9l-15.2 -8.9v-17.7zM1520.5 815.5l15.2 8.9v17.7l-15.2 8.9l-15.2 -8.9v-17.7zM1551 815.5l15.2 8.9v17.7l-15.2 8.9l-15.2 -8.9v-17.7zM1032.5 868.7l15.2 8.9v17.7l-15.2 8.9l-15.2 -8.9v-17.7zM1063 868.7l15.2 8.9v17.7l-15.2 8.9l-15.2 -8.9v-17.7zM1093.5 868.7l15.2 8.9v17.7l-15.2 8.9l-15.2 -8.9v-17.7zM1398.5 868.7l15.2 8.9v17.7l-15.2 8.9l-15.2 -8.9v-17.7zM1429 868.7l15.2 8.9v17.7l-15.2 8.9l-15.2 -8.9v-17.7zM1459.5 868.7l15.2 8.9v17.7l-15.2 8.9l-15.2 -8.9v-17.7zM1490 868.7l15.2 8.9v17.7l-15.2 8.9l-15.2 -8.9v-17.7zM1520.5 868.7l15.2 8.9v17.7l-15.2 8.9l-15.2 -8.9v-17.7zM1551 868.7l15.2 8.9v17.7l-15.2 8.9l-15.2 -8.9v-17.7zM1032.5 921.9l15.2 8.9v17.7l-15.2 8.9l-15.2 -8.9v-17.7zM1063 921.9l15.2 8.9v17.7l-15.2 8.9l-15.2 -8.9v-17.7zM1093.5 921.9l15.2 8.9v17.7l-15.2 8.9l-15.2 -8.9v-17.7zM1337.5 921.9l15.2 8.9v17.7l-15.2 8.9l-15.2 -8.9v-17.7zM1368 921.9l15.2 8.9v17.7l-15.2 8.9l-15.2 -8.9v-17.7zM1398.5 921.9l15.2 8.9v17.7l-15.2 8.9l-15.2 -8.9v-17.7zM1429 921.9l15.2 8.9v17.7l-15.2 8.9l-15.2 -8.9v-17.7zM1459.5 921.9l15.2 8.9v17.7l-15.2 8.9l-15.2 -8.9v-17.7zM1490 921.9l15.2 8.9v17.7l-15.2 8.9l-15.2 -8.9v-17.7zM1520.5 921.9l15.2 8.9v17.7l-15.2 8.9l-15.2 -8.9v-17.7zM1551 921.9l15.2 8.9v17.7l-15.2 8.9l-15.2 -8.9v-17.7zM1032.5 975.1l15.2 8.9v17.7l-15.2 8.9l-15.2 -8.9v-17.7zM1063 975.1l15.2 8.9v17.7l-15.2 8.9l-15.2 -8.9v-17.7zM1093.5 975.1l15.2 8.9v17.7l-15.2 8.9l-15.2 -8.9v-17.7zM1124 975.1l15.2 8.9v17.7l-15.2 8.9l-15.2 -8.9v-17.7zM1185 975.1l15.2 8.9v17.7l-15.2 8.9l-15.2 -8.9v-17.7zM1246 975.1l15.2 8.9v17.7l-15.2 8.9l-15.2 -8.9v-17.7zM1276.5 975.1l15.2 8.9v17.7l-15.2 8.9l-15.2 -8.9v-17.7zM1307 975.1l15.2 8.9v17.7l-15.2 8.9l-15.2 -8.9v-17.7zM1337.5 975.1l15.2 8.9v17.7l-15.2 8.9l-15.2 -8.9v-17.7zM1368 975.1l15.2 8.9v17.7l-15.2 8.9l-15.2 -8.9v-17.7zM1398.5 975.1l15.2 8.9v17.7l-15.2 8.9l-15.2 -8.9v-17.7zM1429 975.1l15.2 8.9v17.7l-15.2 8.9l-15.2 -8.9v-17.7zM1459.5 975.1l15.2 8.9v17.7l-15.2 8.9l-15.2 -8.9v-17.7zM1490 975.1l15.2 8.9v17.7l-15.2 8.9l-15.2 -8.9v-17.7zM1520.5 975.1l15.2 8.9v17.7l-15.2 8.9l-15.2 -8.9v-17.7zM1551 975.1l15.2 8.9v17.7l-15.2 8.9l-15.2 -8.9v-17.7zM1032.5 1028.3l15.2 8.9v17.7l-15.2 8.9l-15.2 -8.9v-17.7zM1063 1028.3l15.2 8.9v17.7l-15.2 8.9l-15.2 -8.9v-17.7zM1093.5 1028.3l15.2 8.9v17.7l-15.2 8.9l-15.2 -8.9v-17.7zM1124 1028.3l15.2 8.9v17.7l-15.2 8.9l-15.2 -8.9v-17.7zM1154.5 1028.3l15.2 8.9v17.7l-15.2 8.9l-15.2 -8.9v-17.7zM1185 1028.3l15.2 8.9v17.7l-15.2 8.9l-15.2 -8.9v-17.7zM1215.5 1028.3l15.2 8.9v17.7l-15.2 8.9l-15.2 -8.9v-17.7zM1276.5 1028.3l15.2 8.9v17.7l-15.2 8.9l-15.2 -8.9v-17.7zM1307 1028.3l15.2 8.9v17.7l-15.2 8.9l-15.2 -8.9v-17.7zM1337.5 1028.3l15.2 8.9v17.7l-15.2 8.9l-15.2 -8.9v-17.7zM1368 1028.3l15.2 8.9v17.7l-15.2 8.9l-15.2 -8.9v-17.7zM1398.5 1028.3l15.2 8.9v17.7l-15.2 8.9l-15.2 -8.9v-17.7zM1429 1028.3l15.2 8.9v17.7l-15.2 8.9l-15.2 -8.9v-17.7zM1459.5 1028.3l15.2 8.9v17.7l-15.2 8.9l-15.2 -8.9v-17.7zM1490 1028.3l15.2 8.9v17.7l-15.2 8.9l-15.2 -8.9v-17.7zM1520.5 1028.3l15.2 8.9v17.7l-15.2 8.9l-15.2 -8.9v-17.7zM1551 1028.3l15.2 8.9v17.7l-15.2 8.9l-15.2 -8.9v-17.7zM1032.5 1081.5l15.2 8.9v17.7l-15.2 8.9l-15.2 -8.9v-17.7zM1063 1081.5l15.2 8.9v17.7l-15.2 8.9l-15.2 -8.9v-17.7zM1093.5 1081.5l15.2 8.9v17.7l-15.2 8.9l-15.2 -8.9v-17.7zM1124 1081.5l15.2 8.9v17.7l-15.2 8.9l-15.2 -8.9v-17.7zM1154.5 1081.5l15.2 8.9v17.7l-15.2 8.9l-15.2 -8.9v-17.7zM1185 1081.5l15.2 8.9v17.7l-15.2 8.9l-15.2 -8.9v-17.7zM1215.5 1081.5l15.2 8.9v17.7l-15.2 8.9l-15.2 -8.9v-17.7zM1246 1081.5l15.2 8.9v17.7l-15.2 8.9l-15.2 -8.9v-17.7zM1276.5 1081.5l15.2 8.9v17.7l-15.2 8.9l-15.2 -8.9v-17.7zM1307 1081.5l15.2 8.9v17.7l-15.2 8.9l-15.2 -8.9v-17.7zM1337.5 1081.5l15.2 8.9v17.7l-15.2 8.9l-15.2 -8.9v-17.7zM1368 1081.5l15.2 8.9v17.7l-15.2 8.9l-15.2 -8.9v-17.7zM1398.5 1081.5l15.2 8.9v17.7l-15.2 8.9l-15.2 -8.9v-17.7zM1429 1081.5l15.2 8.9v17.7l-15.2 8.9l-15.2 -8.9v-17.7zM1459.5 1081.5l15.2 8.9v17.7l-15.2 8.9l-15.2 -8.9v-17.7zM1490 1081.5l15.2 8.9v17.7l-15.2 8.9l-15.2 -8.9v-17.7zM1520.5 1081.5l15.2 8.9v17.7l-15.2 8.9l-15.2 -8.9v-17.7zM1551 1081.5l15.2 8.9v17.7l-15.2 8.9l-15.2 -8.9v-17.7z"/>
<path fill="#eaf3fb" stroke="#eaf3fb" d="M1154.5 655.9l15.2 8.9v17.7l-15.2 8.9l-15.2 -8.9v-17.7zM1307 655.9l15.2 8.9v17.7l-15.2 8.9l-15.2 -8.9v-17.7zM1337.5 655.9l15.2 8.9v17.7l-15.2 8.9l-15.2 -8.9v-17.7zM1368 655.9l15.2 8.9v17.7l-15.2 8.9l-15.2 -8.9v-17.7zM1124 709.1l15.2 8.9v17.7l-15.2 8.9l-15.2 -8.9v-17.7zM1398.5 709.1l15.2 8.9v17.7l-15.2 8.9l-15.2 -8.9v-17.7zM1398.5 762.3l15.2 8.9v17.7l-15.2 8.9l-15.2 -8.9v-17.7zM1032.5 815.5l15.2 8.9v17.7l-15.2 8.9l-15.2 -8.9v-17.7zM1063 815.5l15.2 8.9v17.7l-15.2 8.9l-15.2 -8.9v-17.7zM1093.5 815.5l15.2 8.9v17.7l-15.2 8.9l-15.2 -8.9v-17.7zM1398.5 815.5l15.2 8.9v17.7l-15.2 8.9l-15.2 -8.9v-17.7zM1124 868.7l15.2 8.9v17.7l-15.2 8.9l-15.2 -8.9v-17.7zM1337.5 868.7l15.2 8.9v17.7l-15.2 8.9l-15.2 -8.9v-17.7zM1368 868.7l15.2 8.9v17.7l-15.2 8.9l-15.2 -8.9v-17.7zM1124 921.9l15.2 8.9v17.7l-15.2 8.9l-15.2 -8.9v-17.7zM1154.5 975.1l15.2 8.9v17.7l-15.2 8.9l-15.2 -8.9v-17.7zM1215.5 975.1l15.2 8.9v17.7l-15.2 8.9l-15.2 -8.9v-17.7zM1246 1028.3l15.2 8.9v17.7l-15.2 8.9l-15.2 -8.9v-17.7z"/>
<path fill="#d3e4f3" stroke="#d3e4f3" d="M1276.5 655.9l15.2 8.9v17.7l-15.2 8.9l-15.2 -8.9v-17.7zM1368 709.1l15.2 8.9v17.7l-15.2 8.9l-15.2 -8.9v-17.7zM1124 815.5l15.2 8.9v17.7l-15.2 8.9l-15.2 -8.9v-17.7zM1154.5 921.9l15.2 8.9v17.7l-15.2 8.9l-15.2 -8.9v-17.7zM1185 921.9l15.2 8.9v17.7l-15.2 8.9l-15.2 -8.9v-17.7zM1307 921.9l15.2 8.9v17.7l-15.2 8.9l-15.2 -8.9v-17.7z"/>
<path fill="#c6dbef" stroke="#c6dbef" d="M1185 655.9l15.2 8.9v17.7l-15.2 8.9l-15.2 -8.9v-17.7zM1124 762.3l15.2 8.9v17.7l-15.2 8.9l-15.2 -8.9v-17.7zM1368 762.3l15.2 8.9v17.7l-15.2 8.9l-15.2 -8.9v-17.7zM1337.5 815.5l15.2 8.9v17.7l-15.2 8.9l-15.2 -8.9v-17.7zM1368 815.5l15.2 8.9v17.7l-15.2 8.9l-15.2 -8.9v-17.7zM1154.5 868.7l15.2 8.9v17.7l-15.2 8.9l-15.2 -8.9v-17.7zM1276.5 868.7l15.2 8.9v17.7l-15.2 8.9l-15.2 -8.9v-17.7zM1307 868.7l15.2 8.9v17.7l-15.2 8.9l-15.2 -8.9v-17.7zM1215.5 921.9l15.2 8.9v17.7l-15.2 8.9l-15.2 -8.9v-17.7zM1246 921.9l15.2 8.9v17.7l-15.2 8.9l-15.2 -8.9v-17.7zM1276.5 921.9l15.2 8.9v17.7l-15.2 8.9l-15.2 -8.9v-17.7z"/>
<path fill="#b1d2e8" stroke="#b1d2e8" d="M1337.5 762.3l15.2 8.9v17.7l-15.2 8.9l-15.2 -8.9v-17.7z"/>
<path fill="#9ecae1" stroke="#9ecae1" d="M1215.5 655.9l15.2 8.9v17.7l-15.2 8.9l-15.2 -8.9v-17.7zM1246 655.9l15.2 8.9v17.7l-15.2 8.9l-15.2 -8.9v-17.7zM1337.5 709.1l15.2 8.9v17.7l-15.2 8.9l-15.2 -8.9v-17.7zM1276.5 815.5l15.2 8.9v17.7l-15.2 8.9l-15.2 -8.9v-17.7zM1307 815.5l15.2 8.9v17.7l-15.2 8.9l-15.2 -8.9v-17.7z"/>
<path fill="#8abfdd" stroke="#8abfdd" d="M1154.5 762.3l15.2 8.9v17.7l-15.2 8.9l-15.2 -8.9v-17.7zM1215.5 868.7l15.2 8.9v17.7l-15.2 8.9l-15.2 -8.9v-17.7z"/>
<path fill="#75b4d8" stroke="#75b4d8" d="M1154.5 709.1l15.2 8.9v17.7l-15.2 8.9l-15.2 -8.9v-17.7zM1307 709.1l15.2 8.9v17.7l-15.2 8.9l-15.2 -8.9v-17.7zM1307 762.3l15.2 8.9v17.7l-15.2 8.9l-15.2 -8.9v-17.7zM1154.5 815.5l15.2 8.9v17.7l-15.2 8.9l-15.2 -8.9v-17.7z"/>
<path fill="#63a8d3" stroke="#63a8d3" d="M1246 868.7l15.2 8.9v17.7l-15.2 8.9l-15.2 -8.9v-17.7z"/>
<path fill="#529dcc" stroke="#529dcc" d="M1185 868.7l15.2 8.9v17.7l-15.2 8.9l-15.2 -8.9v-17.7z"/>
<path fill="#4292c6" stroke="#4292c6" d="M1246 815.5l15.2 8.9v17.7l-15.2 8.9l-15.2 -8.9v-17.7z"/>
<path fill="#3585bf" stroke="#3585bf" d="M1276.5 762.3l15.2 8.9v17.7l-15.2 8.9l-15.2 -8.9v-17.7z"/>
<path fill="#2a7aba" stroke="#2a7aba" d="M1276.5 709.1l15.2 8.9v17.7l-15.2 8.9l-15.2 -8.9v-17.7zM1215.5 815.5l15.2 8.9v17.7l-15.2 8.9l-15.2 -8.9v-17.7z"/>
<path fill="#2070b4" stroke="#2070b4" d="M1215.5 709.1l15.2 8.9v17.7l-15.2 8.9l-15.2 -8.9v-17.7z"/>
<path fill="#1967ad" stroke="#1967ad" d="M1246 762.3l15.2 8.9v17.7l-15.2 8.9l-15.2 -8.9v-17.7zM1185 815.5l15.2 8.9v17.7l-15.2 8.9l-15.2 -8.9v-17.7z"/>
<path fill="#084d96" stroke="#084d96" d="M1246 709.1l15.2 8.9v17.7l-15.2 8.9l-15.2 -8.9v-17.7zM1215.5 762.3l15.2 8.9v17.7l-15.2 8.9l-15.2 -8.9v-17.7z"/>
<path fill="#084286" stroke="#084286" d="M1185 709.1l15.2 8.9v17.7l-15.2 8.9l-15.2 -8.9v-17.7zM1185 762.3l15.2 8.9v17.7l-15.2 8.9l-15.2 -8.9v-17.7z"/>
<path fill="#f3f8fe" stroke="#f3f8fe" d="M1047.8 576.1l15.2 8.9v17.7l-15.2 8.9l-15.2 -8.9v-17.7zM1078.3 576.1l15.2 8.9v17.7l-15.2 8.9l-15.2 -8.9v-17.7zM1108.8 576.1l15.2 8.9v17.7l-15.2 8.9l-15.2 -8.9v-17.7zM1139.3 576.1l15.2 8.9v17.7l-15.2 8.9l-15.2 -8.9v-17.7zM1169.8 576.1l15.2 8.9v17.7l-15.2 8.9l-15.2 -8.9v-17.7zM1200.3 576.1l15.2 8.9v17.7l-15.2 8.9l-15.2 -8.9v-17.7zM1230.8 576.1l15.2 8.9v17.7l-15.2 8.9l-15.2 -8.9v-17.7zM1261.3 576.1l15.2 8.9v17.7l-15.2 8.9l-15.2 -8.9v-17.7zM1291.8 576.1l15.2 8.9v17.7l-15.2 8.9l-15.2 -8.9v-17.7zM1322.3 576.1l15.2 8.9v17.7l-15.2 8.9l-15.2 -8.9v-17.7zM1352.8 576.1l15.2 8.9v17.7l-15.2 8.9l-15.2 -8.9v-17.7zM1383.3 576.1l15.2 8.9v17.7l-15.2 8.9l-15.2 -8.9v-17.7zM1413.8 576.1l15.2 8.9v17.7l-15.2 8.9l-15.2 -8.9v-17.7zM1444.3 576.1l15.2 8.9v17.7l-15.2 8.9l-15.2 -8.9v-17.7zM1474.8 576.1l15.2 8.9v17.7l-15.2 8.9l-15.2 -8.9v-17.7zM1505.3 576.1l15.2 8.9v17.7l-15.2 8.9l-15.2 -8.9v-17.7zM1535.8 576.1l15.2 8.9v17.7l-15.2 8.9l-15.2 -8.9v-17.7zM1047.8 629.3l15.2 8.9v17.7l-15.2 8.9l-15.2 -8.9v-17.7zM1078.3 629.3l15.2 8.9v17.7l-15.2 8.9l-15.2 -8.9v-17.7zM1108.8 629.3l15.2 8.9v17.7l-15.2 8.9l-15.2 -8.9v-17.7zM1139.3 629.3l15.2 8.9v17.7l-15.2 8.9l-15.2 -8.9v-17.7zM1291.8 629.3l15.2 8.9v17.7l-15.2 8.9l-15.2 -8.9v-17.7zM1322.3 629.3l15.2 8.9v17.7l-15.2 8.9l-15.2 -8.9v-17.7zM1352.8 629.3l15.2 8.9v17.7l-15.2 8.9l-15.2 -8.9v-17.7zM1383.3 629.3l15.2 8.9v17.7l-15.2 8.9l-15.2 -8.9v-17.7zM1413.8 629.3l15.2 8.9v17.7l-15.2 8.9l-15.2 -8.9v-17.7zM1444.3 629.3l15.2 8.9v17.7l-15.2 8.9l-15.2 -8.9v-17.7zM1474.8 629.3l15.2 8.9v17.7l-15.2 8.9l-15.2 -8.9v-17.7zM1505.3 629.3l15.2 8.9v17.7l-15.2 8.9l-15.2 -8.9v-17.7zM1535.8 629.3l15.2 8.9v17.7l-15.2 8.9l-15.2 -8.9v-17.7zM1047.8 682.5l15.2 8.9v17.7l-15.2 8.9l-15.2 -8.9v-17.7zM1078.3 682.5l15.2 8.9v17.7l-15.2 8.9l-15.2 -8.9v-17.7zM1108.8 682.5l15.2 8.9v17.7l-15.2 8.9l-15.2 -8.9v-17.7zM1444.3 682.5l15.2 8.9v17.7l-15.2 8.9l-15.2 -8.9v-17.7zM1474.8 682.5l15.2 8.9v17.7l-15.2 8.9l-15.2 -8.9v-17.7zM1505.3 682.5l15.2 8.9v17.7l-15.2 8.9l-15.2 -8.9v-17.7zM1535.8 682.5l15.2 8.9v17.7l-15.2 8.9l-15.2 -8.9v-17.7zM1047.8 735.7l15.2 8.9v17.7l-15.2 8.9l-15.2 -8.9v-17.7zM1078.3 735.7l15.2 8.9v17.7l-15.2 8.9l-15.2 -8.9v-17.7zM1444.3 735.7l15.2 8.9v17.7l-15.2 8.9l-15.2 -8.9v-17.7zM1474.8 735.7l15.2 8.9v17.7l-15.2 8.9l-15.2 -8.9v-17.7zM1505.3 735.7l15.2 8.9v17.7l-15.2 8.9l-15.2 -8.9v-17.7zM1535.8 735.7l15.2 8.9v17.7l-15.2 8.9l-15.2 -8.9v-17.7zM1047.8 788.9l15.2 8.9v17.7l-15.2 8.9l-15.2 -8.9v-17.7zM1078.3 788.9l15.2 8.9v17.7l-15.2 8.9l-15.2 -8.9v-17.7zM1444.3 788.9l15.2 8.9v17.7l-15.2 8.9l-15.2 -8.9v-17.7zM1474.8 788.9l15.2 8.9v17.7l-15.2 8.9l-15.2 -8.9v-17.7zM1505.3 788.9l15.2 8.9v17.7l-15.2 8.9l-15.2 -8.9v-17.7zM1535.8 788.9l15.2 8.9v17.7l-15.2 8.9l-15.2 -8.9v-17.7zM1047.8 842.1l15.2 8.9v17.7l-15.2 8.9l-15.2 -8.9v-17.7zM1413.8 842.1l15.2 8.9v17.7l-15.2 8.9l-15.2 -8.9v-17.7zM1444.3 842.1l15.2 8.9v17.7l-15.2 8.9l-15.2 -8.9v-17.7zM1474.8 842.1l15.2 8.9v17.7l-15.2 8.9l-15.2 -8.9v-17.7zM1505.3 842.1l15.2 8.9v17.7l-15.2 8.9l-15.2 -8.9v-17.7zM1535.8 842.1l15.2 8.9v17.7l-15.2 8.9l-15.2 -8.9v-17.7zM1047.8 895.3l15.2 8.9v17.7l-15.2 8.9l-15.2 -8.9v-17.7zM1078.3 895.3l15.2 8.9v17.7l-15.2 8.9l-15.2 -8.9v-17.7zM1108.8 895.3l15.2 8.9v17.7l-15.2 8.9l-15.2 -8.9v-17.7zM1139.3 895.3l15.2 8.9v17.7l-15.2 8.9l-15.2 -8.9v-17.7zM1383.3 895.3l15.2 8.9v17.7l-15.2 8.9l-15.2 -8.9v-17.7zM1413.8 895.3l15.2 8.9v17.7l-15.2 8.9l-15.2 -8.9v-17.7zM1444.3 895.3l15.2 8.9v17.7l-15.2 8.9l-15.2 -8.9v-17.7zM1474.8 895.3l15.2 8.9v17.7l-15.2 8.9l-15.2 -8.9v-17.7zM1505.3 895.3l15.2 8.9v17.7l-15.2 8.9l-15.2 -8.9v-17.7zM1535.8 895.3l15.2 8.9v17.7l-15.2 8.9l-15.2 -8.9v-17.7zM1047.8 948.5l15.2 8.9v17.7l-15.2 8.9l-15.2 -8.9v-17.7zM1078.3 948.5l15.2 8.9v17.7l-15.2 8.9l-15.2 -8.9v-17.7zM1108.8 948.5l15.2 8.9v17.7l-15.2 8.9l-15.2 -8.9v-17.7zM1139.3 948.5l15.2 8.9v17.7l-15.2 8.9l-15.2 -8.9v-17.7zM1261.3 948.5l15.2 8.9v17.7l-15.2 8.9l-15.2 -8.9v-17.7zM1322.3 948.5l15.2 8.9v17.7l-15.2 8.9l-15.2 -8.9v-17.7zM1352.8 948.5l15.2 8.9v17.7l-15.2 8.9l-15.2 -8.9v-17.7zM1413.8 948.5l15.2 8.9v17.7l-15.2 8.9l-15.2 -8.9v-17.7zM1444.3 948.5l15.2 8.9v17.7l-15.2 8.9l-15.2 -8.9v-17.7zM1474.8 948.5l15.2 8.9v17.7l-15.2 8.9l-15.2 -8.9v-17.7zM1505.3 948.5l15.2 8.9v17.7l-15.2 8.9l-15.2 -8.9v-17.7zM1535.8 948.5l15.2 8.9v17.7l-15.2 8.9l-15.2 -8.9v-17.7zM1047.8 1001.7l15.2 8.9v17.7l-15.2 8.9l-15.2 -8.9v-17.7zM1078.3 1001.7l15.2 8.9v17.7l-15.2 8.9l-15.2 -8.9v-17.7zM1108.8 1001.7l15.2 8.9v17.7l-15.2 8.9l-15.2 -8.9v-17.7zM1139.3 1001.7l15.2 8.9v17.7l-15.2 8.9l-15.2 -8.9v-17.7zM1169.8 1001.7l15.2 8.9v17.7l-15.2 8.9l-15.2 -8.9v-17.7zM1200.3 1001.7l15.2 8.9v17.7l-15.2 8.9l-15.2 -8.9v-17.7zM1230.8 1001.7l15.2 8.9v17.7l-15.2 8.9l-15.2 -8.9v-17.7zM1261.3 1001.7l15.2 8.9v17.7l-15.2 8.9l-15.2 -8.9v-17.7zM1291.8 1001.7l15.2 8.9v17.7l-15.2 8.9l-15.2 -8.9v-17.7zM1322.3 1001.7l15.2 8.9v17.7l-15.2 8.9l-15.2 -8.9v-17.7zM1352.8 1001.7l15.2 8.9v17.7l-15.2 8.9l-15.2 -8.9v-17.7zM1383.3 1001.7l15.2 8.9v17.7l-15.2 8.9l-15.2 -8.9v-17.7zM1413.8 1001.7l15.2 8.9v17.7l-15.2 8.9l-15.2 -8.9v-17.7zM1444.3 1001.7l15.2 8.9v17.7l-15.2 8.9l-15.2 -8.9v-17.7zM1474.8 1001.7l15.2 8.9v17.7l-15.2 8.9l-15.2 -8.9v-17.7zM1505.3 1001.7l15.2 8.9v17.7l-15.2 8.9l-15.2 -8.9v-17.7zM1535.8 1001.7l15.2 8.9v17.7l-15.2 8.9l-15.2 -8.9v-17.7zM1047.8 1054.9l15.2 8.9v17.7l-15.2 8.9l-15.2 -8.9v-17.7zM1078.3 1054.9l15.2 8.9v17.7l-15.2 8.9l-15.2 -8.9v-17.7zM1108.8 1054.9l15.2 8.9v17.7l-15.2 8.9l-15.2 -8.9v-17.7zM1139.3 1054.9l15.2 8.9v17.7l-15.2 8.9l-15.2 -8.9v-17.7zM1169.8 1054.9l15.2 8.9v17.7l-15.2 8.9l-15.2 -8.9v-17.7zM1200.3 1054.9l15.2 8.9v17.7l-15.2 8.9l-15.2 -8.9v-17.7zM1230.8 1054.9l15.2 8.9v17.7l-15.2 8.9l-15.2 -8.9v-17.7zM1261.3 1054.9l15.2 8.9v17.7l-15.2 8.9l-15.2 -8.9v-17.7zM1291.8 1054.9l15.2 8.9v17.7l-15.2 8.9l-15.2 -8.9v-17.7zM1352.8 1054.9l15.2 8.9v17.7l-15.2 8.9l-15.2 -8.9v-17.7zM1383.3 1054.9l15.2 8.9v17.7l-15.2 8.9l-15.2 -8.9v-17.7zM1413.8 1054.9l15.2 8.9v17.7l-15.2 8.9l-15.2 -8.9v-17.7zM1444.3 1054.9l15.2 8.9v17.7l-15.2 8.9l-15.2 -8.9v-17.7zM1474.8 1054.9l15.2 8.9v17.7l-15.2 8.9l-15.2 -8.9v-17.7zM1505.3 1054.9l15.2 8.9v17.7l-15.2 8.9l-15.2 -8.9v-17.7zM1535.8 1054.9l15.2 8.9v17.7l-15.2 8.9l-15.2 -8.9v-17.7z"/>
<path fill="#eaf3fb" stroke="#eaf3fb" d="M1169.8 629.3l15.2 8.9v17.7l-15.2 8.9l-15.2 -8.9v-17.7zM1200.3 629.3l15.2 8.9v17.7l-15.2 8.9l-15.2 -8.9v-17.7zM1230.8 629.3l15.2 8.9v17.7l-15.2 8.9l-15.2 -8.9v-17.7zM1261.3 629.3l15.2 8.9v17.7l-15.2 8.9l-15.2 -8.9v-17.7zM1352.8 682.5l15.2 8.9v17.7l-15.2 8.9l-15.2 -8.9v-17.7zM1383.3 682.5l15.2 8.9v17.7l-15.2 8.9l-15.2 -8.9v-17.7zM1413.8 682.5l15.2 8.9v17.7l-15.2 8.9l-15.2 -8.9v-17.7zM1413.8 735.7l15.2 8.9v17.7l-15.2 8.9l-15.2 -8.9v-17.7zM1108.8 788.9l15.2 8.9v17.7l-15.2 8.9l-15.2 -8.9v-17.7zM1413.8 788.9l15.2 8.9v17.7l-15.2 8.9l-15.2 -8.9v-17.7zM1078.3 842.1l15.2 8.9v17.7l-15.2 8.9l-15.2 -8.9v-17.7zM1108.8 842.1l15.2 8.9v17.7l-15.2 8.9l-15.2 -8.9v-17.7zM1383.3 842.1l15.2 8.9v17.7l-15.2 8.9l-15.2 -8.9v-17.7zM1169.8 948.5l15.2 8.9v17.7l-15.2 8.9l-15.2 -8.9v-17.7zM1200.3 948.5l15.2 8.9v17.7l-15.2 8.9l-15.2 -8.9v-17.7zM1291.8 948.5l15.2 8.9v17.7l-15.2 8.9l-15.2 -8.9v-17.7zM1383.3 948.5l15.2 8.9v17.7l-15.2 8.9l-15.2 -8.9v-17.7zM1322.3 1054.9l15.2 8.9v17.7l-15.2 8.9l-15.2 -8.9v-17.7z"/>
<path fill="#d3e4f3" stroke="#d3e4f3" d="M1139.3 682.5l15.2 8.9v17.7l-15.2 8.9l-15.2 -8.9v-17.7zM1322.3 682.5l15.2 8.9v17.7l-15.2 8.9l-15.2 -8.9v-17.7zM1108.8 735.7l15.2 8.9v17.7l-15.2 8.9l-15.2 -8.9v-17.7zM1383.3 735.7l15.2 8.9v17.7l-15.2 8.9l-15.2 -8.9v-17.7zM1383.3 788.9l15.2 8.9v17.7l-15.2 8.9l-15.2 -8.9v-17.7zM1169.8 895.3l15.2 8.9v17.7l-15.2 8.9l-15.2 -8.9v-17.7zM1322.3 895.3l15.2 8.9v17.7l-15.2 8.9l-15.2 -8.9v-17.7zM1352.8 895.3l15.2 8.9v17.7l-15.2 8.9l-15.2 -8.9v-17.7zM1230.8 948.5l15.2 8.9v17.7l-15.2 8.9l-15.2 -8.9v-17.7z"/>
<path fill="#c6dbef" stroke="#c6dbef" d="M1139.3 735.7l15.2 8.9v17.7l-15.2 8.9l-15.2 -8.9v-17.7zM1139.3 842.1l15.2 8.9v17.7l-15.2 8.9l-15.2 -8.9v-17.7zM1352.8 842.1l15.2 8.9v17.7l-15.2 8.9l-15.2 -8.9v-17.7z"/>
<path fill="#b1d2e8" stroke="#b1d2e8" d="M1291.8 682.5l15.2 8.9v17.7l-15.2 8.9l-15.2 -8.9v-17.7z"/>
<path fill="#9ecae1" stroke="#9ecae1" d="M1352.8 735.7l15.2 8.9v17.7l-15.2 8.9l-15.2 -8.9v-17.7zM1139.3 788.9l15.2 8.9v17.7l-15.2 8.9l-15.2 -8.9v-17.7zM1352.8 788.9l15.2 8.9v17.7l-15.2 8.9l-15.2 -8.9v-17.7zM1291.8 842.1l15.2 8.9v17.7l-15.2 8.9l-15.2 -8.9v-17.7zM1322.3 842.1l15.2 8.9v17.7l-15.2 8.9l-15.2 -8.9v-17.7zM1261.3 895.3l15.2 8.9v17.7l-15.2 8.9l-15.2 -8.9v-17.7zM1291.8 895.3l15.2 8.9v17.7l-15.2 8.9l-15.2 -8.9v-17.7z"/>
<path fill="#8abfdd" stroke="#8abfdd" d="M1291.8 788.9l15.2 8.9v17.7l-15.2 8.9l-15.2 -8.9v-17.7zM1322.3 788.9l15.2 8.9v17.7l-15.2 8.9l-15.2 -8.9v-17.7zM1261.3 842.1l15.2 8.9v17.7l-15.2 8.9l-15.2 -8.9v-17.7zM1200.3 895.3l15.2 8.9v17.7l-15.2 8.9l-15.2 -8.9v-17.7zM1230.8 895.3l15.2 8.9v17.7l-15.2 8.9l-15.2 -8.9v-17.7z"/>
<path fill="#75b4d8" stroke="#75b4d8" d="M1169.8 682.5l15.2 8.9v17.7l-15.2 8.9l-15.2 -8.9v-17.7zM1261.3 788.9l15.2 8.9v17.7l-15.2 8.9l-15.2 -8.9v-17.7zM1169.8 842.1l15.2 8.9v17.7l-15.2 8.9l-15.2 -8.9v-17.7z"/>
<path fill="#63a8d3" stroke="#63a8d3" d="M1322.3 735.7l15.2 8.9v17.7l-15.2 8.9l-15.2 -8.9v-17.7z"/>
<path fill="#529dcc" stroke="#529dcc" d="M1230.8 842.1l15.2 8.9v17.7l-15.2 8.9l-15.2 -8.9v-17.7z"/>
<path fill="#4292c6" stroke="#4292c6" d="M1200.3 842.1l15.2 8.9v17.7l-15.2 8.9l-15.2 -8.9v-17.7z"/>
<path fill="#3585bf" stroke="#3585bf" d="M1200.3 682.5l15.2 8.9v17.7l-15.2 8.9l-15.2 -8.9v-17.7zM1261.3 682.5l15.2 8.9v17.7l-15.2 8.9l-15.2 -8.9v-17.7zM1291.8 735.7l15.2 8.9v17.7l-15.2 8.9l-15.2 -8.9v-17.7z"/>
<path fill="#2a7aba" stroke="#2a7aba" d="M1169.8 735.7l15.2 8.9v17.7l-15.2 8.9l-15.2 -8.9v-17.7z"/>
<path fill="#1967ad" stroke="#1967ad" d="M1169.8 788.9l15.2 8.9v17.7l-15.2 8.9l-15.2 -8.9v-17.7zM1230.8 788.9l15.2 8.9v17.7l-15.2 8.9l-15.2 -8.9v-17.7z"/>
<path fill="#084d96" stroke="#084d96" d="M1230.8 682.5l15.2 8.9v17.7l-15.2 8.9l-15.2 -8.9v-17.7zM1200.3 735.7l15.2 8.9v17.7l-15.2 8.9l-15.2 -8.9v-17.7zM1200.3 788.9l15.2 8.9v17.7l-15.2 8.9l-15.2 -8.9v-17.7z"/>
<path fill="#083877" stroke="#083877" d="M1261.3 735.7l15.2 8.9v17.7l-15.2 8.9l-15.2 -8.9v-17.7z"/>
<path fill="#08306b" stroke="#08306b" d="M1230.8 735.7l15.2 8.9v17.7l-15.2 8.9l-15.2 -8.9v-17.7z"/>
</g>
<path class="s" d="M1043.1 979.2h14.4M1167.6 1102.6v-14.4M1043.1 855.8h14.4M1292.1 1102.6v-14.4M1043.1 732.4h14.4M1416.6 1102.6v-14.4"/>
<g clip-path="url(#c4)" class="d">
<path d="M1043.1 855.8H1541.1"/>
<path d="M1292.1 1102.6V609"/>
<path d="M1416.6 855.8A124.5 123.4 0 1 0 1167.6 855.8A124.5 123.4 0 1 0 1416.6 855.8"/>
<path d="M1541.1 855.8A249 246.8 0 1 0 1043.1 855.8A249 246.8 0 1 0 1541.1 855.8"/>
</g>
<rect class="s" x="1043.1" y="609" width="498" height="493.6"/>
<text class="t" text-anchor="middle" transform="translate(1043.1 1147.1) scale(0.962 1)">−10</text>
<text class="t" text-anchor="middle" transform="translate(1167.6 1147.1) scale(0.962 1)">−5</text>
<text class="t" text-anchor="middle" transform="translate(1292.1 1147.1) scale(0.962 1)">0</text>
<text class="t" text-anchor="middle" transform="translate(1416.6 1147.1) scale(0.962 1)">5</text>
<text class="t" text-anchor="middle" transform="translate(1541.1 1147.1) scale(0.962 1)">10</text>
<text class="m" transform="translate(1041.6 667.3) scale(1.22 1.16)">(</text>
<text class="m" x="1076.8" y="663.3">e</text>
<text class="m" transform="translate(1103.7 667.3) scale(1.22 1.16)">)</text>
<rect x="1573.2" y="609" width="24.4" height="493.6" fill="url(#cb)"/>
<text class="t" transform="translate(1625.1 1117.6) scale(0.962 1)">0.00%</text>
<text class="t" transform="translate(1625.1 994.2) scale(0.962 1)">0.53%</text>
<text class="t" transform="translate(1625.1 870.8) scale(0.962 1)">1.06%</text>
<text class="t" transform="translate(1625.1 747.4) scale(0.962 1)">1.58%</text>
<text class="t" transform="translate(1625.1 624) scale(0.962 1)">2.11%</text>
<path class="s" d="M1597.6 1102.6h14.4M1597.6 979.2h14.4M1597.6 855.8h14.4M1597.6 732.4h14.4M1597.6 609h14.4"/>
<rect class="s" x="1573.2" y="609" width="24.4" height="493.6"/>
</g>
<g id="panel-f">
<rect x="1791.6" y="609" width="498" height="493.6" fill="#f7fbff"/>
<g clip-path="url(#c5)" stroke-width="1.6" stroke-linejoin="miter">
<path fill="#f3f8fe" stroke="#f3f8fe" d="M1779.3 613.7l18.7 9.7v19.3l-18.7 9.7l-18.7 -9.7v-19.3zM1816.8 613.7l18.7 9.7v19.3l-18.7 9.7l-18.7 -9.7v-19.3zM1854.2 613.7l18.7 9.7v19.3l-18.7 9.7l-18.7 -9.7v-19.3zM1891.7 613.7l18.7 9.7v19.3l-18.7 9.7l-18.7 -9.7v-19.3zM1929.1 613.7l18.7 9.7v19.3l-18.7 9.7l-18.7 -9.7v-19.3zM2191.3 613.7l18.7 9.7v19.3l-18.7 9.7l-18.7 -9.7v-19.3zM2228.7 613.7l18.7 9.7v19.3l-18.7 9.7l-18.7 -9.7v-19.3zM2266.2 613.7l18.7 9.7v19.3l-18.7 9.7l-18.7 -9.7v-19.3zM2303.6 613.7l18.7 9.7v19.3l-18.7 9.7l-18.7 -9.7v-19.3zM1779.3 671.7l18.7 9.7v19.3l-18.7 9.7l-18.7 -9.7v-19.3zM1816.8 671.7l18.7 9.7v19.3l-18.7 9.7l-18.7 -9.7v-19.3zM1854.2 671.7l18.7 9.7v19.3l-18.7 9.7l-18.7 -9.7v-19.3zM1891.7 671.7l18.7 9.7v19.3l-18.7 9.7l-18.7 -9.7v-19.3zM2191.3 671.7l18.7 9.7v19.3l-18.7 9.7l-18.7 -9.7v-19.3zM2228.7 671.7l18.7 9.7v19.3l-18.7 9.7l-18.7 -9.7v-19.3zM2266.2 671.7l18.7 9.7v19.3l-18.7 9.7l-18.7 -9.7v-19.3zM2303.6 671.7l18.7 9.7v19.3l-18.7 9.7l-18.7 -9.7v-19.3zM1779.3 729.7l18.7 9.7v19.3l-18.7 9.7l-18.7 -9.7v-19.3zM1816.8 729.7l18.7 9.7v19.3l-18.7 9.7l-18.7 -9.7v-19.3zM1854.2 729.7l18.7 9.7v19.3l-18.7 9.7l-18.7 -9.7v-19.3zM2153.8 729.7l18.7 9.7v19.3l-18.7 9.7l-18.7 -9.7v-19.3zM2191.3 729.7l18.7 9.7v19.3l-18.7 9.7l-18.7 -9.7v-19.3zM2228.7 729.7l18.7 9.7v19.3l-18.7 9.7l-18.7 -9.7v-19.3zM2266.2 729.7l18.7 9.7v19.3l-18.7 9.7l-18.7 -9.7v-19.3zM2303.6 729.7l18.7 9.7v19.3l-18.7 9.7l-18.7 -9.7v-19.3zM1779.3 787.7l18.7 9.7v19.3l-18.7 9.7l-18.7 -9.7v-19.3zM1816.8 787.7l18.7 9.7v19.3l-18.7 9.7l-18.7 -9.7v-19.3zM1854.2 787.7l18.7 9.7v19.3l-18.7 9.7l-18.7 -9.7v-19.3zM2153.8 787.7l18.7 9.7v19.3l-18.7 9.7l-18.7 -9.7v-19.3zM2191.3 787.7l18.7 9.7v19.3l-18.7 9.7l-18.7 -9.7v-19.3zM2228.7 787.7l18.7 9.7v19.3l-18.7 9.7l-18.7 -9.7v-19.3zM2266.2 787.7l18.7 9.7v19.3l-18.7 9.7l-18.7 -9.7v-19.3zM2303.6 787.7l18.7 9.7v19.3l-18.7 9.7l-18.7 -9.7v-19.3zM1779.3 845.7l18.7 9.7v19.3l-18.7 9.7l-18.7 -9.7v-19.3zM1816.8 845.7l18.7 9.7v19.3l-18.7 9.7l-18.7 -9.7v-19.3zM2153.8 845.7l18.7 9.7v19.3l-18.7 9.7l-18.7 -9.7v-19.3zM2191.3 845.7l18.7 9.7v19.3l-18.7 9.7l-18.7 -9.7v-19.3zM2228.7 845.7l18.7 9.7v19.3l-18.7 9.7l-18.7 -9.7v-19.3zM2266.2 845.7l18.7 9.7v19.3l-18.7 9.7l-18.7 -9.7v-19.3zM2303.6 845.7l18.7 9.7v19.3l-18.7 9.7l-18.7 -9.7v-19.3zM1779.3 903.7l18.7 9.7v19.3l-18.7 9.7l-18.7 -9.7v-19.3zM1816.8 903.7l18.7 9.7v19.3l-18.7 9.7l-18.7 -9.7v-19.3zM2078.9 903.7l18.7 9.7v19.3l-18.7 9.7l-18.7 -9.7v-19.3zM2116.4 903.7l18.7 9.7v19.3l-18.7 9.7l-18.7 -9.7v-19.3zM2153.8 903.7l18.7 9.7v19.3l-18.7 9.7l-18.7 -9.7v-19.3zM2191.3 903.7l18.7 9.7v19.3l-18.7 9.7l-18.7 -9.7v-19.3zM2228.7 903.7l18.7 9.7v19.3l-18.7 9.7l-18.7 -9.7v-19.3zM2266.2 903.7l18.7 9.7v19.3l-18.7 9.7l-18.7 -9.7v-19.3zM2303.6 903.7l18.7 9.7v19.3l-18.7 9.7l-18.7 -9.7v-19.3zM1779.3 961.7l18.7 9.7v19.3l-18.7 9.7l-18.7 -9.7v-19.3zM1816.8 961.7l18.7 9.7v19.3l-18.7 9.7l-18.7 -9.7v-19.3zM1854.2 961.7l18.7 9.7v19.3l-18.7 9.7l-18.7 -9.7v-19.3zM1891.7 961.7l18.7 9.7v19.3l-18.7 9.7l-18.7 -9.7v-19.3zM2116.4 961.7l18.7 9.7v19.3l-18.7 9.7l-18.7 -9.7v-19.3zM2153.8 961.7l18.7 9.7v19.3l-18.7 9.7l-18.7 -9.7v-19.3zM2191.3 961.7l18.7 9.7v19.3l-18.7 9.7l-18.7 -9.7v-19.3zM2228.7 961.7l18.7 9.7v19.3l-18.7 9.7l-18.7 -9.7v-19.3zM2266.2 961.7l18.7 9.7v19.3l-18.7 9.7l-18.7 -9.7v-19.3zM2303.6 961.7l18.7 9.7v19.3l-18.7 9.7l-18.7 -9.7v-19.3zM1779.3 1019.7l18.7 9.7v19.3l-18.7 9.7l-18.7 -9.7v-19.3zM1816.8 1019.7l18.7 9.7v19.3l-18.7 9.7l-18.7 -9.7v-19.3zM1854.2 1019.7l18.7 9.7v19.3l-18.7 9.7l-18.7 -9.7v-19.3zM1891.7 1019.7l18.7 9.7v19.3l-18.7 9.7l-18.7 -9.7v-19.3zM1929.1 1019.7l18.7 9.7v19.3l-18.7 9.7l-18.7 -9.7v-19.3zM2004 1019.7l18.7 9.7v19.3l-18.7 9.7l-18.7 -9.7v-19.3zM2041.5 1019.7l18.7 9.7v19.3l-18.7 9.7l-18.7 -9.7v-19.3zM2116.4 1019.7l18.7 9.7v19.3l-18.7 9.7l-18.7 -9.7v-19.3zM2153.8 1019.7l18.7 9.7v19.3l-18.7 9.7l-18.7 -9.7v-19.3zM2191.3 1019.7l18.7 9.7v19.3l-18.7 9.7l-18.7 -9.7v-19.3zM2228.7 1019.7l18.7 9.7v19.3l-18.7 9.7l-18.7 -9.7v-19.3zM2266.2 1019.7l18.7 9.7v19.3l-18.7 9.7l-18.7 -9.7v-19.3zM2303.6 1019.7l18.7 9.7v19.3l-18.7 9.7l-18.7 -9.7v-19.3zM1779.3 1077.7l18.7 9.7v19.3l-18.7 9.7l-18.7 -9.7v-19.3zM1816.8 1077.7l18.7 9.7v19.3l-18.7 9.7l-18.7 -9.7v-19.3zM1854.2 1077.7l18.7 9.7v19.3l-18.7 9.7l-18.7 -9.7v-19.3zM1891.7 1077.7l18.7 9.7v19.3l-18.7 9.7l-18.7 -9.7v-19.3zM1929.1 1077.7l18.7 9.7v19.3l-18.7 9.7l-18.7 -9.7v-19.3zM1966.6 1077.7l18.7 9.7v19.3l-18.7 9.7l-18.7 -9.7v-19.3zM2004 1077.7l18.7 9.7v19.3l-18.7 9.7l-18.7 -9.7v-19.3zM2041.5 1077.7l18.7 9.7v19.3l-18.7 9.7l-18.7 -9.7v-19.3zM2078.9 1077.7l18.7 9.7v19.3l-18.7 9.7l-18.7 -9.7v-19.3zM2116.4 1077.7l18.7 9.7v19.3l-18.7 9.7l-18.7 -9.7v-19.3zM2153.8 1077.7l18.7 9.7v19.3l-18.7 9.7l-18.7 -9.7v-19.3zM2191.3 1077.7l18.7 9.7v19.3l-18.7 9.7l-18.7 -9.7v-19.3zM2228.7 1077.7l18.7 9.7v19.3l-18.7 9.7l-18.7 -9.7v-19.3zM2266.2 1077.7l18.7 9.7v19.3l-18.7 9.7l-18.7 -9.7v-19.3zM2303.6 1077.7l18.7 9.7v19.3l-18.7 9.7l-18.7 -9.7v-19.3z"/>
<path fill="#eaf3fb" stroke="#eaf3fb" d="M1966.6 613.7l18.7 9.7v19.3l-18.7 9.7l-18.7 -9.7v-19.3zM2153.8 613.7l18.7 9.7v19.3l-18.7 9.7l-18.7 -9.7v-19.3zM1929.1 671.7l18.7 9.7v19.3l-18.7 9.7l-18.7 -9.7v-19.3zM2153.8 671.7l18.7 9.7v19.3l-18.7 9.7l-18.7 -9.7v-19.3zM1891.7 729.7l18.7 9.7v19.3l-18.7 9.7l-18.7 -9.7v-19.3zM2116.4 787.7l18.7 9.7v19.3l-18.7 9.7l-18.7 -9.7v-19.3zM1854.2 845.7l18.7 9.7v19.3l-18.7 9.7l-18.7 -9.7v-19.3zM2078.9 845.7l18.7 9.7v19.3l-18.7 9.7l-18.7 -9.7v-19.3zM2116.4 845.7l18.7 9.7v19.3l-18.7 9.7l-18.7 -9.7v-19.3zM1854.2 903.7l18.7 9.7v19.3l-18.7 9.7l-18.7 -9.7v-19.3zM2041.5 903.7l18.7 9.7v19.3l-18.7 9.7l-18.7 -9.7v-19.3zM2041.5 961.7l18.7 9.7v19.3l-18.7 9.7l-18.7 -9.7v-19.3zM1966.6 1019.7l18.7 9.7v19.3l-18.7 9.7l-18.7 -9.7v-19.3zM2078.9 1019.7l18.7 9.7v19.3l-18.7 9.7l-18.7 -9.7v-19.3z"/>
<path fill="#d6e6f4" stroke="#d6e6f4" d="M2004 613.7l18.7 9.7v19.3l-18.7 9.7l-18.7 -9.7v-19.3zM2116.4 729.7l18.7 9.7v19.3l-18.7 9.7l-18.7 -9.7v-19.3zM1891.7 787.7l18.7 9.7v19.3l-18.7 9.7l-18.7 -9.7v-19.3zM1891.7 903.7l18.7 9.7v19.3l-18.7 9.7l-18.7 -9.7v-19.3zM2004 903.7l18.7 9.7v19.3l-18.7 9.7l-18.7 -9.7v-19.3zM1966.6 961.7l18.7 9.7v19.3l-18.7 9.7l-18.7 -9.7v-19.3zM2004 961.7l18.7 9.7v19.3l-18.7 9.7l-18.7 -9.7v-19.3zM2078.9 961.7l18.7 9.7v19.3l-18.7 9.7l-18.7 -9.7v-19.3z"/>
<path fill="#cbdef1" stroke="#cbdef1" d="M1966.6 671.7l18.7 9.7v19.3l-18.7 9.7l-18.7 -9.7v-19.3zM1929.1 729.7l18.7 9.7v19.3l-18.7 9.7l-18.7 -9.7v-19.3zM2078.9 787.7l18.7 9.7v19.3l-18.7 9.7l-18.7 -9.7v-19.3zM1891.7 845.7l18.7 9.7v19.3l-18.7 9.7l-18.7 -9.7v-19.3zM2041.5 845.7l18.7 9.7v19.3l-18.7 9.7l-18.7 -9.7v-19.3zM1929.1 961.7l18.7 9.7v19.3l-18.7 9.7l-18.7 -9.7v-19.3z"/>
<path fill="#aacfe5" stroke="#aacfe5" d="M1966.6 903.7l18.7 9.7v19.3l-18.7 9.7l-18.7 -9.7v-19.3z"/>
<path fill="#99c7e0" stroke="#99c7e0" d="M2041.5 613.7l18.7 9.7v19.3l-18.7 9.7l-18.7 -9.7v-19.3zM2116.4 671.7l18.7 9.7v19.3l-18.7 9.7l-18.7 -9.7v-19.3zM2078.9 729.7l18.7 9.7v19.3l-18.7 9.7l-18.7 -9.7v-19.3zM1929.1 845.7l18.7 9.7v19.3l-18.7 9.7l-18.7 -9.7v-19.3zM2004 845.7l18.7 9.7v19.3l-18.7 9.7l-18.7 -9.7v-19.3zM1929.1 903.7l18.7 9.7v19.3l-18.7 9.7l-18.7 -9.7v-19.3z"/>
<path fill="#84bcdc" stroke="#84bcdc" d="M1966.6 729.7l18.7 9.7v19.3l-18.7 9.7l-18.7 -9.7v-19.3zM1929.1 787.7l18.7 9.7v19.3l-18.7 9.7l-18.7 -9.7v-19.3zM2041.5 787.7l18.7 9.7v19.3l-18.7 9.7l-18.7 -9.7v-19.3z"/>
<path fill="#70b1d7" stroke="#70b1d7" d="M2116.4 613.7l18.7 9.7v19.3l-18.7 9.7l-18.7 -9.7v-19.3zM2004 671.7l18.7 9.7v19.3l-18.7 9.7l-18.7 -9.7v-19.3z"/>
<path fill="#5fa6d1" stroke="#5fa6d1" d="M2004 787.7l18.7 9.7v19.3l-18.7 9.7l-18.7 -9.7v-19.3zM1966.6 845.7l18.7 9.7v19.3l-18.7 9.7l-18.7 -9.7v-19.3z"/>
<path fill="#4e9acb" stroke="#4e9acb" d="M2041.5 729.7l18.7 9.7v19.3l-18.7 9.7l-18.7 -9.7v-19.3z"/>
<path fill="#3f8fc4" stroke="#3f8fc4" d="M2078.9 613.7l18.7 9.7v19.3l-18.7 9.7l-18.7 -9.7v-19.3zM2041.5 671.7l18.7 9.7v19.3l-18.7 9.7l-18.7 -9.7v-19.3zM1966.6 787.7l18.7 9.7v19.3l-18.7 9.7l-18.7 -9.7v-19.3z"/>
<path fill="#2777b8" stroke="#2777b8" d="M2004 729.7l18.7 9.7v19.3l-18.7 9.7l-18.7 -9.7v-19.3z"/>
<path fill="#08468c" stroke="#08468c" d="M2078.9 671.7l18.7 9.7v19.3l-18.7 9.7l-18.7 -9.7v-19.3z"/>
<path fill="#f3f8fe" stroke="#f3f8fe" d="M1798 584.7l18.7 9.7v19.3l-18.7 9.7l-18.7 -9.7v-19.3zM1835.5 584.7l18.7 9.7v19.3l-18.7 9.7l-18.7 -9.7v-19.3zM1872.9 584.7l18.7 9.7v19.3l-18.7 9.7l-18.7 -9.7v-19.3zM1910.4 584.7l18.7 9.7v19.3l-18.7 9.7l-18.7 -9.7v-19.3zM1947.8 584.7l18.7 9.7v19.3l-18.7 9.7l-18.7 -9.7v-19.3zM1985.3 584.7l18.7 9.7v19.3l-18.7 9.7l-18.7 -9.7v-19.3zM2172.5 584.7l18.7 9.7v19.3l-18.7 9.7l-18.7 -9.7v-19.3zM2210 584.7l18.7 9.7v19.3l-18.7 9.7l-18.7 -9.7v-19.3zM2247.4 584.7l18.7 9.7v19.3l-18.7 9.7l-18.7 -9.7v-19.3zM2284.9 584.7l18.7 9.7v19.3l-18.7 9.7l-18.7 -9.7v-19.3zM1798 642.7l18.7 9.7v19.3l-18.7 9.7l-18.7 -9.7v-19.3zM1835.5 642.7l18.7 9.7v19.3l-18.7 9.7l-18.7 -9.7v-19.3zM1872.9 642.7l18.7 9.7v19.3l-18.7 9.7l-18.7 -9.7v-19.3zM2172.5 642.7l18.7 9.7v19.3l-18.7 9.7l-18.7 -9.7v-19.3zM2210 642.7l18.7 9.7v19.3l-18.7 9.7l-18.7 -9.7v-19.3zM2247.4 642.7l18.7 9.7v19.3l-18.7 9.7l-18.7 -9.7v-19.3zM2284.9 642.7l18.7 9.7v19.3l-18.7 9.7l-18.7 -9.7v-19.3zM1798 700.7l18.7 9.7v19.3l-18.7 9.7l-18.7 -9.7v-19.3zM1835.5 700.7l18.7 9.7v19.3l-18.7 9.7l-18.7 -9.7v-19.3zM1872.9 700.7l18.7 9.7v19.3l-18.7 9.7l-18.7 -9.7v-19.3zM2172.5 700.7l18.7 9.7v19.3l-18.7 9.7l-18.7 -9.7v-19.3zM2210 700.7l18.7 9.7v19.3l-18.7 9.7l-18.7 -9.7v-19.3zM2247.4 700.7l18.7 9.7v19.3l-18.7 9.7l-18.7 -9.7v-19.3zM2284.9 700.7l18.7 9.7v19.3l-18.7 9.7l-18.7 -9.7v-19.3zM1798 758.7l18.7 9.7v19.3l-18.7 9.7l-18.7 -9.7v-19.3zM1835.5 758.7l18.7 9.7v19.3l-18.7 9.7l-18.7 -9.7v-19.3zM2172.5 758.7l18.7 9.7v19.3l-18.7 9.7l-18.7 -9.7v-19.3zM2210 758.7l18.7 9.7v19.3l-18.7 9.7l-18.7 -9.7v-19.3zM2247.4 758.7l18.7 9.7v19.3l-18.7 9.7l-18.7 -9.7v-19.3zM2284.9 758.7l18.7 9.7v19.3l-18.7 9.7l-18.7 -9.7v-19.3zM1798 816.7l18.7 9.7v19.3l-18.7 9.7l-18.7 -9.7v-19.3zM2135.1 816.7l18.7 9.7v19.3l-18.7 9.7l-18.7 -9.7v-19.3zM2172.5 816.7l18.7 9.7v19.3l-18.7 9.7l-18.7 -9.7v-19.3zM2210 816.7l18.7 9.7v19.3l-18.7 9.7l-18.7 -9.7v-19.3zM2247.4 816.7l18.7 9.7v19.3l-18.7 9.7l-18.7 -9.7v-19.3zM2284.9 816.7l18.7 9.7v19.3l-18.7 9.7l-18.7 -9.7v-19.3zM1798 874.7l18.7 9.7v19.3l-18.7 9.7l-18.7 -9.7v-19.3zM2135.1 874.7l18.7 9.7v19.3l-18.7 9.7l-18.7 -9.7v-19.3zM2172.5 874.7l18.7 9.7v19.3l-18.7 9.7l-18.7 -9.7v-19.3zM2210 874.7l18.7 9.7v19.3l-18.7 9.7l-18.7 -9.7v-19.3zM2247.4 874.7l18.7 9.7v19.3l-18.7 9.7l-18.7 -9.7v-19.3zM2284.9 874.7l18.7 9.7v19.3l-18.7 9.7l-18.7 -9.7v-19.3zM1798 932.7l18.7 9.7v19.3l-18.7 9.7l-18.7 -9.7v-19.3zM1835.5 932.7l18.7 9.7v19.3l-18.7 9.7l-18.7 -9.7v-19.3zM1872.9 932.7l18.7 9.7v19.3l-18.7 9.7l-18.7 -9.7v-19.3zM2060.2 932.7l18.7 9.7v19.3l-18.7 9.7l-18.7 -9.7v-19.3zM2097.6 932.7l18.7 9.7v19.3l-18.7 9.7l-18.7 -9.7v-19.3zM2135.1 932.7l18.7 9.7v19.3l-18.7 9.7l-18.7 -9.7v-19.3zM2172.5 932.7l18.7 9.7v19.3l-18.7 9.7l-18.7 -9.7v-19.3zM2210 932.7l18.7 9.7v19.3l-18.7 9.7l-18.7 -9.7v-19.3zM2247.4 932.7l18.7 9.7v19.3l-18.7 9.7l-18.7 -9.7v-19.3zM2284.9 932.7l18.7 9.7v19.3l-18.7 9.7l-18.7 -9.7v-19.3zM1798 990.7l18.7 9.7v19.3l-18.7 9.7l-18.7 -9.7v-19.3zM1835.5 990.7l18.7 9.7v19.3l-18.7 9.7l-18.7 -9.7v-19.3zM1872.9 990.7l18.7 9.7v19.3l-18.7 9.7l-18.7 -9.7v-19.3zM1910.4 990.7l18.7 9.7v19.3l-18.7 9.7l-18.7 -9.7v-19.3zM2022.7 990.7l18.7 9.7v19.3l-18.7 9.7l-18.7 -9.7v-19.3zM2097.6 990.7l18.7 9.7v19.3l-18.7 9.7l-18.7 -9.7v-19.3zM2135.1 990.7l18.7 9.7v19.3l-18.7 9.7l-18.7 -9.7v-19.3zM2172.5 990.7l18.7 9.7v19.3l-18.7 9.7l-18.7 -9.7v-19.3zM2210 990.7l18.7 9.7v19.3l-18.7 9.7l-18.7 -9.7v-19.3zM2247.4 990.7l18.7 9.7v19.3l-18.7 9.7l-18.7 -9.7v-19.3zM2284.9 990.7l18.7 9.7v19.3l-18.7 9.7l-18.7 -9.7v-19.3zM1798 1048.7l18.7 9.7v19.3l-18.7 9.7l-18.7 -9.7v-19.3zM1835.5 1048.7l18.7 9.7v19.3l-18.7 9.7l-18.7 -9.7v-19.3zM1872.9 1048.7l18.7 9.7v19.3l-18.7 9.7l-18.7 -9.7v-19.3zM1910.4 1048.7l18.7 9.7v19.3l-18.7 9.7l-18.7 -9.7v-19.3zM1947.8 1048.7l18.7 9.7v19.3l-18.7 9.7l-18.7 -9.7v-19.3zM1985.3 1048.7l18.7 9.7v19.3l-18.7 9.7l-18.7 -9.7v-19.3zM2022.7 1048.7l18.7 9.7v19.3l-18.7 9.7l-18.7 -9.7v-19.3zM2060.2 1048.7l18.7 9.7v19.3l-18.7 9.7l-18.7 -9.7v-19.3zM2097.6 1048.7l18.7 9.7v19.3l-18.7 9.7l-18.7 -9.7v-19.3zM2135.1 1048.7l18.7 9.7v19.3l-18.7 9.7l-18.7 -9.7v-19.3zM2172.5 1048.7l18.7 9.7v19.3l-18.7 9.7l-18.7 -9.7v-19.3zM2210 1048.7l18.7 9.7v19.3l-18.7 9.7l-18.7 -9.7v-19.3zM2247.4 1048.7l18.7 9.7v19.3l-18.7 9.7l-18.7 -9.7v-19.3zM2284.9 1048.7l18.7 9.7v19.3l-18.7 9.7l-18.7 -9.7v-19.3z"/>
<path fill="#eaf3fb" stroke="#eaf3fb" d="M1910.4 642.7l18.7 9.7v19.3l-18.7 9.7l-18.7 -9.7v-19.3zM1910.4 700.7l18.7 9.7v19.3l-18.7 9.7l-18.7 -9.7v-19.3zM1872.9 758.7l18.7 9.7v19.3l-18.7 9.7l-18.7 -9.7v-19.3zM2135.1 758.7l18.7 9.7v19.3l-18.7 9.7l-18.7 -9.7v-19.3zM1835.5 816.7l18.7 9.7v19.3l-18.7 9.7l-18.7 -9.7v-19.3zM1872.9 816.7l18.7 9.7v19.3l-18.7 9.7l-18.7 -9.7v-19.3zM2097.6 816.7l18.7 9.7v19.3l-18.7 9.7l-18.7 -9.7v-19.3zM1835.5 874.7l18.7 9.7v19.3l-18.7 9.7l-18.7 -9.7v-19.3zM2060.2 874.7l18.7 9.7v19.3l-18.7 9.7l-18.7 -9.7v-19.3zM2097.6 874.7l18.7 9.7v19.3l-18.7 9.7l-18.7 -9.7v-19.3zM1910.4 932.7l18.7 9.7v19.3l-18.7 9.7l-18.7 -9.7v-19.3zM1947.8 990.7l18.7 9.7v19.3l-18.7 9.7l-18.7 -9.7v-19.3zM1985.3 990.7l18.7 9.7v19.3l-18.7 9.7l-18.7 -9.7v-19.3zM2060.2 990.7l18.7 9.7v19.3l-18.7 9.7l-18.7 -9.7v-19.3z"/>
<path fill="#d6e6f4" stroke="#d6e6f4" d="M2022.7 584.7l18.7 9.7v19.3l-18.7 9.7l-18.7 -9.7v-19.3zM1947.8 642.7l18.7 9.7v19.3l-18.7 9.7l-18.7 -9.7v-19.3zM2135.1 700.7l18.7 9.7v19.3l-18.7 9.7l-18.7 -9.7v-19.3zM2097.6 758.7l18.7 9.7v19.3l-18.7 9.7l-18.7 -9.7v-19.3zM2060.2 816.7l18.7 9.7v19.3l-18.7 9.7l-18.7 -9.7v-19.3zM1872.9 874.7l18.7 9.7v19.3l-18.7 9.7l-18.7 -9.7v-19.3zM2022.7 874.7l18.7 9.7v19.3l-18.7 9.7l-18.7 -9.7v-19.3zM1985.3 932.7l18.7 9.7v19.3l-18.7 9.7l-18.7 -9.7v-19.3zM2022.7 932.7l18.7 9.7v19.3l-18.7 9.7l-18.7 -9.7v-19.3z"/>
<path fill="#cbdef1" stroke="#cbdef1" d="M2135.1 642.7l18.7 9.7v19.3l-18.7 9.7l-18.7 -9.7v-19.3zM1947.8 700.7l18.7 9.7v19.3l-18.7 9.7l-18.7 -9.7v-19.3zM1910.4 758.7l18.7 9.7v19.3l-18.7 9.7l-18.7 -9.7v-19.3zM1985.3 874.7l18.7 9.7v19.3l-18.7 9.7l-18.7 -9.7v-19.3z"/>
<path fill="#bcd7eb" stroke="#bcd7eb" d="M2135.1 584.7l18.7 9.7v19.3l-18.7 9.7l-18.7 -9.7v-19.3zM1985.3 642.7l18.7 9.7v19.3l-18.7 9.7l-18.7 -9.7v-19.3zM2022.7 816.7l18.7 9.7v19.3l-18.7 9.7l-18.7 -9.7v-19.3zM1947.8 932.7l18.7 9.7v19.3l-18.7 9.7l-18.7 -9.7v-19.3z"/>
<path fill="#aacfe5" stroke="#aacfe5" d="M2060.2 584.7l18.7 9.7v19.3l-18.7 9.7l-18.7 -9.7v-19.3zM1910.4 816.7l18.7 9.7v19.3l-18.7 9.7l-18.7 -9.7v-19.3z"/>
<path fill="#99c7e0" stroke="#99c7e0" d="M2097.6 700.7l18.7 9.7v19.3l-18.7 9.7l-18.7 -9.7v-19.3zM2060.2 758.7l18.7 9.7v19.3l-18.7 9.7l-18.7 -9.7v-19.3z"/>
<path fill="#84bcdc" stroke="#84bcdc" d="M2097.6 584.7l18.7 9.7v19.3l-18.7 9.7l-18.7 -9.7v-19.3zM1910.4 874.7l18.7 9.7v19.3l-18.7 9.7l-18.7 -9.7v-19.3zM1947.8 874.7l18.7 9.7v19.3l-18.7 9.7l-18.7 -9.7v-19.3z"/>
<path fill="#70b1d7" stroke="#70b1d7" d="M2022.7 642.7l18.7 9.7v19.3l-18.7 9.7l-18.7 -9.7v-19.3zM1985.3 700.7l18.7 9.7v19.3l-18.7 9.7l-18.7 -9.7v-19.3zM1947.8 758.7l18.7 9.7v19.3l-18.7 9.7l-18.7 -9.7v-19.3zM2022.7 758.7l18.7 9.7v19.3l-18.7 9.7l-18.7 -9.7v-19.3z"/>
<path fill="#5fa6d1" stroke="#5fa6d1" d="M1985.3 816.7l18.7 9.7v19.3l-18.7 9.7l-18.7 -9.7v-19.3z"/>
<path fill="#4e9acb" stroke="#4e9acb" d="M2022.7 700.7l18.7 9.7v19.3l-18.7 9.7l-18.7 -9.7v-19.3zM2060.2 700.7l18.7 9.7v19.3l-18.7 9.7l-18.7 -9.7v-19.3zM1947.8 816.7l18.7 9.7v19.3l-18.7 9.7l-18.7 -9.7v-19.3z"/>
<path fill="#3f8fc4" stroke="#3f8fc4" d="M1985.3 758.7l18.7 9.7v19.3l-18.7 9.7l-18.7 -9.7v-19.3z"/>
<path fill="#2777b8" stroke="#2777b8" d="M2097.6 642.7l18.7 9.7v19.3l-18.7 9.7l-18.7 -9.7v-19.3z"/>
<path fill="#08306b" stroke="#08306b" d="M2060.2 642.7l18.7 9.7v19.3l-18.7 9.7l-18.7 -9.7v-19.3z"/>
</g>
<path class="s" d="M1791.6 979.2h14.4M1916.1 1102.6v-14.4M1791.6 855.8h14.4M2040.6 1102.6v-14.4M1791.6 732.4h14.4M2165.1 1102.6v-14.4"/>
<g clip-path="url(#c5)" class="d">
<path d="M1791.6 855.8H2289.6"/>
<path d="M2040.6 1102.6V609"/>
<path d="M2165.1 855.8A124.5 123.4 0 1 0 1916.1 855.8A124.5 123.4 0 1 0 2165.1 855.8"/>
<path d="M2289.6 855.8A249 246.8 0 1 0 1791.6 855.8A249 246.8 0 1 0 2289.6 855.8"/>
</g>
<rect class="s" x="1791.6" y="609" width="498" height="493.6"/>
<text class="t" text-anchor="middle" transform="translate(1791.6 1147.1) scale(0.962 1)">−10</text>
<text class="t" text-anchor="middle" transform="translate(1916.1 1147.1) scale(0.962 1)">−5</text>
<text class="t" text-anchor="middle" transform="translate(2040.6 1147.1) scale(0.962 1)">0</text>
<text class="t" text-anchor="middle" transform="translate(2165.1 1147.1) scale(0.962 1)">5</text>
<text class="t" text-anchor="middle" transform="translate(2289.6 1147.1) scale(0.962 1)">10</text>
<text class="m" transform="translate(1791.2 667.3) scale(1.22 1.16)">(</text>
<text class="m" text-anchor="middle" transform="translate(1841.6 662.6) scale(1.2 1)">f</text>
<text class="m" transform="translate(1853.3 667.3) scale(1.22 1.16)">)</text>
<rect x="2321.7" y="609" width="24.4" height="493.6" fill="url(#cb)"/>
<text class="t" transform="translate(2373.6 1117.6) scale(0.962 1)">0.00%</text>
<text class="t" transform="translate(2373.6 994.2) scale(0.962 1)">0.78%</text>
<text class="t" transform="translate(2373.6 870.8) scale(0.962 1)">1.56%</text>
<text class="t" transform="translate(2373.6 747.4) scale(0.962 1)">2.34%</text>
<text class="t" transform="translate(2373.6 624) scale(0.962 1)">3.12%</text>
<path class="s" d="M2346.1 1102.6h14.4M2346.1 979.2h14.4M2346.1 855.8h14.4M2346.1 732.4h14.4M2346.1 609h14.4"/>
<rect class="s" x="2321.7" y="609" width="24.4" height="493.6"/>
</g>
<text class="l" text-anchor="middle" transform="translate(1319.6 1234.4) scale(1.053 1)">U (m/s)</text>
<text class="l" text-anchor="middle" transform="translate(42 552.9) rotate(-90) scale(1.04 1)">V (m/s)</text>
</svg></body></html>
